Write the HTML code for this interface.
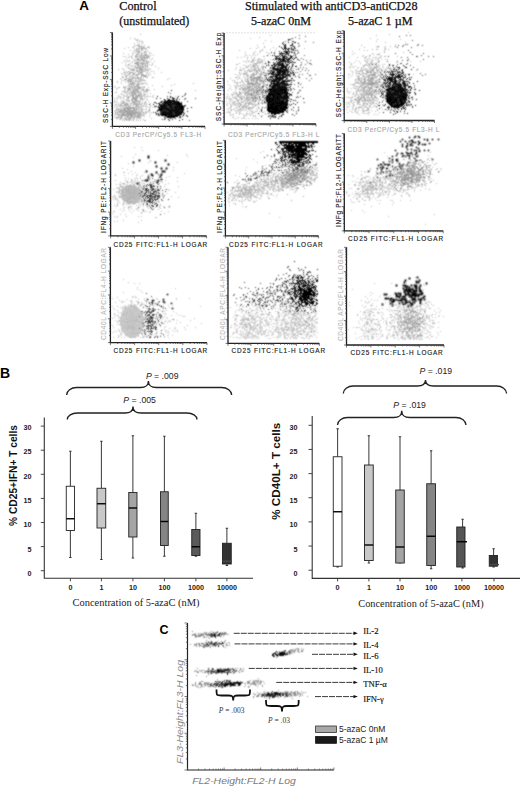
<!DOCTYPE html><html><head><meta charset="utf-8"><style>html,body{margin:0;padding:0;background:#fff}svg{display:block}</style></head><body>
<svg width="520" height="786" viewBox="0 0 520 786">
<defs><filter id="bl" x="0" y="0" width="520" height="786" filterUnits="userSpaceOnUse"><feConvolveMatrix order="3" kernelMatrix="1 2 1 2 6 2 1 2 1" divisor="18" edgeMode="none"/></filter><filter id="bl2"><feGaussianBlur stdDeviation="0.8"/></filter></defs>
<rect width="520" height="786" fill="#fff"/>
<text x="79.3" y="9.9" font-family='"Liberation Sans", sans-serif' font-weight="bold" font-size="13.4">A</text>
<g font-family='"Liberation Serif", serif' font-size="12.2" fill="#111" stroke="#111" stroke-width="0.25">
<text x="119.3" y="10">Control</text>
<text x="119.3" y="24.7" textLength="70" lengthAdjust="spacingAndGlyphs">(unstimulated)</text>
<text x="245" y="10" textLength="172.5" lengthAdjust="spacingAndGlyphs">Stimulated with antiCD3-antiCD28</text>
<text x="251" y="24.7" textLength="60" lengthAdjust="spacingAndGlyphs">5-azaC 0nM</text>
<text x="348" y="24.7" textLength="64.5" lengthAdjust="spacingAndGlyphs">5-azaC 1 µM</text>
</g>
<g filter="url(#bl)"><g shape-rendering="crispEdges" transform="translate(0 0.5)">
<path d="M114 86h1M114 98h1M114 100h1M114 101h1M114 102h1M114 105h1M114 107h1M114 111h1M114 115h1M114 117h1M115 87h1M115 92h1M115 104h1M115 110h1M115 112h1M115 113h1M116 89h1M116 92h1M116 98h1M116 101h1M116 102h1M116 104h1M116 108h1M116 109h1M116 110h1M116 111h1M116 113h1M116 116h1M116 117h1M117 81h1M117 82h1M117 88h1M117 97h1M117 99h1M117 105h1M117 107h1M117 109h1M117 112h1M117 113h1M117 114h1M117 117h1M117 118h1M118 69h1M118 87h1M118 95h1M118 96h1M118 103h1M118 104h1M118 108h1M118 110h1M118 111h1M118 112h1M118 114h1M118 115h1M118 117h1M119 87h1M119 97h1M119 105h1M119 106h1M119 109h1M119 111h1M119 112h1M119 114h1M119 115h1M119 117h1M119 119h1M120 78h1M120 96h1M120 98h1M120 102h1M120 104h1M120 105h1M120 106h1M120 108h1M120 109h1M120 111h1M120 112h1M120 113h1M120 114h1M120 117h1M120 119h1M121 73h1M121 79h1M121 81h1M121 83h1M121 93h1M121 94h1M121 97h1M121 100h1M121 103h1M121 104h1M121 105h1M121 107h1M121 109h1M121 110h1M121 111h1M121 112h1M121 114h1M121 116h1M121 117h1M121 118h1M122 62h1M122 68h1M122 74h1M122 76h1M122 91h1M122 101h1M122 102h1M122 103h1M122 108h1M122 110h1M122 111h1M122 112h1M122 115h1M122 116h1M122 118h1M122 120h1M123 53h1M123 56h1M123 69h1M123 72h1M123 77h1M123 80h1M123 86h1M123 87h1M123 91h1M123 94h1M123 95h1M123 97h1M123 98h1M123 100h1M123 101h1M123 102h1M123 103h1M123 105h1M123 106h1M123 108h1M123 109h1M123 110h1M123 111h1M123 112h1M123 113h1M123 114h1M123 115h1M123 119h1M124 48h1M124 60h1M124 70h1M124 72h1M124 74h1M124 79h1M124 87h1M124 88h1M124 90h1M124 92h1M124 96h1M124 102h1M124 103h1M124 104h1M124 105h1M124 107h1M124 108h1M124 109h1M124 110h1M124 111h1M124 112h1M124 113h1M124 116h1M124 120h1M125 56h1M125 61h1M125 63h1M125 72h1M125 73h1M125 75h1M125 76h1M125 78h1M125 80h1M125 82h1M125 86h1M125 87h1M125 88h1M125 90h1M125 91h1M125 92h1M125 95h1M125 99h1M125 102h1M125 105h1M125 107h1M125 108h1M125 109h1M125 110h1M125 111h1M125 112h1M125 114h1M125 117h1M125 118h1M125 119h1M126 58h1M126 67h1M126 71h1M126 75h1M126 76h1M126 77h1M126 79h1M126 100h1M126 102h1M126 103h1M126 104h1M126 105h1M126 106h1M126 107h1M126 108h1M126 110h1M126 111h1M126 112h1M126 113h1M126 114h1M126 115h1M126 118h1M126 120h1M127 60h1M127 61h1M127 65h1M127 72h1M127 73h1M127 75h1M127 78h1M127 80h1M127 81h1M127 86h1M127 88h1M127 90h1M127 91h1M127 92h1M127 94h1M127 95h1M127 97h1M127 98h1M127 99h1M127 100h1M127 103h1M127 104h1M127 105h1M127 107h1M127 108h1M127 109h1M127 110h1M127 111h1M127 112h1M127 113h1M127 114h1M127 115h1M127 116h1M127 117h1M127 119h1M128 47h1M128 54h1M128 57h1M128 64h1M128 65h1M128 67h1M128 68h1M128 71h1M128 74h1M128 78h1M128 79h1M128 80h1M128 81h1M128 82h1M128 84h1M128 85h1M128 88h1M128 89h1M128 90h1M128 92h1M128 98h1M128 100h1M128 101h1M128 104h1M128 105h1M128 106h1M128 107h1M128 108h1M128 109h1M128 110h1M128 111h1M128 112h1M128 113h1M128 114h1M128 115h1M128 116h1M128 117h1M128 118h1M128 119h1M128 120h1M129 56h1M129 60h1M129 61h1M129 64h1M129 68h1M129 71h1M129 72h1M129 73h1M129 74h1M129 76h1M129 77h1M129 80h1M129 81h1M129 83h1M129 85h1M129 86h1M129 87h1M129 90h1M129 94h1M129 97h1M129 100h1M129 102h1M129 106h1M129 107h1M129 108h1M129 109h1M129 110h1M129 111h1M129 112h1M129 113h1M129 114h1M129 115h1M129 117h1M129 118h1M129 119h1M129 120h1M130 38h1M130 50h1M130 63h1M130 66h1M130 69h1M130 72h1M130 73h1M130 75h1M130 78h1M130 79h1M130 80h1M130 82h1M130 83h1M130 84h1M130 86h1M130 88h1M130 89h1M130 91h1M130 95h1M130 96h1M130 103h1M130 104h1M130 105h1M130 106h1M130 107h1M130 109h1M130 110h1M130 111h1M130 112h1M130 113h1M130 114h1M130 115h1M130 117h1M130 118h1M130 119h1M131 56h1M131 65h1M131 68h1M131 69h1M131 70h1M131 76h1M131 77h1M131 79h1M131 80h1M131 81h1M131 83h1M131 85h1M131 86h1M131 87h1M131 90h1M131 92h1M131 93h1M131 94h1M131 95h1M131 99h1M131 100h1M131 107h1M131 108h1M131 111h1M131 112h1M131 113h1M131 114h1M131 115h1M131 116h1M131 118h1M131 120h1M132 47h1M132 53h1M132 58h1M132 61h1M132 62h1M132 66h1M132 69h1M132 70h1M132 74h1M132 75h1M132 77h1M132 78h1M132 79h1M132 81h1M132 82h1M132 83h1M132 84h1M132 86h1M132 87h1M132 88h1M132 89h1M132 91h1M132 92h1M132 93h1M132 94h1M132 95h1M132 97h1M132 98h1M132 99h1M132 100h1M132 102h1M132 105h1M132 107h1M132 108h1M132 110h1M132 111h1M132 112h1M132 113h1M132 114h1M132 115h1M132 116h1M133 47h1M133 51h1M133 53h1M133 65h1M133 68h1M133 69h1M133 70h1M133 72h1M133 73h1M133 74h1M133 76h1M133 77h1M133 78h1M133 80h1M133 82h1M133 84h1M133 85h1M133 87h1M133 89h1M133 90h1M133 91h1M133 93h1M133 95h1M133 99h1M133 101h1M133 103h1M133 104h1M133 105h1M133 107h1M133 108h1M133 109h1M133 110h1M133 111h1M133 112h1M133 113h1M133 114h1M133 116h1M133 117h1M133 118h1M134 38h1M134 43h1M134 45h1M134 46h1M134 49h1M134 50h1M134 59h1M134 63h1M134 67h1M134 69h1M134 70h1M134 74h1M134 77h1M134 81h1M134 83h1M134 85h1M134 86h1M134 87h1M134 88h1M134 89h1M134 90h1M134 91h1M134 92h1M134 93h1M134 94h1M134 97h1M134 98h1M134 99h1M134 100h1M134 101h1M134 102h1M134 103h1M134 107h1M134 109h1M134 110h1M134 111h1M134 112h1M134 113h1M134 115h1M134 116h1M134 117h1M134 118h1M135 39h1M135 52h1M135 55h1M135 57h1M135 60h1M135 63h1M135 65h1M135 66h1M135 67h1M135 72h1M135 77h1M135 78h1M135 79h1M135 80h1M135 81h1M135 83h1M135 86h1M135 87h1M135 88h1M135 89h1M135 90h1M135 91h1M135 92h1M135 94h1M135 95h1M135 96h1M135 97h1M135 99h1M135 100h1M135 101h1M135 102h1M135 103h1M135 104h1M135 106h1M135 107h1M135 109h1M135 110h1M135 111h1M135 112h1M135 113h1M135 114h1M135 115h1M136 40h1M136 45h1M136 48h1M136 50h1M136 54h1M136 55h1M136 56h1M136 57h1M136 59h1M136 62h1M136 64h1M136 68h1M136 71h1M136 74h1M136 75h1M136 78h1M136 81h1M136 84h1M136 85h1M136 86h1M136 88h1M136 89h1M136 90h1M136 91h1M136 95h1M136 96h1M136 100h1M136 101h1M136 103h1M136 104h1M136 105h1M136 106h1M136 107h1M136 108h1M136 109h1M136 110h1M136 111h1M136 112h1M136 113h1M136 115h1M136 116h1M136 117h1M136 119h1M136 120h1M137 39h1M137 40h1M137 42h1M137 45h1M137 48h1M137 50h1M137 52h1M137 53h1M137 54h1M137 56h1M137 58h1M137 59h1M137 60h1M137 61h1M137 62h1M137 63h1M137 64h1M137 65h1M137 68h1M137 69h1M137 70h1M137 71h1M137 74h1M137 75h1M137 76h1M137 77h1M137 78h1M137 80h1M137 81h1M137 84h1M137 85h1M137 86h1M137 87h1M137 88h1M137 89h1M137 91h1M137 92h1M137 96h1M137 97h1M137 98h1M137 100h1M137 101h1M137 102h1M137 103h1M137 104h1M137 105h1M137 106h1M137 108h1M137 109h1M137 112h1M137 113h1M137 114h1M137 115h1M137 116h1M137 117h1M137 118h1M138 44h1M138 45h1M138 46h1M138 48h1M138 49h1M138 50h1M138 51h1M138 52h1M138 54h1M138 56h1M138 58h1M138 59h1M138 60h1M138 62h1M138 64h1M138 71h1M138 72h1M138 73h1M138 74h1M138 77h1M138 79h1M138 81h1M138 82h1M138 83h1M138 84h1M138 85h1M138 86h1M138 90h1M138 91h1M138 92h1M138 93h1M138 95h1M138 96h1M138 100h1M138 102h1M138 104h1M138 105h1M138 107h1M138 108h1M138 110h1M138 111h1M138 112h1M138 113h1M138 114h1M138 115h1M138 117h1M138 120h1M139 40h1M139 41h1M139 43h1M139 45h1M139 46h1M139 47h1M139 48h1M139 50h1M139 51h1M139 52h1M139 53h1M139 55h1M139 57h1M139 59h1M139 61h1M139 63h1M139 65h1M139 68h1M139 69h1M139 71h1M139 72h1M139 78h1M139 80h1M139 81h1M139 83h1M139 84h1M139 87h1M139 88h1M139 89h1M139 92h1M139 94h1M139 96h1M139 97h1M139 100h1M139 101h1M139 104h1M139 106h1M139 107h1M139 109h1M139 110h1M139 112h1M139 113h1M139 114h1M139 115h1M139 116h1M139 117h1M139 118h1M140 34h1M140 46h1M140 48h1M140 55h1M140 56h1M140 57h1M140 59h1M140 60h1M140 61h1M140 63h1M140 65h1M140 67h1M140 72h1M140 73h1M140 77h1M140 78h1M140 79h1M140 80h1M140 81h1M140 87h1M140 88h1M140 91h1M140 92h1M140 93h1M140 94h1M140 95h1M140 97h1M140 98h1M140 99h1M140 101h1M140 104h1M140 106h1M140 108h1M140 111h1M140 112h1M140 114h1M140 115h1M140 116h1M140 118h1M140 120h1M141 41h1M141 45h1M141 46h1M141 47h1M141 49h1M141 50h1M141 52h1M141 53h1M141 54h1M141 55h1M141 56h1M141 57h1M141 58h1M141 59h1M141 62h1M141 63h1M141 64h1M141 66h1M141 68h1M141 69h1M141 70h1M141 71h1M141 73h1M141 74h1M141 75h1M141 76h1M141 79h1M141 81h1M141 83h1M141 84h1M141 87h1M141 88h1M141 90h1M141 93h1M141 95h1M141 96h1M141 98h1M141 99h1M141 103h1M141 104h1M141 105h1M141 108h1M141 109h1M141 110h1M141 111h1M141 113h1M141 115h1M141 117h1M142 41h1M142 42h1M142 43h1M142 47h1M142 48h1M142 49h1M142 50h1M142 53h1M142 55h1M142 57h1M142 58h1M142 60h1M142 62h1M142 64h1M142 65h1M142 67h1M142 68h1M142 69h1M142 70h1M142 71h1M142 72h1M142 74h1M142 75h1M142 79h1M142 80h1M142 83h1M142 86h1M142 89h1M142 90h1M142 94h1M142 96h1M142 98h1M142 101h1M142 103h1M142 106h1M142 109h1M142 111h1M142 112h1M142 114h1M142 115h1M143 46h1M143 47h1M143 48h1M143 55h1M143 56h1M143 57h1M143 59h1M143 60h1M143 61h1M143 63h1M143 64h1M143 66h1M143 67h1M143 69h1M143 71h1M143 75h1M143 78h1M143 83h1M143 87h1M143 88h1M143 89h1M143 90h1M143 92h1M143 95h1M143 99h1M143 105h1M143 106h1M143 109h1M143 112h1M143 113h1M143 119h1M144 45h1M144 47h1M144 48h1M144 51h1M144 52h1M144 53h1M144 54h1M144 55h1M144 56h1M144 58h1M144 59h1M144 60h1M144 61h1M144 62h1M144 63h1M144 65h1M144 68h1M144 70h1M144 71h1M144 75h1M144 80h1M144 83h1M144 86h1M144 87h1M144 90h1M144 91h1M144 93h1M144 94h1M144 95h1M144 96h1M144 98h1M144 102h1M144 103h1M144 104h1M144 113h1M144 114h1M144 116h1M144 120h1M145 48h1M145 49h1M145 51h1M145 52h1M145 54h1M145 57h1M145 58h1M145 60h1M145 63h1M145 64h1M145 65h1M145 66h1M145 67h1M145 68h1M145 69h1M145 70h1M145 75h1M145 80h1M145 82h1M145 91h1M145 94h1M145 97h1M145 101h1M145 102h1M145 105h1M145 106h1M145 109h1M145 111h1M145 112h1M145 120h1M146 48h1M146 51h1M146 53h1M146 54h1M146 56h1M146 57h1M146 58h1M146 60h1M146 61h1M146 62h1M146 63h1M146 66h1M146 69h1M146 71h1M146 76h1M146 77h1M146 83h1M146 90h1M146 91h1M146 92h1M146 96h1M146 99h1M146 103h1M146 104h1M146 107h1M146 109h1M146 112h1M146 113h1M147 47h1M147 50h1M147 55h1M147 56h1M147 57h1M147 58h1M147 61h1M147 62h1M147 63h1M147 64h1M147 65h1M147 67h1M147 69h1M147 70h1M147 77h1M147 84h1M147 89h1M147 90h1M147 91h1M147 94h1M147 96h1M147 99h1M147 106h1M147 111h1M148 46h1M148 47h1M148 55h1M148 56h1M148 57h1M148 61h1M148 62h1M148 69h1M148 70h1M148 75h1M148 87h1M148 89h1M148 96h1M148 101h1M148 111h1M149 47h1M149 52h1M149 53h1M149 56h1M149 58h1M149 64h1M149 68h1M149 72h1M149 90h1M149 107h1M149 108h1M149 109h1M149 112h1M149 116h1M150 55h1M150 61h1M150 69h1M150 74h1M150 93h1M150 96h1M150 103h1M150 105h1M150 106h1M150 114h1M151 53h1M151 59h1M151 65h1M151 71h1M151 112h1M151 118h1M152 58h1M152 63h1M152 64h1M152 77h1M152 85h1M152 96h1M152 107h1M153 55h1M153 71h1M153 77h1M153 95h1M153 97h1M154 61h1M154 73h1M154 89h1M155 66h1M155 107h1M158 68h1M161 72h1M161 101h1M162 86h1M163 111h1M167 79h1M169 78h1M170 103h1M171 85h1M174 84h1M175 96h1M178 103h1M179 106h1M193 83h1M195 90h1" stroke="#b5b5b5" stroke-width="1" fill="none"/>
<path d="M115 112h1M115 114h1M116 106h1M116 118h1M117 114h1M118 109h1M118 111h1M118 114h1M118 116h1M119 111h1M120 110h1M120 111h1M120 116h1M120 118h1M121 105h1M121 110h1M121 112h1M121 114h1M121 115h1M121 116h1M122 77h1M122 106h1M122 108h1M122 110h1M122 113h1M122 114h1M122 116h1M123 109h1M123 112h1M123 113h1M123 114h1M123 115h1M124 74h1M124 92h1M124 105h1M124 107h1M124 109h1M124 110h1M124 112h1M124 114h1M124 115h1M124 118h1M125 65h1M125 79h1M125 104h1M125 105h1M125 109h1M125 110h1M125 111h1M125 114h1M125 115h1M125 117h1M126 93h1M126 96h1M126 104h1M126 107h1M126 108h1M126 110h1M126 111h1M126 112h1M126 113h1M126 116h1M126 119h1M127 88h1M127 103h1M127 107h1M127 108h1M127 109h1M127 111h1M127 113h1M127 114h1M127 116h1M127 117h1M128 74h1M128 89h1M128 96h1M128 97h1M128 100h1M128 107h1M128 109h1M128 110h1M128 111h1M128 112h1M128 113h1M128 114h1M128 116h1M129 79h1M129 87h1M129 88h1M129 89h1M129 93h1M129 108h1M129 109h1M129 112h1M129 113h1M129 114h1M129 115h1M130 78h1M130 81h1M130 83h1M130 88h1M130 92h1M130 108h1M130 110h1M130 111h1M130 112h1M130 113h1M130 114h1M130 115h1M130 116h1M131 57h1M131 72h1M131 79h1M131 84h1M131 90h1M131 92h1M131 99h1M131 100h1M131 103h1M131 108h1M131 110h1M131 111h1M131 113h1M131 114h1M131 115h1M131 117h1M131 118h1M132 55h1M132 58h1M132 72h1M132 81h1M132 82h1M132 88h1M132 91h1M132 96h1M132 98h1M132 101h1M132 102h1M132 107h1M132 111h1M132 112h1M132 113h1M132 114h1M132 115h1M132 116h1M133 74h1M133 83h1M133 84h1M133 90h1M133 91h1M133 92h1M133 94h1M133 95h1M133 96h1M133 97h1M133 98h1M133 102h1M133 107h1M133 108h1M133 109h1M133 110h1M133 112h1M133 114h1M133 116h1M133 119h1M133 120h1M134 60h1M134 69h1M134 70h1M134 73h1M134 83h1M134 98h1M134 104h1M134 108h1M134 109h1M134 113h1M134 114h1M135 52h1M135 56h1M135 62h1M135 63h1M135 67h1M135 75h1M135 77h1M135 81h1M135 93h1M135 94h1M135 98h1M135 99h1M135 100h1M135 104h1M135 107h1M135 112h1M135 113h1M135 116h1M136 49h1M136 51h1M136 62h1M136 63h1M136 67h1M136 70h1M136 74h1M136 86h1M136 91h1M136 93h1M136 95h1M136 97h1M136 98h1M136 99h1M136 101h1M136 105h1M136 109h1M136 111h1M136 112h1M137 54h1M137 58h1M137 62h1M137 65h1M137 67h1M137 70h1M137 76h1M137 77h1M137 83h1M137 87h1M137 89h1M137 90h1M137 95h1M137 96h1M137 105h1M137 106h1M137 112h1M138 52h1M138 54h1M138 56h1M138 58h1M138 59h1M138 63h1M138 64h1M138 65h1M138 66h1M138 67h1M138 73h1M138 78h1M138 87h1M138 88h1M138 92h1M138 94h1M138 107h1M138 111h1M138 113h1M138 115h1M138 116h1M138 117h1M139 61h1M139 67h1M139 68h1M139 70h1M139 74h1M139 86h1M139 95h1M139 102h1M139 103h1M139 116h1M140 60h1M140 63h1M140 66h1M140 68h1M140 69h1M140 70h1M140 72h1M140 79h1M140 95h1M140 113h1M140 114h1M141 48h1M141 55h1M141 58h1M141 59h1M141 68h1M141 70h1M141 72h1M141 73h1M141 74h1M141 75h1M141 77h1M141 83h1M141 93h1M141 97h1M141 107h1M141 109h1M142 53h1M142 57h1M142 59h1M142 60h1M142 62h1M142 63h1M142 66h1M142 67h1M142 69h1M142 75h1M142 83h1M142 96h1M142 99h1M142 111h1M143 57h1M143 61h1M143 63h1M143 74h1M143 76h1M143 80h1M143 115h1M144 57h1M144 65h1M144 75h1M144 76h1M145 55h1M145 65h1M145 68h1M145 76h1M145 102h1M146 55h1M146 73h1M146 75h1M147 65h1M147 66h1M147 72h1M148 74h1" stroke="#a0a0a0" stroke-width="1" fill="none"/>
<ellipse cx="171.5" cy="108.5" rx="12.5" ry="9" fill="#000"/>
<path d="M149 104h1M149 110h1M153 104h1M154 102h1M154 106h1M155 106h1M155 112h1M156 98h1M156 103h1M156 106h1M156 113h1M156 114h1M157 96h1M157 110h1M157 111h1M158 103h1M158 106h1M158 107h1M158 109h1M158 113h1M158 114h1M158 115h1M159 103h1M159 104h1M159 105h1M159 115h1M160 102h1M160 104h1M160 106h1M160 107h1M160 108h1M160 109h1M160 113h1M160 114h1M161 101h1M161 102h1M161 104h1M161 107h1M161 108h1M161 111h1M161 114h1M161 115h1M162 101h1M162 105h1M162 106h1M162 107h1M162 108h1M162 110h1M162 115h1M163 102h1M163 103h1M163 104h1M163 105h1M163 107h1M163 108h1M163 109h1M163 110h1M163 111h1M163 112h1M163 115h1M164 99h1M164 100h1M164 101h1M164 103h1M164 106h1M164 107h1M164 108h1M164 109h1M164 110h1M164 111h1M164 113h1M164 115h1M164 117h1M164 119h1M165 100h1M165 101h1M165 102h1M165 103h1M165 105h1M165 106h1M165 107h1M165 108h1M165 109h1M165 110h1M165 111h1M165 112h1M165 113h1M165 115h1M165 116h1M165 118h1M166 101h1M166 104h1M166 105h1M166 106h1M166 107h1M166 108h1M166 109h1M166 110h1M166 111h1M166 112h1M166 113h1M166 115h1M167 98h1M167 100h1M167 102h1M167 104h1M167 105h1M167 106h1M167 107h1M167 108h1M167 109h1M167 110h1M167 111h1M167 112h1M167 114h1M167 117h1M168 99h1M168 101h1M168 102h1M168 103h1M168 105h1M168 106h1M168 107h1M168 108h1M168 109h1M168 110h1M168 111h1M168 112h1M168 113h1M168 115h1M168 119h1M169 99h1M169 100h1M169 103h1M169 105h1M169 106h1M169 107h1M169 108h1M169 109h1M169 110h1M169 111h1M169 112h1M169 113h1M169 114h1M169 115h1M169 116h1M169 117h1M169 120h1M170 96h1M170 97h1M170 101h1M170 102h1M170 103h1M170 104h1M170 105h1M170 106h1M170 108h1M170 109h1M170 111h1M170 113h1M170 114h1M170 116h1M170 117h1M170 118h1M171 90h1M171 101h1M171 102h1M171 103h1M171 104h1M171 105h1M171 107h1M171 108h1M171 109h1M171 110h1M171 111h1M171 112h1M171 113h1M171 115h1M171 117h1M172 97h1M172 98h1M172 101h1M172 104h1M172 105h1M172 106h1M172 107h1M172 108h1M172 110h1M172 111h1M172 113h1M172 114h1M172 115h1M172 117h1M172 119h1M173 98h1M173 99h1M173 100h1M173 102h1M173 103h1M173 104h1M173 105h1M173 106h1M173 107h1M173 108h1M173 109h1M173 110h1M173 111h1M173 112h1M173 113h1M173 114h1M173 115h1M173 117h1M174 98h1M174 102h1M174 103h1M174 104h1M174 105h1M174 106h1M174 107h1M174 109h1M174 110h1M174 111h1M174 112h1M174 114h1M174 115h1M175 101h1M175 102h1M175 103h1M175 104h1M175 105h1M175 107h1M175 108h1M175 109h1M175 111h1M175 112h1M175 113h1M175 114h1M175 118h1M176 99h1M176 100h1M176 102h1M176 103h1M176 105h1M176 106h1M176 107h1M176 108h1M176 109h1M176 111h1M176 112h1M176 113h1M176 114h1M176 116h1M177 98h1M177 101h1M177 102h1M177 104h1M177 105h1M177 106h1M177 107h1M177 108h1M177 109h1M177 110h1M177 111h1M177 112h1M177 114h1M177 115h1M178 96h1M178 101h1M178 105h1M178 106h1M178 107h1M178 109h1M178 110h1M178 112h1M178 113h1M178 114h1M179 106h1M179 107h1M179 108h1M179 109h1M179 111h1M179 112h1M179 114h1M179 117h1M179 120h1M180 104h1M180 105h1M180 107h1M180 110h1M180 111h1M180 112h1M180 113h1M180 116h1M180 117h1M181 102h1M181 103h1M181 105h1M181 110h1M181 111h1M181 113h1M181 114h1M182 96h1M182 105h1M182 108h1M182 109h1M182 110h1M182 119h1M183 106h1M183 107h1M183 110h1M183 112h1M183 114h1M183 115h1M184 106h1M184 113h1M185 98h1M185 105h1M186 115h1M187 108h1M187 111h1M187 116h1M191 107h1" stroke="#111" stroke-width="1" fill="none"/>
<path d="M146 89h1M153 112h1M155 102h1M158 110h1M159 115h1M160 98h1M160 104h1M160 112h1M161 111h1M161 113h1M162 104h1M162 119h1M163 103h1M163 110h1M165 110h1M166 104h1M167 96h1M167 106h1M167 111h1M167 115h1M168 92h1M168 106h1M168 107h1M170 93h1M170 108h1M172 102h1M172 105h1M173 106h1M173 108h1M173 112h1M173 113h1M174 105h1M174 114h1M177 97h1M179 99h1M180 110h1M182 116h1M184 95h1M184 99h1M184 105h1M185 93h1M185 94h1M187 101h1M189 120h1M195 98h1" stroke="#444" stroke-width="1" fill="none"/>
<path d="M226 97h1M226 98h1M226 101h1M226 104h1M226 112h1M227 81h1M227 94h1M227 96h1M227 103h1M227 105h1M227 109h1M228 70h1M228 84h1M228 90h1M228 98h1M228 108h1M228 111h1M228 112h1M229 88h1M229 96h1M229 99h1M229 101h1M229 103h1M229 112h1M230 78h1M230 86h1M230 98h1M230 99h1M230 101h1M230 104h1M230 106h1M230 107h1M230 108h1M230 110h1M230 112h1M230 114h1M230 115h1M231 89h1M231 94h1M231 99h1M231 105h1M231 106h1M231 109h1M231 110h1M232 80h1M232 94h1M232 95h1M232 97h1M232 100h1M232 102h1M232 103h1M232 104h1M232 114h1M232 117h1M233 92h1M233 94h1M233 97h1M233 102h1M233 109h1M233 114h1M233 116h1M234 80h1M234 81h1M234 82h1M234 85h1M234 93h1M234 96h1M234 98h1M234 101h1M234 102h1M234 103h1M234 104h1M234 105h1M234 109h1M234 118h1M235 69h1M235 74h1M235 77h1M235 86h1M235 87h1M235 89h1M235 91h1M235 93h1M235 97h1M235 98h1M235 101h1M235 104h1M235 107h1M235 111h1M236 64h1M236 67h1M236 77h1M236 82h1M236 83h1M236 85h1M236 87h1M236 88h1M236 92h1M236 93h1M236 94h1M236 96h1M236 98h1M236 99h1M236 103h1M236 105h1M236 108h1M236 110h1M236 112h1M236 113h1M236 118h1M237 57h1M237 64h1M237 75h1M237 77h1M237 79h1M237 82h1M237 83h1M237 85h1M237 94h1M237 95h1M237 96h1M237 99h1M237 100h1M237 101h1M237 103h1M237 105h1M237 107h1M237 110h1M238 85h1M238 86h1M238 94h1M238 95h1M238 96h1M238 100h1M238 101h1M238 103h1M238 104h1M238 106h1M238 109h1M238 111h1M238 117h1M239 50h1M239 63h1M239 70h1M239 72h1M239 73h1M239 75h1M239 78h1M239 82h1M239 88h1M239 89h1M239 91h1M239 92h1M239 93h1M239 94h1M239 96h1M239 97h1M239 99h1M239 102h1M239 103h1M239 105h1M239 106h1M239 107h1M239 109h1M239 110h1M239 112h1M239 113h1M239 114h1M240 67h1M240 69h1M240 70h1M240 74h1M240 82h1M240 86h1M240 88h1M240 89h1M240 93h1M240 94h1M240 97h1M240 98h1M240 103h1M240 104h1M240 105h1M240 108h1M240 109h1M240 111h1M241 57h1M241 70h1M241 73h1M241 79h1M241 81h1M241 84h1M241 93h1M241 95h1M241 96h1M241 97h1M241 98h1M241 99h1M241 100h1M241 101h1M241 102h1M241 104h1M241 105h1M241 107h1M241 109h1M241 110h1M241 113h1M241 118h1M242 69h1M242 80h1M242 81h1M242 85h1M242 87h1M242 88h1M242 89h1M242 90h1M242 92h1M242 96h1M242 98h1M242 99h1M242 102h1M242 106h1M242 107h1M242 108h1M243 61h1M243 65h1M243 68h1M243 73h1M243 74h1M243 77h1M243 82h1M243 83h1M243 88h1M243 90h1M243 92h1M243 97h1M243 101h1M243 102h1M243 105h1M243 106h1M243 107h1M243 109h1M243 110h1M243 114h1M243 117h1M243 118h1M244 56h1M244 68h1M244 70h1M244 71h1M244 73h1M244 74h1M244 76h1M244 84h1M244 86h1M244 87h1M244 88h1M244 89h1M244 91h1M244 93h1M244 94h1M244 96h1M244 97h1M244 99h1M244 100h1M244 104h1M244 105h1M244 106h1M244 108h1M244 115h1M244 116h1M245 52h1M245 54h1M245 61h1M245 65h1M245 72h1M245 73h1M245 78h1M245 79h1M245 80h1M245 81h1M245 84h1M245 86h1M245 88h1M245 89h1M245 90h1M245 91h1M245 92h1M245 93h1M245 94h1M245 95h1M245 98h1M245 100h1M245 102h1M245 103h1M245 104h1M245 106h1M245 107h1M245 110h1M245 118h1M246 55h1M246 62h1M246 66h1M246 67h1M246 71h1M246 73h1M246 76h1M246 81h1M246 86h1M246 88h1M246 89h1M246 92h1M246 93h1M246 95h1M246 97h1M246 98h1M246 99h1M246 101h1M246 103h1M246 105h1M246 106h1M246 107h1M246 108h1M246 109h1M246 113h1M246 114h1M246 115h1M247 57h1M247 58h1M247 60h1M247 67h1M247 70h1M247 72h1M247 74h1M247 75h1M247 76h1M247 78h1M247 80h1M247 81h1M247 82h1M247 83h1M247 84h1M247 85h1M247 86h1M247 87h1M247 88h1M247 90h1M247 91h1M247 92h1M247 93h1M247 94h1M247 95h1M247 96h1M247 97h1M247 98h1M247 99h1M247 100h1M247 101h1M247 103h1M247 106h1M247 111h1M247 113h1M248 61h1M248 65h1M248 69h1M248 70h1M248 75h1M248 76h1M248 80h1M248 83h1M248 84h1M248 86h1M248 88h1M248 89h1M248 90h1M248 91h1M248 92h1M248 93h1M248 94h1M248 95h1M248 97h1M248 99h1M248 100h1M248 102h1M248 103h1M248 104h1M248 105h1M248 107h1M248 109h1M248 118h1M249 55h1M249 61h1M249 70h1M249 83h1M249 84h1M249 85h1M249 86h1M249 87h1M249 88h1M249 89h1M249 93h1M249 94h1M249 96h1M249 97h1M249 98h1M249 99h1M249 100h1M249 102h1M249 103h1M249 104h1M249 107h1M249 110h1M249 113h1M249 114h1M250 38h1M250 48h1M250 64h1M250 65h1M250 67h1M250 69h1M250 71h1M250 74h1M250 76h1M250 77h1M250 78h1M250 79h1M250 80h1M250 83h1M250 84h1M250 87h1M250 89h1M250 90h1M250 93h1M250 94h1M250 95h1M250 97h1M250 99h1M250 101h1M250 102h1M250 103h1M250 107h1M250 108h1M250 110h1M250 115h1M251 57h1M251 61h1M251 68h1M251 70h1M251 71h1M251 75h1M251 76h1M251 77h1M251 79h1M251 80h1M251 81h1M251 82h1M251 86h1M251 88h1M251 90h1M251 92h1M251 93h1M251 95h1M251 97h1M251 101h1M251 103h1M251 104h1M251 108h1M251 111h1M251 112h1M251 114h1M252 55h1M252 59h1M252 60h1M252 61h1M252 65h1M252 66h1M252 67h1M252 70h1M252 73h1M252 77h1M252 78h1M252 79h1M252 80h1M252 82h1M252 84h1M252 85h1M252 86h1M252 87h1M252 88h1M252 89h1M252 90h1M252 93h1M252 94h1M252 95h1M252 96h1M252 99h1M252 101h1M252 103h1M252 104h1M252 106h1M252 107h1M252 109h1M252 111h1M252 113h1M252 118h1M253 52h1M253 54h1M253 59h1M253 60h1M253 61h1M253 63h1M253 64h1M253 65h1M253 66h1M253 70h1M253 73h1M253 74h1M253 75h1M253 76h1M253 77h1M253 78h1M253 79h1M253 81h1M253 83h1M253 84h1M253 89h1M253 90h1M253 92h1M253 97h1M253 98h1M253 100h1M253 101h1M253 104h1M253 107h1M253 112h1M253 115h1M253 116h1M254 53h1M254 57h1M254 58h1M254 63h1M254 65h1M254 66h1M254 67h1M254 68h1M254 69h1M254 71h1M254 72h1M254 75h1M254 77h1M254 78h1M254 81h1M254 83h1M254 84h1M254 85h1M254 86h1M254 87h1M254 88h1M254 90h1M254 92h1M254 93h1M254 94h1M254 96h1M254 98h1M254 99h1M254 101h1M254 105h1M254 106h1M254 112h1M255 51h1M255 55h1M255 60h1M255 63h1M255 64h1M255 68h1M255 69h1M255 74h1M255 77h1M255 83h1M255 86h1M255 87h1M255 90h1M255 92h1M255 96h1M255 99h1M255 100h1M255 104h1M255 105h1M255 111h1M255 115h1M255 116h1M255 118h1M256 48h1M256 63h1M256 64h1M256 65h1M256 68h1M256 70h1M256 71h1M256 77h1M256 78h1M256 80h1M256 82h1M256 83h1M256 84h1M256 85h1M256 86h1M256 87h1M256 88h1M256 89h1M256 90h1M256 91h1M256 93h1M256 94h1M256 95h1M256 97h1M256 100h1M256 105h1M256 108h1M256 111h1M257 45h1M257 54h1M257 59h1M257 62h1M257 63h1M257 66h1M257 67h1M257 70h1M257 71h1M257 72h1M257 76h1M257 77h1M257 78h1M257 79h1M257 80h1M257 81h1M257 83h1M257 85h1M257 87h1M257 89h1M257 94h1M257 96h1M257 97h1M257 99h1M257 104h1M257 110h1M257 118h1M258 47h1M258 59h1M258 60h1M258 62h1M258 65h1M258 67h1M258 68h1M258 69h1M258 70h1M258 76h1M258 78h1M258 83h1M258 84h1M258 85h1M258 86h1M258 87h1M258 89h1M258 90h1M258 93h1M258 95h1M258 99h1M258 101h1M258 102h1M258 104h1M258 106h1M258 107h1M258 108h1M259 37h1M259 52h1M259 58h1M259 59h1M259 61h1M259 62h1M259 63h1M259 69h1M259 70h1M259 71h1M259 74h1M259 76h1M259 77h1M259 78h1M259 79h1M259 80h1M259 81h1M259 85h1M259 86h1M259 88h1M259 90h1M259 91h1M259 94h1M259 96h1M259 100h1M259 108h1M259 111h1M259 115h1M260 50h1M260 51h1M260 61h1M260 62h1M260 68h1M260 73h1M260 74h1M260 75h1M260 76h1M260 77h1M260 79h1M260 81h1M260 83h1M260 84h1M260 88h1M260 89h1M260 90h1M260 92h1M260 93h1M260 94h1M260 98h1M260 99h1M260 100h1M260 103h1M261 59h1M261 60h1M261 62h1M261 66h1M261 71h1M261 72h1M261 73h1M261 74h1M261 75h1M261 77h1M261 80h1M261 81h1M261 82h1M261 88h1M261 89h1M261 90h1M261 92h1M261 102h1M262 49h1M262 50h1M262 60h1M262 61h1M262 62h1M262 64h1M262 66h1M262 67h1M262 69h1M262 73h1M262 77h1M262 79h1M262 81h1M262 83h1M262 87h1M262 90h1M262 91h1M262 92h1M262 94h1M262 95h1M262 96h1M262 112h1M262 115h1M263 43h1M263 56h1M263 67h1M263 68h1M263 70h1M263 72h1M263 74h1M263 80h1M263 81h1M263 83h1M263 86h1M263 87h1M263 90h1M263 95h1M263 96h1M263 98h1M263 112h1M264 46h1M264 47h1M264 56h1M264 59h1M264 63h1M264 66h1M264 73h1M264 79h1M264 83h1M264 85h1M264 93h1M264 99h1M264 100h1M264 103h1M264 108h1M264 111h1M265 40h1M265 61h1M265 63h1M265 73h1M265 76h1M265 77h1M265 84h1M265 86h1M265 89h1M265 93h1M265 95h1M265 97h1M265 103h1M265 113h1M265 114h1M266 52h1M266 85h1M266 89h1M266 90h1M266 93h1M266 103h1M266 106h1M267 70h1M267 71h1M267 73h1M267 81h1M267 83h1M267 84h1M267 85h1M267 89h1M267 90h1M267 92h1M267 95h1M267 96h1M267 105h1M267 113h1M268 53h1M268 62h1M268 65h1M268 70h1M268 71h1M268 75h1M268 77h1M268 81h1M268 91h1M268 100h1M268 103h1M269 53h1M269 65h1M269 69h1M269 74h1M269 79h1M269 113h1M270 35h1M270 49h1M270 55h1M270 59h1M270 62h1M270 68h1M270 87h1M270 88h1M270 89h1M270 96h1M270 115h1M271 41h1M271 67h1M271 68h1M271 71h1M271 73h1M271 87h1M271 89h1M271 94h1M271 99h1M272 59h1M272 65h1M272 70h1M272 91h1M273 47h1M273 80h1M273 85h1M274 60h1M274 79h1M274 89h1M274 97h1M275 50h1M275 66h1M275 73h1M275 79h1M275 110h1M276 48h1M276 59h1M276 66h1M276 92h1M276 100h1M277 62h1M277 80h1M277 110h1M278 71h1M279 55h1M279 72h1M280 76h1M281 69h1M283 46h1M283 66h1M283 70h1M285 93h1M285 97h1M287 83h1M289 39h1M292 68h1M294 68h1M301 83h1M303 102h1M304 48h1" stroke="#b5b5b5" stroke-width="1" fill="none"/>
<path d="M239 77h1M239 92h1M240 85h1M240 92h1M241 87h1M243 85h1M243 89h1M244 74h1M245 88h1M245 91h1M245 102h1M246 67h1M246 74h1M246 89h1M246 92h1M246 98h1M247 78h1M247 79h1M247 84h1M247 87h1M247 88h1M247 91h1M247 97h1M248 66h1M248 78h1M248 81h1M248 82h1M248 87h1M248 94h1M248 97h1M248 108h1M249 71h1M249 82h1M249 83h1M249 84h1M249 87h1M249 90h1M249 91h1M249 93h1M249 108h1M250 71h1M250 83h1M250 86h1M250 87h1M250 94h1M250 95h1M251 62h1M251 76h1M251 77h1M251 79h1M251 82h1M251 83h1M251 84h1M251 89h1M251 91h1M251 92h1M251 94h1M251 95h1M251 97h1M251 98h1M251 108h1M252 74h1M252 75h1M252 79h1M252 80h1M252 82h1M252 83h1M252 84h1M252 85h1M252 95h1M252 96h1M252 97h1M252 98h1M252 100h1M253 69h1M253 74h1M253 80h1M253 83h1M253 85h1M253 88h1M253 91h1M253 92h1M253 93h1M253 95h1M253 97h1M253 99h1M253 107h1M254 65h1M254 74h1M254 77h1M254 78h1M254 79h1M254 81h1M254 83h1M254 87h1M254 90h1M254 91h1M254 93h1M254 95h1M254 97h1M254 103h1M255 64h1M255 66h1M255 70h1M255 77h1M255 78h1M255 80h1M255 82h1M255 84h1M255 89h1M255 92h1M255 95h1M255 98h1M256 71h1M256 72h1M256 73h1M256 74h1M256 77h1M256 78h1M256 79h1M256 80h1M256 81h1M256 82h1M256 86h1M256 92h1M256 93h1M256 94h1M256 98h1M256 100h1M257 61h1M257 78h1M257 79h1M257 80h1M257 82h1M257 83h1M257 85h1M257 88h1M257 89h1M257 90h1M257 93h1M257 98h1M258 73h1M258 76h1M258 77h1M258 79h1M258 86h1M258 87h1M258 91h1M258 92h1M258 94h1M259 71h1M259 77h1M259 80h1M259 81h1M259 83h1M259 84h1M259 87h1M259 89h1M259 90h1M259 98h1M260 70h1M260 75h1M260 78h1M260 80h1M260 87h1M261 72h1M261 75h1M261 86h1M261 88h1M262 68h1M262 78h1M262 79h1M262 81h1M262 88h1M262 93h1M262 102h1M263 66h1M263 82h1M263 84h1M263 85h1M264 70h1M264 72h1M264 77h1M264 80h1M264 83h1M264 97h1M265 90h1M266 63h1M269 87h1" stroke="#a0a0a0" stroke-width="1" fill="none"/>
<path d="M267 108C266 100 268 92 271 86C274 82 280 80 284 82C288 86 289 96 288 104C287 111 281 114 275 114C270 114 268 112 267 108Z" fill="#000"/>
<path d="M250 77h1M251 94h1M255 97h1M255 101h1M256 92h1M257 91h1M258 103h1M258 113h1M259 77h1M259 96h1M259 97h1M260 90h1M260 99h1M261 80h1M261 92h1M261 109h1M261 110h1M261 111h1M261 116h1M262 86h1M262 87h1M262 91h1M262 94h1M262 97h1M262 100h1M262 103h1M262 107h1M263 72h1M263 81h1M263 86h1M263 89h1M263 90h1M263 92h1M263 96h1M264 75h1M264 95h1M264 98h1M264 101h1M264 102h1M265 63h1M265 67h1M265 75h1M265 79h1M265 81h1M265 90h1M265 91h1M265 92h1M265 97h1M265 99h1M265 102h1M265 107h1M266 65h1M266 73h1M266 75h1M266 77h1M266 78h1M266 85h1M266 87h1M266 91h1M266 93h1M266 95h1M266 96h1M266 97h1M266 98h1M266 99h1M266 100h1M266 101h1M267 55h1M267 79h1M267 80h1M267 84h1M267 88h1M267 90h1M267 91h1M267 95h1M267 96h1M267 97h1M267 100h1M267 102h1M267 103h1M267 110h1M268 61h1M268 62h1M268 64h1M268 65h1M268 70h1M268 73h1M268 74h1M268 78h1M268 80h1M268 89h1M268 90h1M268 92h1M268 93h1M268 95h1M268 96h1M268 97h1M268 98h1M268 99h1M268 100h1M268 101h1M268 103h1M268 104h1M268 108h1M268 113h1M268 116h1M269 62h1M269 71h1M269 73h1M269 77h1M269 79h1M269 80h1M269 81h1M269 85h1M269 86h1M269 88h1M269 89h1M269 91h1M269 96h1M269 97h1M269 102h1M269 104h1M269 105h1M269 106h1M269 108h1M269 111h1M269 115h1M270 67h1M270 68h1M270 70h1M270 72h1M270 73h1M270 76h1M270 77h1M270 79h1M270 82h1M270 84h1M270 85h1M270 86h1M270 88h1M270 90h1M270 91h1M270 92h1M270 93h1M270 96h1M270 97h1M270 99h1M270 100h1M270 102h1M270 103h1M270 105h1M270 109h1M270 116h1M270 118h1M271 52h1M271 65h1M271 70h1M271 71h1M271 73h1M271 74h1M271 76h1M271 77h1M271 79h1M271 80h1M271 81h1M271 82h1M271 83h1M271 84h1M271 86h1M271 88h1M271 90h1M271 91h1M271 92h1M271 93h1M271 97h1M271 98h1M271 99h1M271 102h1M271 103h1M271 108h1M271 109h1M271 110h1M271 114h1M271 116h1M272 55h1M272 65h1M272 66h1M272 67h1M272 68h1M272 69h1M272 71h1M272 72h1M272 73h1M272 74h1M272 76h1M272 77h1M272 78h1M272 80h1M272 81h1M272 83h1M272 85h1M272 86h1M272 87h1M272 88h1M272 90h1M272 91h1M272 92h1M272 93h1M272 96h1M272 98h1M272 101h1M272 102h1M272 104h1M272 110h1M272 112h1M272 115h1M272 116h1M273 59h1M273 62h1M273 64h1M273 67h1M273 68h1M273 69h1M273 70h1M273 71h1M273 72h1M273 73h1M273 74h1M273 75h1M273 76h1M273 78h1M273 79h1M273 80h1M273 81h1M273 82h1M273 83h1M273 84h1M273 85h1M273 86h1M273 87h1M273 88h1M273 89h1M273 90h1M273 91h1M273 92h1M273 94h1M273 98h1M273 100h1M273 101h1M273 105h1M273 106h1M273 108h1M273 112h1M273 115h1M273 117h1M274 53h1M274 55h1M274 63h1M274 64h1M274 65h1M274 66h1M274 67h1M274 68h1M274 69h1M274 71h1M274 72h1M274 74h1M274 76h1M274 79h1M274 80h1M274 81h1M274 82h1M274 83h1M274 85h1M274 87h1M274 88h1M274 89h1M274 92h1M274 93h1M274 95h1M274 96h1M274 97h1M274 98h1M274 99h1M274 100h1M274 101h1M274 102h1M274 103h1M274 104h1M274 105h1M274 106h1M274 110h1M274 114h1M274 116h1M275 56h1M275 58h1M275 59h1M275 63h1M275 65h1M275 66h1M275 68h1M275 69h1M275 70h1M275 73h1M275 74h1M275 75h1M275 76h1M275 77h1M275 78h1M275 79h1M275 80h1M275 81h1M275 83h1M275 84h1M275 85h1M275 86h1M275 87h1M275 89h1M275 91h1M275 92h1M275 93h1M275 94h1M275 95h1M275 96h1M275 97h1M275 99h1M275 100h1M275 103h1M275 104h1M275 108h1M275 112h1M275 114h1M275 116h1M275 117h1M276 56h1M276 57h1M276 58h1M276 59h1M276 61h1M276 64h1M276 65h1M276 68h1M276 69h1M276 70h1M276 72h1M276 74h1M276 75h1M276 76h1M276 77h1M276 78h1M276 79h1M276 80h1M276 81h1M276 82h1M276 84h1M276 85h1M276 86h1M276 87h1M276 88h1M276 89h1M276 90h1M276 91h1M276 92h1M276 93h1M276 94h1M276 95h1M276 97h1M276 98h1M276 100h1M276 101h1M276 102h1M276 104h1M276 105h1M276 112h1M277 56h1M277 58h1M277 62h1M277 63h1M277 64h1M277 66h1M277 67h1M277 68h1M277 69h1M277 70h1M277 71h1M277 72h1M277 73h1M277 74h1M277 75h1M277 76h1M277 77h1M277 78h1M277 79h1M277 80h1M277 81h1M277 83h1M277 84h1M277 85h1M277 86h1M277 88h1M277 89h1M277 90h1M277 91h1M277 94h1M277 95h1M277 96h1M277 99h1M277 100h1M277 101h1M277 102h1M277 104h1M277 106h1M277 108h1M277 111h1M278 56h1M278 58h1M278 59h1M278 60h1M278 62h1M278 63h1M278 64h1M278 65h1M278 66h1M278 68h1M278 69h1M278 70h1M278 71h1M278 72h1M278 73h1M278 74h1M278 75h1M278 77h1M278 78h1M278 79h1M278 80h1M278 81h1M278 82h1M278 83h1M278 84h1M278 85h1M278 86h1M278 87h1M278 88h1M278 89h1M278 91h1M278 92h1M278 95h1M278 96h1M278 97h1M278 98h1M278 99h1M278 100h1M278 101h1M278 102h1M278 104h1M278 106h1M278 108h1M278 109h1M278 111h1M278 112h1M278 118h1M279 46h1M279 51h1M279 53h1M279 55h1M279 57h1M279 58h1M279 59h1M279 61h1M279 62h1M279 63h1M279 64h1M279 65h1M279 67h1M279 68h1M279 69h1M279 70h1M279 71h1M279 72h1M279 73h1M279 74h1M279 75h1M279 76h1M279 77h1M279 78h1M279 79h1M279 80h1M279 81h1M279 82h1M279 83h1M279 84h1M279 85h1M279 86h1M279 87h1M279 89h1M279 90h1M279 91h1M279 92h1M279 93h1M279 95h1M279 98h1M279 99h1M279 100h1M279 101h1M279 104h1M279 106h1M279 107h1M279 108h1M279 109h1M279 112h1M279 116h1M280 53h1M280 54h1M280 56h1M280 58h1M280 59h1M280 60h1M280 61h1M280 62h1M280 64h1M280 65h1M280 67h1M280 68h1M280 69h1M280 70h1M280 71h1M280 72h1M280 73h1M280 74h1M280 75h1M280 76h1M280 77h1M280 78h1M280 79h1M280 80h1M280 82h1M280 83h1M280 84h1M280 85h1M280 86h1M280 87h1M280 88h1M280 90h1M280 91h1M280 92h1M280 93h1M280 94h1M280 95h1M280 96h1M280 97h1M280 98h1M280 100h1M280 101h1M280 102h1M280 103h1M280 106h1M280 109h1M280 110h1M281 47h1M281 52h1M281 53h1M281 55h1M281 59h1M281 60h1M281 61h1M281 63h1M281 64h1M281 65h1M281 66h1M281 67h1M281 68h1M281 69h1M281 70h1M281 71h1M281 72h1M281 74h1M281 75h1M281 77h1M281 78h1M281 79h1M281 81h1M281 83h1M281 84h1M281 85h1M281 86h1M281 87h1M281 88h1M281 91h1M281 92h1M281 94h1M281 95h1M281 96h1M281 97h1M281 98h1M281 99h1M281 100h1M281 105h1M281 110h1M281 111h1M281 115h1M281 116h1M282 43h1M282 48h1M282 53h1M282 54h1M282 55h1M282 56h1M282 57h1M282 58h1M282 59h1M282 60h1M282 61h1M282 62h1M282 63h1M282 64h1M282 65h1M282 66h1M282 67h1M282 68h1M282 69h1M282 70h1M282 71h1M282 72h1M282 73h1M282 74h1M282 75h1M282 76h1M282 77h1M282 78h1M282 79h1M282 80h1M282 81h1M282 82h1M282 84h1M282 85h1M282 86h1M282 87h1M282 88h1M282 90h1M282 91h1M282 93h1M282 94h1M282 97h1M282 99h1M282 100h1M282 102h1M282 104h1M282 105h1M282 106h1M282 107h1M282 114h1M283 42h1M283 44h1M283 49h1M283 51h1M283 53h1M283 56h1M283 57h1M283 58h1M283 59h1M283 60h1M283 61h1M283 63h1M283 64h1M283 65h1M283 66h1M283 67h1M283 68h1M283 69h1M283 70h1M283 71h1M283 72h1M283 73h1M283 74h1M283 75h1M283 76h1M283 77h1M283 78h1M283 80h1M283 81h1M283 82h1M283 83h1M283 84h1M283 85h1M283 86h1M283 87h1M283 88h1M283 89h1M283 90h1M283 91h1M283 92h1M283 93h1M283 94h1M283 95h1M283 96h1M283 97h1M283 98h1M283 99h1M283 101h1M283 105h1M283 106h1M283 111h1M283 112h1M283 114h1M284 45h1M284 46h1M284 47h1M284 48h1M284 51h1M284 53h1M284 55h1M284 56h1M284 57h1M284 58h1M284 59h1M284 60h1M284 61h1M284 65h1M284 66h1M284 67h1M284 69h1M284 70h1M284 71h1M284 72h1M284 73h1M284 74h1M284 76h1M284 77h1M284 80h1M284 81h1M284 82h1M284 83h1M284 84h1M284 85h1M284 86h1M284 87h1M284 88h1M284 91h1M284 93h1M284 96h1M284 97h1M284 99h1M284 102h1M284 103h1M284 104h1M284 105h1M285 44h1M285 45h1M285 46h1M285 47h1M285 48h1M285 49h1M285 51h1M285 52h1M285 54h1M285 56h1M285 58h1M285 60h1M285 61h1M285 62h1M285 63h1M285 66h1M285 67h1M285 68h1M285 69h1M285 70h1M285 71h1M285 72h1M285 73h1M285 74h1M285 75h1M285 76h1M285 77h1M285 79h1M285 80h1M285 81h1M285 83h1M285 84h1M285 85h1M285 86h1M285 87h1M285 88h1M285 89h1M285 93h1M285 94h1M285 95h1M285 96h1M285 97h1M285 98h1M285 101h1M285 102h1M285 103h1M285 104h1M285 105h1M285 109h1M285 110h1M286 48h1M286 51h1M286 52h1M286 53h1M286 54h1M286 56h1M286 57h1M286 58h1M286 59h1M286 61h1M286 64h1M286 65h1M286 66h1M286 67h1M286 68h1M286 69h1M286 70h1M286 71h1M286 74h1M286 75h1M286 76h1M286 78h1M286 79h1M286 81h1M286 82h1M286 84h1M286 85h1M286 91h1M286 92h1M286 93h1M286 96h1M286 98h1M286 99h1M286 101h1M286 102h1M286 103h1M286 106h1M286 111h1M287 49h1M287 51h1M287 52h1M287 53h1M287 57h1M287 59h1M287 60h1M287 61h1M287 62h1M287 64h1M287 65h1M287 69h1M287 70h1M287 71h1M287 72h1M287 73h1M287 74h1M287 75h1M287 76h1M287 77h1M287 78h1M287 80h1M287 81h1M287 83h1M287 84h1M287 85h1M287 87h1M287 89h1M287 91h1M287 94h1M287 95h1M287 97h1M287 99h1M287 102h1M287 107h1M287 108h1M287 110h1M287 112h1M288 39h1M288 40h1M288 42h1M288 48h1M288 49h1M288 50h1M288 53h1M288 54h1M288 55h1M288 58h1M288 59h1M288 60h1M288 61h1M288 62h1M288 64h1M288 67h1M288 68h1M288 69h1M288 70h1M288 71h1M288 72h1M288 74h1M288 75h1M288 80h1M288 85h1M288 89h1M288 90h1M288 93h1M288 96h1M288 97h1M288 100h1M289 48h1M289 51h1M289 52h1M289 58h1M289 59h1M289 61h1M289 66h1M289 71h1M289 74h1M289 75h1M289 76h1M289 80h1M289 84h1M289 87h1M289 94h1M289 95h1M289 104h1M290 39h1M290 45h1M290 55h1M290 56h1M290 57h1M290 58h1M290 60h1M290 62h1M290 69h1M290 72h1M290 73h1M290 80h1M290 84h1M290 86h1M290 88h1M290 90h1M290 94h1M290 101h1M290 105h1M291 45h1M291 47h1M291 48h1M291 49h1M291 51h1M291 56h1M291 57h1M291 60h1M291 62h1M291 67h1M291 68h1M291 70h1M291 73h1M291 78h1M291 80h1M291 82h1M291 84h1M291 89h1M291 94h1M291 95h1M291 99h1M291 104h1M291 109h1M292 38h1M292 41h1M292 43h1M292 44h1M292 45h1M292 49h1M292 52h1M292 56h1M292 58h1M292 64h1M292 65h1M292 66h1M292 71h1M292 72h1M292 78h1M292 114h1M293 46h1M293 49h1M293 50h1M293 59h1M293 72h1M293 73h1M293 74h1M293 75h1M293 80h1M293 100h1M293 103h1M293 107h1M294 42h1M294 47h1M294 48h1M294 52h1M294 53h1M294 58h1M294 62h1M294 74h1M295 42h1M295 50h1M295 55h1M295 57h1M295 66h1M295 76h1M295 100h1M295 104h1M296 57h1M296 66h1M296 97h1M296 113h1M297 50h1M297 59h1M297 102h1M298 43h1M298 52h1M298 83h1M298 92h1M298 107h1M298 110h1M299 77h1M303 98h1" stroke="#111" stroke-width="1" fill="none"/>
<path d="M271 96h1M272 77h1M274 52h1M276 87h1M277 80h1M278 63h1M279 57h1M279 68h1M279 82h1M280 56h1M280 63h1M280 75h1M280 85h1M281 60h1M281 84h1M281 99h1M282 57h1M282 69h1M282 95h1M283 51h1M283 85h1M283 94h1M284 100h1M285 41h1M285 50h1M285 79h1M285 100h1M286 57h1M286 71h1M286 72h1M286 75h1M286 83h1M287 61h1M287 76h1M287 77h1M288 51h1M288 69h1M288 70h1M288 71h1M288 81h1M288 84h1M288 87h1M288 98h1M288 106h1M289 39h1M289 61h1M289 62h1M289 63h1M289 76h1M289 81h1M289 93h1M289 98h1M290 75h1M290 76h1M290 99h1M290 105h1M291 52h1M291 60h1M292 61h1M292 62h1M292 71h1M292 92h1M293 41h1M293 55h1M293 62h1M293 64h1M293 70h1M293 88h1M293 110h1M294 46h1M294 80h1M294 84h1M294 89h1M294 115h1M295 37h1M295 48h1M295 54h1M295 62h1M295 72h1M296 69h1M296 111h1M297 53h1M297 72h1M297 93h1M297 96h1M298 46h1M298 59h1M298 68h1M298 69h1M298 76h1M298 82h1M298 86h1M298 97h1M298 109h1M299 35h1M299 38h1M299 45h1M299 60h1M299 74h1M299 90h1M300 65h1M300 67h1M300 71h1M300 84h1M300 90h1M300 96h1M301 58h1M301 62h1M301 64h1M302 69h1M302 74h1M302 87h1M303 59h1M303 67h1M304 55h1M304 102h1M305 36h1M305 41h1M305 64h1M305 70h1M306 60h1M306 68h1M306 78h1M307 62h1M307 73h1M308 70h1M309 63h1M309 75h1M309 80h1M310 60h1M310 63h1M310 75h1M311 64h1M311 78h1M313 42h1M315 74h1" stroke="#555" stroke-width="1" fill="none"/>
<path d="M346 97h1M346 102h1M346 104h1M346 109h1M347 88h1M347 90h1M347 91h1M347 106h1M347 107h1M347 112h1M348 74h1M348 77h1M348 92h1M348 97h1M348 102h1M348 103h1M349 57h1M349 62h1M349 67h1M349 74h1M349 93h1M349 97h1M349 104h1M349 106h1M349 110h1M350 65h1M350 67h1M350 70h1M350 84h1M350 91h1M350 99h1M350 101h1M350 102h1M351 63h1M351 64h1M351 76h1M351 88h1M351 97h1M351 98h1M351 100h1M351 101h1M351 111h1M352 51h1M352 54h1M352 66h1M352 71h1M352 72h1M352 74h1M352 84h1M352 94h1M352 97h1M352 100h1M352 103h1M352 106h1M352 108h1M352 109h1M352 112h1M353 67h1M353 84h1M353 85h1M353 87h1M353 92h1M353 93h1M353 96h1M353 102h1M353 104h1M353 105h1M353 107h1M354 53h1M354 62h1M354 83h1M354 85h1M354 88h1M354 94h1M354 102h1M354 105h1M354 110h1M355 66h1M355 70h1M355 72h1M355 79h1M355 80h1M355 81h1M355 83h1M355 86h1M355 88h1M355 95h1M355 96h1M355 98h1M355 99h1M355 100h1M355 108h1M355 109h1M355 110h1M355 112h1M356 60h1M356 70h1M356 73h1M356 75h1M356 79h1M356 82h1M356 83h1M356 86h1M356 88h1M356 90h1M356 91h1M356 92h1M356 93h1M356 94h1M356 99h1M356 100h1M356 107h1M356 108h1M356 111h1M357 57h1M357 68h1M357 71h1M357 73h1M357 76h1M357 78h1M357 81h1M357 82h1M357 86h1M357 89h1M357 91h1M357 94h1M357 97h1M357 98h1M357 100h1M357 101h1M357 102h1M357 103h1M357 104h1M357 112h1M357 113h1M358 67h1M358 71h1M358 73h1M358 76h1M358 77h1M358 79h1M358 80h1M358 82h1M358 87h1M358 88h1M358 89h1M358 90h1M358 95h1M358 96h1M358 97h1M358 98h1M358 99h1M358 100h1M358 101h1M358 102h1M358 103h1M358 107h1M358 108h1M358 110h1M359 49h1M359 61h1M359 71h1M359 73h1M359 74h1M359 76h1M359 78h1M359 79h1M359 80h1M359 83h1M359 86h1M359 87h1M359 90h1M359 91h1M359 93h1M359 96h1M359 98h1M359 99h1M359 101h1M359 102h1M359 104h1M359 106h1M359 107h1M359 114h1M360 63h1M360 70h1M360 71h1M360 74h1M360 78h1M360 80h1M360 81h1M360 82h1M360 84h1M360 85h1M360 86h1M360 89h1M360 91h1M360 94h1M360 97h1M360 98h1M360 99h1M360 104h1M360 107h1M361 45h1M361 67h1M361 68h1M361 69h1M361 70h1M361 74h1M361 78h1M361 80h1M361 81h1M361 82h1M361 83h1M361 85h1M361 86h1M361 87h1M361 89h1M361 90h1M361 94h1M361 95h1M361 96h1M361 97h1M361 98h1M361 99h1M361 100h1M361 106h1M361 107h1M362 56h1M362 70h1M362 71h1M362 72h1M362 73h1M362 75h1M362 79h1M362 82h1M362 83h1M362 84h1M362 85h1M362 87h1M362 88h1M362 90h1M362 92h1M362 94h1M362 95h1M362 100h1M362 101h1M362 105h1M362 109h1M362 110h1M362 112h1M363 55h1M363 65h1M363 66h1M363 67h1M363 69h1M363 73h1M363 76h1M363 79h1M363 81h1M363 82h1M363 83h1M363 84h1M363 85h1M363 87h1M363 88h1M363 89h1M363 90h1M363 93h1M363 95h1M363 96h1M363 97h1M363 100h1M363 102h1M363 103h1M363 104h1M363 105h1M363 107h1M363 108h1M363 110h1M363 111h1M363 113h1M364 47h1M364 50h1M364 57h1M364 60h1M364 65h1M364 69h1M364 76h1M364 77h1M364 78h1M364 80h1M364 81h1M364 82h1M364 83h1M364 84h1M364 86h1M364 87h1M364 88h1M364 90h1M364 92h1M364 93h1M364 94h1M364 95h1M364 96h1M364 97h1M364 98h1M364 99h1M364 100h1M364 101h1M364 103h1M364 105h1M364 111h1M365 57h1M365 58h1M365 60h1M365 64h1M365 65h1M365 68h1M365 74h1M365 77h1M365 79h1M365 81h1M365 83h1M365 84h1M365 86h1M365 87h1M365 91h1M365 93h1M365 94h1M365 98h1M365 99h1M365 100h1M365 101h1M365 103h1M365 106h1M365 107h1M365 110h1M365 113h1M366 61h1M366 62h1M366 64h1M366 69h1M366 72h1M366 73h1M366 74h1M366 76h1M366 77h1M366 83h1M366 85h1M366 86h1M366 87h1M366 89h1M366 91h1M366 92h1M366 93h1M366 94h1M366 95h1M366 96h1M366 98h1M366 100h1M366 103h1M366 104h1M366 106h1M366 110h1M367 50h1M367 59h1M367 60h1M367 62h1M367 65h1M367 69h1M367 70h1M367 74h1M367 76h1M367 79h1M367 82h1M367 83h1M367 84h1M367 85h1M367 87h1M367 89h1M367 92h1M367 93h1M367 94h1M367 97h1M367 99h1M367 100h1M367 101h1M367 103h1M367 104h1M367 107h1M367 108h1M367 109h1M367 110h1M367 113h1M368 58h1M368 63h1M368 64h1M368 71h1M368 75h1M368 76h1M368 78h1M368 80h1M368 81h1M368 82h1M368 83h1M368 85h1M368 86h1M368 87h1M368 88h1M368 90h1M368 91h1M368 93h1M368 94h1M368 95h1M368 96h1M368 97h1M368 98h1M368 100h1M368 101h1M368 108h1M368 109h1M368 110h1M368 112h1M368 114h1M369 55h1M369 56h1M369 60h1M369 64h1M369 65h1M369 67h1M369 69h1M369 70h1M369 74h1M369 75h1M369 76h1M369 78h1M369 80h1M369 81h1M369 83h1M369 84h1M369 88h1M369 89h1M369 90h1M369 91h1M369 93h1M369 94h1M369 98h1M369 99h1M369 100h1M369 102h1M369 103h1M369 105h1M369 106h1M369 107h1M369 112h1M370 38h1M370 55h1M370 58h1M370 62h1M370 63h1M370 65h1M370 67h1M370 68h1M370 74h1M370 75h1M370 77h1M370 78h1M370 79h1M370 80h1M370 81h1M370 82h1M370 83h1M370 84h1M370 85h1M370 87h1M370 89h1M370 92h1M370 93h1M370 94h1M370 95h1M370 97h1M370 99h1M370 100h1M370 101h1M370 103h1M370 105h1M371 63h1M371 64h1M371 67h1M371 70h1M371 72h1M371 73h1M371 74h1M371 75h1M371 78h1M371 79h1M371 80h1M371 84h1M371 85h1M371 86h1M371 87h1M371 88h1M371 91h1M371 93h1M371 94h1M371 96h1M371 97h1M371 100h1M371 102h1M371 104h1M371 107h1M371 110h1M372 53h1M372 59h1M372 60h1M372 61h1M372 63h1M372 65h1M372 67h1M372 70h1M372 75h1M372 76h1M372 77h1M372 78h1M372 79h1M372 81h1M372 82h1M372 85h1M372 87h1M372 88h1M372 89h1M372 91h1M372 92h1M372 95h1M372 97h1M372 98h1M372 99h1M372 100h1M372 102h1M372 103h1M373 54h1M373 64h1M373 70h1M373 72h1M373 74h1M373 75h1M373 77h1M373 78h1M373 79h1M373 82h1M373 84h1M373 86h1M373 91h1M373 93h1M373 94h1M373 98h1M373 99h1M373 101h1M373 102h1M373 103h1M373 106h1M374 63h1M374 67h1M374 72h1M374 73h1M374 75h1M374 77h1M374 82h1M374 83h1M374 84h1M374 85h1M374 86h1M374 89h1M374 90h1M374 91h1M374 95h1M374 96h1M374 97h1M374 98h1M374 100h1M374 105h1M374 114h1M375 57h1M375 59h1M375 73h1M375 74h1M375 75h1M375 77h1M375 78h1M375 80h1M375 81h1M375 82h1M375 83h1M375 84h1M375 86h1M375 87h1M375 91h1M375 94h1M375 97h1M375 100h1M375 103h1M375 106h1M375 111h1M376 35h1M376 41h1M376 46h1M376 49h1M376 54h1M376 57h1M376 62h1M376 64h1M376 65h1M376 67h1M376 68h1M376 69h1M376 70h1M376 72h1M376 80h1M376 81h1M376 82h1M376 83h1M376 84h1M376 86h1M376 87h1M376 90h1M376 91h1M376 92h1M376 93h1M376 94h1M376 97h1M376 98h1M376 100h1M376 103h1M376 106h1M376 107h1M377 39h1M377 47h1M377 49h1M377 59h1M377 68h1M377 73h1M377 76h1M377 79h1M377 80h1M377 82h1M377 83h1M377 84h1M377 85h1M377 86h1M377 87h1M377 91h1M377 98h1M377 101h1M377 104h1M377 106h1M377 109h1M377 110h1M377 114h1M378 60h1M378 62h1M378 64h1M378 66h1M378 69h1M378 70h1M378 72h1M378 74h1M378 75h1M378 79h1M378 81h1M378 82h1M378 84h1M378 86h1M378 87h1M378 89h1M378 90h1M378 91h1M378 92h1M378 93h1M378 94h1M378 99h1M378 103h1M379 53h1M379 57h1M379 61h1M379 65h1M379 67h1M379 69h1M379 71h1M379 75h1M379 78h1M379 85h1M379 88h1M379 92h1M379 93h1M379 108h1M379 112h1M380 55h1M380 57h1M380 68h1M380 72h1M380 73h1M380 78h1M380 81h1M380 84h1M380 88h1M380 90h1M381 56h1M381 59h1M381 69h1M381 72h1M381 74h1M381 77h1M381 79h1M381 82h1M381 84h1M381 89h1M381 90h1M381 92h1M381 107h1M382 64h1M382 66h1M382 71h1M382 75h1M382 83h1M382 84h1M382 85h1M382 91h1M382 92h1M382 102h1M382 104h1M382 109h1M383 67h1M383 69h1M383 75h1M383 79h1M383 83h1M383 91h1M383 96h1M383 99h1M383 100h1M383 105h1M384 47h1M384 49h1M384 52h1M384 56h1M384 64h1M384 76h1M384 78h1M384 79h1M384 80h1M384 90h1M384 97h1M385 42h1M385 46h1M385 48h1M385 49h1M385 56h1M385 59h1M385 69h1M385 70h1M385 71h1M385 74h1M385 75h1M385 77h1M385 78h1M385 87h1M385 89h1M385 94h1M385 97h1M385 99h1M386 67h1M386 69h1M386 85h1M386 89h1M386 93h1M386 94h1M386 109h1M387 59h1M387 61h1M387 68h1M387 71h1M387 79h1M387 84h1M387 87h1M387 110h1M388 49h1M388 67h1M388 74h1M388 86h1M388 93h1M388 97h1M389 34h1M389 68h1M389 69h1M389 82h1M389 88h1M389 89h1M389 108h1M390 46h1M390 68h1M390 70h1M390 77h1M390 83h1M390 86h1M391 69h1M392 66h1M392 84h1M393 94h1M394 72h1M394 85h1M395 44h1M395 67h1M395 78h1M395 84h1M395 100h1M396 62h1M396 73h1M397 56h1M397 82h1M398 99h1M400 39h1M400 84h1M403 52h1M403 75h1M404 105h1M405 42h1M408 32h1M410 61h1M413 74h1M416 70h1M417 45h1M420 61h1" stroke="#b5b5b5" stroke-width="1" fill="none"/>
<path d="M354 99h1M358 76h1M358 78h1M358 83h1M359 100h1M361 83h1M361 89h1M361 93h1M362 70h1M362 72h1M362 77h1M362 92h1M362 97h1M363 75h1M363 91h1M363 98h1M363 103h1M364 73h1M364 78h1M364 79h1M364 82h1M364 87h1M364 88h1M364 89h1M364 91h1M365 68h1M365 70h1M365 79h1M365 80h1M365 81h1M365 82h1M365 86h1M366 56h1M366 62h1M366 71h1M366 83h1M366 86h1M366 90h1M366 95h1M367 71h1M367 72h1M367 80h1M367 84h1M367 89h1M367 91h1M367 97h1M368 66h1M368 72h1M368 75h1M368 76h1M368 77h1M368 78h1M368 79h1M368 81h1M368 82h1M368 84h1M368 90h1M368 94h1M368 95h1M369 69h1M369 70h1M369 72h1M369 80h1M369 83h1M369 87h1M369 89h1M369 92h1M369 93h1M370 71h1M370 72h1M370 78h1M370 79h1M370 80h1M370 83h1M370 84h1M370 88h1M370 90h1M371 61h1M371 69h1M371 71h1M371 72h1M371 77h1M371 80h1M371 81h1M371 82h1M371 83h1M371 84h1M371 87h1M371 92h1M371 95h1M371 96h1M371 97h1M372 49h1M372 63h1M372 64h1M372 69h1M372 70h1M372 74h1M372 77h1M372 78h1M372 79h1M372 81h1M372 82h1M372 83h1M372 84h1M372 85h1M372 89h1M372 90h1M372 94h1M372 95h1M373 57h1M373 68h1M373 69h1M373 71h1M373 72h1M373 79h1M373 80h1M373 82h1M373 83h1M373 84h1M373 101h1M374 66h1M374 67h1M374 68h1M374 74h1M374 76h1M374 89h1M374 96h1M375 67h1M375 72h1M375 81h1M375 83h1M375 96h1M376 63h1M376 66h1M376 76h1M376 77h1M376 89h1M376 97h1M377 66h1M377 70h1M377 71h1M377 84h1M377 87h1M378 58h1M378 61h1M378 75h1M379 82h1M380 74h1M381 69h1M384 51h1" stroke="#a0a0a0" stroke-width="1" fill="none"/>
<ellipse cx="396.5" cy="96" rx="11" ry="11.5" fill="#000"/>
<path d="M373 74h1M374 92h1M375 90h1M376 87h1M378 105h1M379 79h1M379 89h1M379 102h1M379 105h1M379 108h1M380 72h1M380 76h1M380 86h1M380 90h1M380 91h1M380 96h1M381 74h1M381 85h1M381 92h1M381 93h1M381 95h1M382 74h1M382 85h1M382 87h1M382 91h1M382 93h1M382 94h1M382 97h1M382 101h1M383 76h1M383 77h1M383 79h1M383 82h1M383 84h1M383 86h1M383 87h1M383 91h1M383 93h1M383 95h1M383 97h1M383 112h1M384 71h1M384 72h1M384 79h1M384 80h1M384 82h1M384 83h1M384 88h1M384 91h1M384 105h1M385 74h1M385 76h1M385 79h1M385 80h1M385 83h1M385 84h1M385 85h1M385 86h1M385 89h1M385 95h1M385 98h1M385 104h1M385 109h1M386 75h1M386 77h1M386 78h1M386 82h1M386 83h1M386 86h1M386 87h1M386 89h1M386 90h1M386 95h1M386 101h1M387 71h1M387 76h1M387 78h1M387 79h1M387 80h1M387 82h1M387 84h1M387 85h1M387 86h1M387 88h1M387 89h1M387 92h1M387 93h1M387 94h1M387 95h1M387 96h1M387 97h1M387 99h1M387 107h1M388 67h1M388 72h1M388 77h1M388 78h1M388 79h1M388 81h1M388 83h1M388 85h1M388 86h1M388 87h1M388 88h1M388 90h1M388 91h1M388 92h1M388 93h1M388 95h1M388 96h1M388 97h1M388 98h1M388 99h1M388 101h1M388 102h1M388 106h1M388 107h1M388 108h1M388 109h1M389 64h1M389 65h1M389 71h1M389 74h1M389 76h1M389 77h1M389 78h1M389 79h1M389 80h1M389 82h1M389 83h1M389 84h1M389 85h1M389 86h1M389 87h1M389 88h1M389 89h1M389 90h1M389 91h1M389 92h1M389 93h1M389 94h1M389 95h1M389 96h1M389 100h1M389 102h1M389 104h1M389 107h1M390 68h1M390 72h1M390 73h1M390 74h1M390 77h1M390 78h1M390 79h1M390 80h1M390 81h1M390 82h1M390 83h1M390 84h1M390 85h1M390 87h1M390 88h1M390 89h1M390 90h1M390 91h1M390 92h1M390 94h1M390 95h1M390 96h1M390 98h1M390 102h1M390 103h1M390 112h1M391 70h1M391 71h1M391 74h1M391 75h1M391 77h1M391 78h1M391 79h1M391 80h1M391 81h1M391 86h1M391 87h1M391 88h1M391 90h1M391 91h1M391 92h1M391 93h1M391 94h1M391 95h1M391 96h1M391 98h1M391 100h1M391 101h1M391 107h1M391 109h1M392 65h1M392 71h1M392 72h1M392 73h1M392 74h1M392 75h1M392 76h1M392 77h1M392 78h1M392 79h1M392 80h1M392 81h1M392 82h1M392 84h1M392 85h1M392 86h1M392 87h1M392 88h1M392 91h1M392 93h1M392 94h1M392 95h1M392 96h1M392 97h1M392 98h1M392 99h1M392 100h1M392 102h1M393 65h1M393 69h1M393 71h1M393 73h1M393 74h1M393 75h1M393 77h1M393 79h1M393 81h1M393 82h1M393 83h1M393 84h1M393 85h1M393 86h1M393 87h1M393 88h1M393 89h1M393 90h1M393 91h1M393 92h1M393 93h1M393 95h1M393 98h1M393 99h1M393 100h1M393 101h1M393 103h1M393 110h1M393 114h1M394 68h1M394 69h1M394 71h1M394 74h1M394 77h1M394 78h1M394 79h1M394 80h1M394 81h1M394 82h1M394 83h1M394 84h1M394 85h1M394 86h1M394 89h1M394 91h1M394 92h1M394 94h1M394 95h1M394 96h1M394 97h1M394 98h1M394 99h1M394 100h1M394 103h1M394 106h1M394 107h1M394 108h1M394 111h1M395 71h1M395 73h1M395 75h1M395 76h1M395 77h1M395 78h1M395 79h1M395 80h1M395 81h1M395 82h1M395 83h1M395 84h1M395 86h1M395 87h1M395 88h1M395 89h1M395 90h1M395 92h1M395 93h1M395 94h1M395 95h1M395 96h1M395 97h1M395 98h1M395 101h1M395 102h1M395 104h1M395 105h1M395 109h1M395 113h1M396 66h1M396 69h1M396 70h1M396 74h1M396 76h1M396 77h1M396 80h1M396 81h1M396 82h1M396 83h1M396 84h1M396 86h1M396 88h1M396 89h1M396 90h1M396 91h1M396 92h1M396 94h1M396 95h1M396 96h1M396 97h1M396 99h1M396 101h1M396 103h1M396 104h1M397 71h1M397 72h1M397 73h1M397 75h1M397 76h1M397 77h1M397 81h1M397 83h1M397 84h1M397 85h1M397 86h1M397 87h1M397 88h1M397 89h1M397 90h1M397 91h1M397 92h1M397 94h1M397 95h1M397 96h1M397 97h1M397 98h1M397 99h1M397 100h1M397 102h1M397 103h1M397 106h1M397 108h1M397 111h1M397 112h1M398 67h1M398 69h1M398 72h1M398 74h1M398 75h1M398 76h1M398 77h1M398 78h1M398 80h1M398 83h1M398 84h1M398 85h1M398 86h1M398 87h1M398 88h1M398 89h1M398 90h1M398 91h1M398 92h1M398 93h1M398 94h1M398 95h1M398 96h1M398 97h1M398 98h1M398 99h1M398 100h1M398 101h1M398 102h1M398 103h1M398 105h1M398 109h1M399 67h1M399 68h1M399 71h1M399 72h1M399 74h1M399 75h1M399 76h1M399 77h1M399 79h1M399 81h1M399 82h1M399 83h1M399 84h1M399 85h1M399 86h1M399 88h1M399 90h1M399 91h1M399 93h1M399 94h1M399 96h1M399 97h1M399 98h1M399 99h1M399 100h1M399 102h1M399 103h1M399 104h1M399 106h1M400 72h1M400 74h1M400 76h1M400 77h1M400 78h1M400 79h1M400 80h1M400 84h1M400 85h1M400 87h1M400 88h1M400 90h1M400 91h1M400 93h1M400 94h1M400 95h1M400 96h1M400 97h1M400 98h1M400 101h1M400 102h1M400 104h1M400 105h1M400 106h1M400 111h1M401 73h1M401 76h1M401 79h1M401 84h1M401 85h1M401 86h1M401 87h1M401 88h1M401 89h1M401 92h1M401 93h1M401 95h1M401 96h1M401 97h1M401 99h1M401 100h1M401 103h1M401 106h1M401 108h1M401 109h1M402 70h1M402 72h1M402 73h1M402 75h1M402 76h1M402 79h1M402 80h1M402 82h1M402 83h1M402 89h1M402 91h1M402 92h1M402 93h1M402 94h1M402 95h1M402 97h1M402 98h1M402 99h1M402 100h1M402 101h1M403 65h1M403 72h1M403 74h1M403 77h1M403 78h1M403 80h1M403 81h1M403 82h1M403 83h1M403 84h1M403 85h1M403 86h1M403 88h1M403 93h1M403 94h1M403 95h1M403 98h1M403 99h1M403 100h1M403 101h1M403 103h1M403 104h1M403 106h1M403 107h1M403 108h1M404 77h1M404 81h1M404 82h1M404 83h1M404 84h1M404 85h1M404 86h1M404 87h1M404 88h1M404 89h1M404 91h1M404 92h1M404 94h1M404 95h1M404 96h1M404 98h1M404 100h1M404 101h1M404 102h1M404 105h1M404 108h1M404 111h1M405 67h1M405 74h1M405 76h1M405 81h1M405 83h1M405 84h1M405 85h1M405 86h1M405 87h1M405 88h1M405 89h1M405 90h1M405 92h1M405 93h1M405 94h1M405 96h1M405 98h1M405 99h1M405 100h1M405 107h1M405 109h1M406 67h1M406 79h1M406 85h1M406 89h1M406 90h1M406 92h1M406 94h1M406 95h1M406 98h1M406 99h1M406 100h1M406 103h1M406 104h1M406 105h1M407 60h1M407 78h1M407 81h1M407 83h1M407 84h1M407 85h1M407 89h1M407 91h1M407 92h1M407 94h1M407 95h1M407 102h1M407 105h1M407 113h1M408 74h1M408 86h1M408 87h1M408 90h1M408 92h1M408 96h1M408 100h1M408 104h1M409 74h1M409 77h1M409 79h1M409 82h1M409 86h1M409 87h1M409 92h1M409 93h1M409 95h1M409 98h1M409 101h1M409 102h1M409 105h1M410 79h1M410 86h1M410 89h1M410 90h1M410 92h1M411 69h1M411 77h1M411 87h1M411 88h1M411 97h1M411 104h1M412 97h1M412 99h1M412 106h1M413 83h1M414 85h1M414 92h1M415 89h1M415 93h1M415 94h1M415 105h1M416 99h1M417 81h1M419 90h1" stroke="#111" stroke-width="1" fill="none"/>
<path d="M369 83h1M375 64h1M378 46h1M378 54h1M379 81h1M381 70h1M381 77h1M382 78h1M382 89h1M383 105h1M385 81h1M385 91h1M386 72h1M386 83h1M387 61h1M387 78h1M387 81h1M387 92h1M388 56h1M388 85h1M389 84h1M390 90h1M390 110h1M391 92h1M392 91h1M393 67h1M393 82h1M393 85h1M393 91h1M393 104h1M394 68h1M394 84h1M394 85h1M394 96h1M394 108h1M395 46h1M395 53h1M395 103h1M396 76h1M396 85h1M396 87h1M396 88h1M396 96h1M396 111h1M397 47h1M397 61h1M397 64h1M397 67h1M398 45h1M398 82h1M398 99h1M398 101h1M399 36h1M399 83h1M399 93h1M399 103h1M400 63h1M400 72h1M400 81h1M400 83h1M400 106h1M401 57h1M401 63h1M401 70h1M401 75h1M402 46h1M402 60h1M402 69h1M402 71h1M402 107h1M403 45h1M403 91h1M403 101h1M404 66h1M404 75h1M404 77h1M404 86h1M404 88h1M404 92h1M404 113h1M405 44h1M405 77h1M405 90h1M405 100h1M406 35h1M406 64h1M406 81h1M407 44h1M407 57h1M407 63h1M408 50h1M408 59h1M408 81h1M408 92h1M408 97h1M408 98h1M408 101h1M409 83h1M409 95h1M410 35h1M410 52h1M410 65h1M410 104h1M411 47h1M412 40h1M412 54h1M412 107h1M413 67h1M414 85h1M414 87h1M414 89h1M416 56h1M417 45h1M417 56h1M417 69h1M418 44h1M420 73h1M421 55h1M422 45h1M422 75h1M423 53h1M423 59h1M425 74h1M428 56h1M433 56h1" stroke="#444" stroke-width="1" fill="none"/>
<path d="M112 197h1M112 213h1M113 189h1M113 211h1M114 205h1M114 211h1M114 216h1M114 221h1M115 174h1M115 175h1M115 180h1M115 196h1M115 198h1M116 191h1M116 192h1M116 217h1M117 203h1M117 216h1M117 221h1M118 191h1M118 192h1M118 193h1M119 184h1M119 188h1M119 189h1M119 195h1M120 184h1M120 185h1M120 209h1M120 214h1M121 156h1M121 189h1M121 190h1M122 168h1M122 193h1M122 194h1M122 204h1M122 211h1M123 172h1M123 184h1M123 186h1M123 193h1M123 197h1M123 199h1M123 202h1M123 203h1M123 208h1M123 220h1M124 172h1M124 175h1M124 183h1M124 203h1M124 207h1M124 210h1M125 178h1M125 180h1M125 184h1M125 190h1M125 200h1M125 214h1M126 181h1M126 200h1M126 216h1M127 169h1M127 181h1M127 183h1M127 185h1M127 187h1M127 188h1M127 197h1M127 198h1M128 163h1M128 173h1M128 178h1M128 189h1M128 193h1M128 199h1M128 202h1M128 206h1M128 208h1M129 182h1M129 188h1M129 190h1M129 193h1M129 195h1M129 197h1M129 210h1M130 186h1M130 187h1M130 189h1M130 192h1M130 194h1M130 200h1M130 201h1M130 202h1M130 206h1M131 171h1M131 179h1M131 181h1M131 182h1M131 185h1M131 191h1M131 195h1M131 197h1M131 203h1M131 208h1M131 212h1M132 174h1M132 183h1M132 186h1M132 188h1M132 191h1M132 202h1M132 203h1M133 157h1M133 166h1M133 184h1M133 188h1M133 190h1M133 192h1M133 210h1M134 147h1M134 186h1M134 188h1M134 189h1M134 193h1M134 198h1M135 154h1M135 172h1M135 179h1M135 181h1M135 187h1M135 189h1M135 192h1M135 194h1M135 197h1M135 200h1M135 202h1M136 175h1M136 177h1M136 186h1M136 196h1M136 201h1M136 205h1M136 208h1M137 174h1M137 178h1M137 180h1M137 182h1M137 187h1M137 190h1M137 195h1M137 198h1M137 200h1M138 183h1M138 184h1M138 190h1M138 191h1M138 198h1M138 200h1M138 202h1M138 208h1M138 210h1M138 216h1M138 222h1M139 185h1M139 203h1M140 184h1M140 189h1M140 192h1M140 194h1M140 195h1M140 201h1M140 206h1M141 147h1M141 183h1M141 186h1M141 192h1M141 197h1M141 199h1M141 200h1M141 201h1M141 202h1M141 212h1M141 213h1M141 216h1M141 220h1M142 150h1M142 175h1M142 180h1M142 181h1M142 185h1M142 190h1M142 193h1M142 195h1M142 200h1M142 204h1M142 209h1M142 211h1M143 183h1M143 189h1M143 193h1M143 200h1M143 202h1M143 203h1M143 206h1M143 209h1M144 172h1M144 180h1M144 183h1M144 186h1M144 188h1M144 191h1M144 195h1M144 201h1M144 202h1M144 211h1M145 190h1M145 200h1M146 194h1M146 200h1M146 211h1M147 188h1M147 192h1M147 195h1M148 156h1M148 162h1M148 208h1M149 174h1M149 204h1M149 205h1M149 206h1M149 212h1M150 160h1M150 161h1M150 177h1M150 182h1M150 192h1M150 193h1M150 201h1M150 203h1M150 211h1M151 189h1M151 197h1M151 207h1M152 181h1M152 182h1M152 184h1M152 189h1M152 200h1M152 209h1M153 199h1M153 200h1M153 202h1M153 208h1M153 209h1M154 179h1M154 193h1M154 204h1M155 180h1M155 185h1M155 188h1M155 189h1M155 191h1M155 192h1M155 200h1M155 207h1M155 217h1M156 188h1M156 201h1M156 202h1M156 217h1M157 183h1M157 189h1M157 194h1M157 196h1M157 198h1M158 150h1M158 177h1M158 193h1M158 209h1M159 177h1M159 183h1M159 193h1M159 202h1M159 206h1M159 207h1M160 181h1M160 204h1M160 205h1M160 208h1M160 214h1M161 177h1M161 179h1M161 181h1M161 211h1M162 182h1M163 196h1M163 206h1M164 186h1M164 189h1M164 213h1M165 180h1M165 184h1M166 177h1M166 189h1M167 155h1M167 193h1M168 183h1M168 190h1M168 207h1M168 211h1M169 176h1M169 189h1M171 196h1M173 167h1M173 170h1M175 192h1M177 162h1M177 177h1M177 181h1M178 186h1M178 197h1M184 173h1M186 154h1M187 156h1" stroke="#bababa" stroke-width="1" fill="none"/>
<ellipse cx="131.5" cy="194" rx="11" ry="9.5" fill="#c4c4c4"/>
<path d="M113 196h1M113 199h1M114 195h1M114 197h1M115 196h1M115 199h1M116 184h1M116 188h1M116 198h1M116 206h1M117 187h1M117 199h1M117 201h1M117 204h1M117 205h1M118 188h1M118 196h1M118 200h1M119 187h1M119 188h1M119 190h1M119 191h1M119 192h1M119 195h1M119 197h1M119 202h1M120 182h1M120 184h1M120 185h1M120 186h1M120 190h1M120 193h1M120 196h1M120 197h1M121 186h1M121 187h1M121 189h1M121 192h1M121 196h1M122 183h1M122 186h1M122 188h1M122 189h1M122 190h1M122 191h1M122 192h1M122 193h1M122 195h1M122 196h1M122 197h1M122 198h1M123 183h1M123 184h1M123 186h1M123 187h1M123 189h1M123 191h1M123 192h1M123 194h1M123 195h1M123 199h1M123 200h1M123 203h1M123 205h1M124 183h1M124 194h1M124 195h1M124 196h1M124 198h1M124 199h1M124 200h1M124 201h1M125 186h1M125 188h1M125 189h1M125 190h1M125 192h1M125 194h1M125 195h1M125 196h1M125 197h1M126 181h1M126 185h1M126 186h1M126 187h1M126 188h1M126 189h1M126 190h1M126 191h1M126 192h1M126 193h1M126 195h1M126 197h1M126 199h1M126 200h1M126 201h1M126 204h1M127 181h1M127 182h1M127 189h1M127 190h1M127 191h1M127 192h1M127 194h1M127 195h1M127 197h1M127 198h1M127 199h1M127 200h1M127 201h1M127 202h1M127 203h1M128 185h1M128 186h1M128 187h1M128 188h1M128 189h1M128 190h1M128 191h1M128 192h1M128 193h1M128 194h1M128 196h1M128 197h1M128 198h1M128 199h1M128 201h1M128 202h1M128 203h1M128 207h1M129 185h1M129 186h1M129 188h1M129 189h1M129 190h1M129 191h1M129 192h1M129 193h1M129 194h1M129 195h1M129 196h1M129 197h1M129 198h1M129 199h1M129 201h1M129 202h1M129 203h1M129 204h1M129 207h1M129 210h1M130 184h1M130 185h1M130 186h1M130 187h1M130 188h1M130 189h1M130 191h1M130 192h1M130 193h1M130 194h1M130 195h1M130 197h1M130 198h1M130 199h1M130 200h1M130 201h1M131 180h1M131 185h1M131 186h1M131 188h1M131 189h1M131 190h1M131 191h1M131 192h1M131 193h1M131 195h1M131 196h1M131 197h1M131 198h1M131 201h1M131 202h1M131 206h1M131 208h1M132 180h1M132 187h1M132 190h1M132 192h1M132 193h1M132 194h1M132 195h1M132 196h1M132 197h1M132 198h1M132 201h1M132 202h1M133 182h1M133 186h1M133 188h1M133 189h1M133 190h1M133 191h1M133 192h1M133 193h1M133 194h1M133 195h1M133 196h1M133 197h1M133 198h1M133 200h1M133 204h1M134 178h1M134 181h1M134 184h1M134 186h1M134 187h1M134 188h1M134 189h1M134 190h1M134 191h1M134 192h1M134 193h1M134 194h1M134 196h1M134 197h1M134 198h1M134 199h1M134 201h1M134 202h1M134 203h1M135 183h1M135 186h1M135 188h1M135 189h1M135 191h1M135 192h1M135 193h1M135 194h1M135 195h1M135 196h1M135 198h1M135 199h1M135 201h1M135 203h1M136 183h1M136 189h1M136 190h1M136 191h1M136 193h1M136 194h1M136 196h1M136 198h1M136 201h1M136 209h1M137 183h1M137 184h1M137 188h1M137 189h1M137 191h1M137 193h1M137 194h1M137 195h1M137 196h1M137 198h1M137 200h1M137 202h1M138 185h1M138 187h1M138 188h1M138 189h1M138 190h1M138 192h1M138 193h1M138 194h1M138 197h1M138 198h1M138 202h1M138 205h1M138 210h1M139 184h1M139 186h1M139 187h1M139 189h1M139 192h1M139 193h1M139 194h1M139 195h1M139 196h1M139 197h1M139 199h1M139 200h1M140 176h1M140 178h1M140 184h1M140 186h1M140 192h1M140 193h1M140 195h1M140 196h1M140 198h1M140 204h1M141 180h1M141 187h1M141 188h1M141 191h1M141 193h1M141 194h1M141 199h1M142 188h1M142 189h1M142 190h1M142 192h1M142 194h1M142 199h1M142 201h1M143 180h1M143 187h1M143 189h1M143 192h1M143 198h1M144 187h1M144 190h1M144 191h1M144 201h1M146 199h1M146 201h1M147 190h1M148 192h1M148 197h1M149 185h1M149 189h1M149 199h1M150 195h1" stroke="#b4b4b4" stroke-width="1" fill="none"/>
<path d="M138 207h1M139 182h1M139 193h1M140 190h1M140 195h1M141 191h1M141 192h1M142 191h1M142 196h1M142 197h1M143 186h1M143 188h1M143 189h1M143 195h1M143 196h1M143 198h1M143 204h1M143 210h1M144 185h1M144 193h1M144 194h1M144 195h1M144 199h1M144 200h1M144 201h1M145 188h1M145 189h1M145 190h1M145 192h1M145 193h1M145 195h1M145 197h1M145 198h1M145 200h1M146 185h1M146 186h1M146 188h1M146 189h1M146 190h1M146 191h1M146 192h1M146 194h1M146 196h1M146 202h1M146 204h1M147 179h1M147 180h1M147 184h1M147 188h1M147 190h1M147 195h1M147 196h1M147 197h1M147 198h1M147 200h1M147 201h1M147 203h1M147 204h1M147 206h1M148 175h1M148 185h1M148 189h1M148 190h1M148 191h1M148 192h1M148 193h1M148 195h1M148 197h1M148 200h1M148 201h1M149 179h1M149 184h1M149 195h1M149 196h1M149 198h1M149 199h1M149 200h1M149 201h1M149 202h1M149 205h1M150 182h1M150 184h1M150 185h1M150 186h1M150 187h1M150 189h1M150 191h1M150 192h1M150 193h1M150 194h1M150 195h1M150 196h1M150 197h1M150 198h1M150 199h1M150 200h1M150 201h1M150 202h1M150 207h1M151 184h1M151 185h1M151 186h1M151 187h1M151 188h1M151 190h1M151 193h1M151 195h1M151 196h1M151 198h1M151 202h1M151 205h1M151 208h1M152 178h1M152 186h1M152 188h1M152 189h1M152 190h1M152 193h1M152 194h1M152 196h1M152 197h1M152 198h1M152 199h1M152 200h1M152 201h1M152 202h1M152 203h1M152 205h1M152 206h1M152 209h1M153 183h1M153 185h1M153 186h1M153 188h1M153 189h1M153 191h1M153 192h1M153 193h1M153 194h1M153 196h1M153 200h1M153 206h1M154 181h1M154 186h1M154 189h1M154 191h1M154 192h1M154 194h1M154 196h1M154 197h1M154 198h1M154 199h1M154 202h1M154 204h1M155 190h1M155 191h1M155 194h1M155 195h1M155 196h1M155 197h1M155 199h1M155 200h1M155 203h1M156 180h1M156 182h1M156 191h1M156 192h1M156 193h1M156 195h1M156 199h1M156 203h1M156 205h1M156 206h1M157 186h1M157 187h1M157 189h1M157 190h1M157 195h1M157 196h1M157 197h1M157 198h1M157 199h1M157 204h1M157 205h1M158 174h1M158 184h1M158 189h1M158 190h1M158 192h1M158 193h1M158 195h1M158 196h1M158 198h1M158 201h1M159 177h1M159 190h1M159 193h1M159 195h1M159 196h1M159 197h1M160 186h1M160 188h1M160 214h1M161 199h1M162 190h1M162 193h1M162 195h1M162 200h1M163 197h1M164 195h1M164 207h1M165 191h1M166 189h1M168 199h1M169 206h1" stroke="#333" stroke-width="1" fill="none"/>
<path d="M132.6 162h1.8M136.6 183h1.8M138.6 160h1.8M144.6 180h1.8M145.6 171h1.8M146.6 180h1.8M147.6 156h1.8M147.6 157h1.8M147.6 177h1.8M150.6 174h1.8M151.6 175h1.8M154.6 162h1.8M155.6 166h1.8M155.6 172h1.8M156.6 182h1.8M157.6 180h1.8M159.6 176h1.8M160.6 168h1.8M160.6 174h1.8M160.6 179h1.8M161.6 171h1.8M163.6 171h1.8M164.6 160h1.8M165.6 168h1.8M167.6 164h1.8" stroke="#000" stroke-width="1.8" fill="none" shape-rendering="auto"/>
<path d="M227 192h1M228 197h1M228 199h1M228 201h1M229 194h1M229 195h1M229 198h1M229 202h1M229 205h1M230 190h1M230 194h1M230 196h1M231 190h1M231 192h1M231 193h1M231 200h1M232 188h1M232 189h1M232 190h1M232 193h1M232 195h1M232 197h1M232 199h1M232 200h1M233 187h1M233 188h1M233 192h1M233 194h1M233 195h1M233 198h1M233 203h1M234 182h1M234 187h1M234 191h1M234 195h1M234 196h1M234 197h1M234 198h1M234 200h1M235 175h1M235 187h1M235 189h1M235 190h1M235 191h1M235 194h1M235 195h1M235 203h1M235 204h1M236 158h1M236 182h1M236 186h1M236 191h1M236 194h1M236 196h1M236 199h1M236 200h1M237 180h1M237 184h1M237 185h1M237 186h1M237 187h1M237 190h1M237 191h1M237 195h1M237 197h1M238 187h1M238 188h1M238 189h1M238 190h1M238 191h1M238 193h1M238 194h1M238 195h1M238 196h1M239 176h1M239 182h1M239 186h1M239 187h1M239 190h1M239 193h1M239 195h1M239 196h1M239 197h1M239 200h1M239 201h1M240 185h1M240 187h1M240 189h1M240 190h1M240 191h1M240 192h1M240 193h1M240 194h1M240 195h1M240 196h1M241 187h1M241 189h1M241 190h1M241 191h1M241 194h1M241 196h1M241 197h1M241 201h1M242 184h1M242 188h1M242 189h1M242 190h1M242 191h1M242 192h1M242 193h1M242 194h1M242 196h1M242 197h1M242 199h1M242 201h1M242 203h1M242 206h1M243 185h1M243 186h1M243 187h1M243 188h1M243 192h1M243 193h1M243 194h1M243 195h1M244 180h1M244 184h1M244 185h1M244 187h1M244 188h1M244 189h1M244 190h1M244 192h1M244 193h1M244 194h1M244 195h1M244 196h1M244 200h1M245 170h1M245 178h1M245 180h1M245 184h1M245 187h1M245 188h1M245 189h1M245 190h1M245 191h1M245 192h1M245 193h1M245 194h1M245 196h1M245 198h1M245 199h1M245 207h1M246 167h1M246 185h1M246 186h1M246 187h1M246 188h1M246 189h1M246 190h1M246 191h1M246 192h1M246 194h1M246 195h1M246 197h1M246 206h1M247 183h1M247 186h1M247 189h1M247 190h1M247 192h1M247 193h1M247 194h1M247 196h1M247 197h1M247 199h1M248 177h1M248 183h1M248 187h1M248 189h1M248 190h1M248 191h1M248 192h1M248 193h1M248 194h1M248 195h1M248 196h1M248 198h1M248 200h1M249 182h1M249 183h1M249 186h1M249 187h1M249 188h1M249 189h1M249 190h1M249 191h1M249 192h1M249 193h1M249 196h1M249 200h1M250 175h1M250 176h1M250 186h1M250 188h1M250 189h1M250 190h1M250 191h1M250 192h1M250 193h1M250 194h1M250 195h1M250 196h1M250 197h1M250 198h1M250 200h1M251 179h1M251 180h1M251 186h1M251 187h1M251 188h1M251 189h1M251 190h1M251 192h1M251 193h1M251 194h1M251 195h1M251 196h1M251 198h1M252 185h1M252 186h1M252 189h1M252 190h1M252 191h1M252 194h1M253 159h1M253 178h1M253 184h1M253 185h1M253 186h1M253 187h1M253 188h1M253 192h1M253 193h1M253 194h1M253 195h1M253 196h1M253 201h1M254 178h1M254 182h1M254 185h1M254 186h1M254 187h1M254 188h1M254 189h1M254 190h1M254 192h1M254 196h1M254 201h1M254 202h1M255 173h1M255 175h1M255 182h1M255 184h1M255 186h1M255 189h1M255 190h1M255 191h1M255 192h1M255 196h1M255 197h1M256 176h1M256 180h1M256 182h1M256 183h1M256 186h1M256 189h1M256 190h1M256 192h1M256 195h1M256 197h1M256 200h1M257 162h1M257 180h1M257 182h1M257 184h1M257 185h1M257 186h1M257 188h1M257 190h1M257 192h1M257 194h1M257 197h1M258 176h1M258 182h1M258 184h1M258 185h1M258 187h1M258 188h1M258 189h1M258 190h1M258 191h1M258 192h1M258 194h1M259 177h1M259 180h1M259 183h1M259 186h1M259 189h1M259 190h1M259 193h1M259 198h1M260 152h1M260 171h1M260 175h1M260 178h1M260 181h1M260 182h1M260 184h1M260 186h1M260 188h1M260 189h1M260 191h1M260 195h1M260 198h1M261 176h1M261 180h1M261 184h1M261 187h1M261 190h1M261 191h1M261 193h1M261 195h1M261 196h1M262 181h1M262 182h1M262 186h1M262 187h1M262 188h1M262 190h1M262 192h1M262 193h1M263 151h1M263 171h1M263 174h1M263 177h1M263 179h1M263 181h1M263 184h1M263 185h1M263 187h1M263 188h1M263 189h1M263 191h1M263 193h1M264 177h1M264 179h1M264 180h1M264 181h1M264 182h1M264 183h1M264 185h1M264 186h1M264 188h1M264 190h1M265 165h1M265 172h1M265 180h1M265 181h1M265 182h1M265 185h1M265 186h1M265 189h1M265 193h1M266 171h1M266 175h1M266 177h1M266 179h1M266 181h1M266 182h1M266 183h1M266 184h1M266 185h1M266 193h1M267 174h1M267 175h1M267 178h1M267 179h1M267 182h1M267 184h1M267 185h1M267 186h1M267 187h1M267 190h1M267 191h1M267 192h1M267 193h1M267 195h1M268 175h1M268 176h1M268 178h1M268 179h1M268 181h1M268 182h1M268 183h1M268 184h1M268 185h1M268 187h1M268 193h1M268 197h1M268 198h1M269 175h1M269 186h1M269 188h1M269 189h1M269 198h1M269 213h1M270 159h1M270 166h1M270 177h1M270 179h1M270 180h1M270 181h1M270 182h1M270 184h1M270 187h1M270 189h1M270 194h1M271 175h1M271 178h1M271 181h1M271 182h1M271 183h1M271 184h1M271 186h1M271 187h1M271 193h1M271 194h1M272 177h1M272 179h1M272 180h1M272 181h1M272 183h1M272 184h1M272 185h1M272 187h1M272 189h1M273 173h1M273 174h1M273 175h1M273 176h1M273 180h1M273 181h1M273 185h1M273 186h1M273 188h1M273 189h1M273 190h1M273 191h1M273 195h1M274 173h1M274 181h1M274 182h1M274 185h1M274 187h1M274 188h1M275 174h1M275 176h1M275 178h1M275 181h1M275 182h1M275 183h1M275 184h1M275 186h1M275 189h1M275 191h1M276 159h1M276 176h1M276 177h1M276 179h1M276 181h1M276 182h1M276 190h1M276 196h1M277 176h1M277 178h1M277 180h1M277 181h1M277 183h1M277 186h1M277 187h1M277 189h1M277 194h1M278 141h1M278 176h1M278 177h1M278 179h1M278 182h1M278 183h1M278 185h1M278 186h1M278 187h1M278 189h1M278 190h1M278 191h1M279 170h1M279 173h1M279 177h1M279 178h1M279 179h1M279 180h1M279 190h1M279 217h1M280 163h1M280 174h1M280 176h1M280 179h1M280 180h1M280 181h1M280 183h1M280 185h1M280 188h1M280 190h1M281 169h1M281 177h1M281 179h1M281 180h1M281 181h1M281 184h1M281 185h1M281 189h1M282 173h1M282 175h1M282 176h1M282 177h1M282 178h1M282 179h1M282 180h1M282 181h1M282 182h1M282 183h1M282 184h1M282 185h1M282 186h1M282 187h1M283 176h1M283 178h1M283 179h1M283 180h1M283 181h1M283 182h1M283 184h1M283 185h1M283 186h1M283 187h1M283 190h1M284 172h1M284 174h1M284 177h1M284 178h1M284 179h1M284 181h1M284 183h1M284 184h1M285 171h1M285 174h1M285 175h1M285 178h1M285 179h1M285 180h1M285 181h1M285 183h1M285 184h1M285 188h1M286 170h1M286 175h1M286 178h1M286 183h1M286 184h1M286 186h1M287 171h1M287 172h1M287 175h1M287 177h1M287 178h1M287 179h1M287 180h1M287 185h1M287 187h1M288 172h1M288 173h1M288 174h1M288 175h1M288 176h1M288 178h1M288 179h1M288 180h1M288 181h1M288 182h1M288 183h1M289 148h1M289 163h1M289 170h1M289 171h1M289 172h1M289 176h1M289 178h1M289 180h1M289 181h1M290 167h1M290 170h1M290 173h1M290 174h1M290 175h1M290 176h1M290 177h1M290 179h1M290 181h1M290 182h1M291 170h1M291 172h1M291 173h1M291 174h1M291 176h1M291 178h1M291 179h1M291 183h1M291 184h1M291 185h1M292 168h1M292 170h1M292 171h1M292 172h1M292 173h1M292 178h1M292 179h1M292 182h1M292 184h1M293 171h1M293 173h1M293 178h1M293 179h1M293 181h1M293 183h1M293 184h1M293 186h1M293 189h1M294 173h1M294 174h1M294 175h1M294 176h1M294 178h1M294 179h1M294 181h1M294 183h1M294 184h1M294 192h1M295 161h1M295 173h1M295 174h1M295 175h1M295 177h1M295 178h1M295 179h1M295 181h1M295 191h1M296 169h1M296 171h1M296 174h1M296 175h1M296 176h1M296 178h1M296 179h1M296 186h1M297 154h1M297 166h1M297 168h1M297 169h1M297 170h1M297 171h1M297 172h1M297 173h1M297 175h1M297 177h1M297 178h1M297 181h1M297 184h1M298 172h1M298 178h1M298 181h1M298 184h1M299 167h1M299 169h1M299 175h1M299 179h1M300 166h1M300 168h1M300 170h1M300 171h1M300 173h1M300 175h1M300 176h1M300 180h1M300 181h1M301 172h1M301 173h1M301 175h1M301 179h1M301 181h1M301 184h1M302 166h1M302 169h1M302 170h1M302 177h1M302 178h1M302 179h1M302 186h1M303 168h1M303 169h1M303 170h1M303 172h1M303 173h1M303 174h1M303 175h1M303 177h1M303 181h1M304 163h1M304 164h1M304 166h1M304 168h1M304 169h1M304 174h1M304 176h1M304 177h1M304 179h1M304 180h1M305 160h1M305 167h1M305 168h1M305 169h1M305 170h1M305 172h1M305 173h1M305 176h1M305 179h1M306 169h1M306 172h1M306 173h1M306 175h1M306 181h1M307 167h1M307 170h1M307 171h1M307 177h1M308 168h1M308 170h1M308 176h1M308 181h1M309 171h1M309 173h1M309 177h1M309 181h1M310 165h1M310 167h1M310 169h1M310 172h1M310 173h1M310 174h1M310 177h1M310 179h1M311 168h1M311 172h1M311 177h1M312 161h1M312 165h1M312 172h1M312 175h1M313 168h1M313 174h1M314 169h1M314 171h1M315 167h1M315 169h1M315 175h1M315 177h1M316 162h1M316 163h1M316 168h1M316 172h1M316 177h1M317 167h1M317 174h1" stroke="#b8b8b8" stroke-width="1" fill="none"/>
<path d="M266 174h1M268 184h1M272 177h1M274 184h1M275 177h1M275 179h1M275 180h1M276 172h1M276 180h1M277 169h1M277 175h1M277 180h1M277 181h1M277 183h1M278 174h1M279 188h1M279 190h1M280 165h1M280 167h1M280 177h1M281 172h1M281 175h1M281 178h1M281 180h1M281 182h1M281 183h1M281 185h1M281 187h1M282 173h1M282 183h1M282 187h1M282 189h1M282 190h1M283 172h1M283 173h1M283 175h1M283 182h1M283 183h1M283 186h1M284 174h1M284 175h1M284 181h1M284 186h1M285 169h1M285 175h1M285 176h1M285 177h1M285 178h1M285 182h1M285 183h1M285 184h1M285 185h1M286 169h1M286 171h1M286 172h1M286 173h1M286 174h1M286 177h1M286 179h1M286 181h1M286 182h1M286 187h1M287 171h1M287 172h1M287 173h1M287 175h1M287 176h1M287 179h1M287 180h1M287 181h1M287 182h1M287 183h1M287 185h1M287 187h1M287 194h1M288 163h1M288 170h1M288 174h1M288 175h1M288 176h1M288 178h1M288 179h1M288 180h1M288 181h1M288 183h1M288 186h1M288 187h1M289 162h1M289 166h1M289 167h1M289 169h1M289 171h1M289 173h1M289 174h1M289 175h1M289 177h1M289 178h1M289 179h1M289 180h1M289 181h1M289 183h1M289 185h1M290 167h1M290 173h1M290 174h1M290 176h1M290 177h1M290 178h1M290 179h1M290 180h1M290 181h1M290 182h1M290 183h1M290 184h1M290 185h1M290 187h1M290 189h1M291 166h1M291 167h1M291 173h1M291 178h1M291 179h1M291 180h1M291 182h1M291 186h1M291 200h1M292 165h1M292 167h1M292 168h1M292 169h1M292 170h1M292 171h1M292 173h1M292 175h1M292 176h1M292 177h1M292 179h1M292 180h1M292 181h1M292 183h1M292 184h1M292 186h1M292 187h1M292 189h1M293 162h1M293 168h1M293 170h1M293 171h1M293 172h1M293 173h1M293 174h1M293 175h1M293 176h1M293 177h1M293 178h1M293 179h1M293 180h1M293 183h1M294 166h1M294 168h1M294 170h1M294 171h1M294 173h1M294 174h1M294 175h1M294 176h1M294 177h1M294 178h1M294 179h1M294 182h1M294 183h1M294 184h1M294 185h1M294 186h1M295 166h1M295 168h1M295 171h1M295 172h1M295 173h1M295 174h1M295 175h1M295 176h1M295 177h1M295 178h1M295 179h1M295 180h1M295 181h1M295 183h1M295 185h1M295 188h1M296 158h1M296 163h1M296 164h1M296 168h1M296 169h1M296 171h1M296 172h1M296 173h1M296 174h1M296 175h1M296 176h1M296 177h1M296 179h1M296 182h1M296 183h1M296 184h1M296 188h1M296 190h1M297 157h1M297 165h1M297 166h1M297 169h1M297 170h1M297 172h1M297 174h1M297 175h1M297 176h1M297 177h1M297 178h1M297 179h1M297 180h1M297 182h1M297 183h1M297 184h1M297 187h1M297 188h1M298 168h1M298 169h1M298 170h1M298 171h1M298 173h1M298 174h1M298 175h1M298 177h1M298 178h1M298 180h1M298 184h1M298 188h1M299 158h1M299 164h1M299 165h1M299 166h1M299 170h1M299 172h1M299 173h1M299 174h1M299 175h1M299 177h1M299 178h1M299 180h1M299 181h1M299 182h1M299 184h1M300 164h1M300 166h1M300 168h1M300 169h1M300 170h1M300 171h1M300 172h1M300 173h1M300 175h1M300 176h1M300 177h1M300 180h1M300 181h1M300 182h1M300 184h1M301 161h1M301 162h1M301 164h1M301 165h1M301 166h1M301 167h1M301 169h1M301 170h1M301 171h1M301 172h1M301 174h1M301 175h1M301 176h1M301 178h1M301 179h1M301 181h1M301 182h1M302 163h1M302 166h1M302 168h1M302 171h1M302 172h1M302 173h1M302 174h1M302 175h1M302 177h1M302 178h1M302 179h1M302 180h1M302 181h1M303 166h1M303 168h1M303 169h1M303 170h1M303 171h1M303 172h1M303 173h1M303 175h1M303 176h1M303 177h1M303 178h1M303 179h1M303 184h1M303 186h1M303 196h1M304 164h1M304 167h1M304 170h1M304 171h1M304 172h1M304 173h1M304 174h1M304 175h1M304 176h1M304 178h1M304 179h1M304 180h1M304 185h1M304 188h1M305 161h1M305 162h1M305 167h1M305 168h1M305 170h1M305 175h1M305 176h1M305 178h1M305 179h1M306 161h1M306 162h1M306 169h1M306 171h1M306 173h1M306 174h1M306 177h1M306 178h1M306 180h1M306 182h1M306 184h1M306 185h1M307 161h1M307 165h1M307 169h1M307 170h1M307 172h1M307 173h1M307 176h1M307 177h1M307 180h1M307 181h1M307 185h1M308 164h1M308 169h1M308 172h1M308 177h1M308 179h1M308 181h1M309 169h1M309 170h1M309 171h1M309 173h1M309 182h1M309 185h1M310 167h1M310 169h1M310 175h1M310 178h1M310 181h1M310 182h1M310 183h1M311 170h1M311 174h1M311 177h1M311 179h1M311 183h1M311 184h1M312 165h1M312 170h1M312 171h1M312 173h1M312 179h1M313 164h1M313 172h1M313 175h1M313 180h1M314 165h1M314 174h1M314 178h1M314 179h1M314 181h1M315 164h1M315 175h1M315 179h1M316 173h1M316 175h1M317 170h1M317 177h1" stroke="#9c9c9c" stroke-width="1" fill="none"/>
<ellipse cx="299" cy="151" rx="4.5" ry="6.5" fill="#000"/>
<path d="M271 149h1M274 161h1M275 142h1M275 143h1M276 142h1M276 149h1M277 144h1M277 147h1M277 150h1M278 146h1M278 151h1M278 153h1M278 167h1M279 145h1M279 147h1M279 152h1M280 143h1M280 158h1M281 143h1M281 144h1M281 148h1M281 157h1M281 159h1M282 141h1M282 142h1M282 145h1M282 149h1M282 150h1M282 151h1M282 153h1M282 158h1M282 162h1M283 143h1M283 145h1M283 148h1M283 150h1M283 152h1M283 153h1M283 154h1M283 160h1M284 142h1M284 144h1M284 145h1M284 146h1M284 147h1M284 148h1M284 151h1M284 152h1M284 159h1M284 160h1M285 141h1M285 142h1M285 144h1M285 145h1M285 147h1M285 148h1M285 151h1M285 153h1M285 154h1M285 155h1M285 156h1M285 157h1M285 164h1M285 165h1M286 142h1M286 143h1M286 144h1M286 145h1M286 146h1M286 147h1M286 148h1M286 149h1M286 151h1M286 156h1M286 166h1M287 141h1M287 142h1M287 145h1M287 146h1M287 147h1M287 148h1M287 149h1M287 150h1M287 152h1M287 160h1M287 162h1M288 142h1M288 143h1M288 144h1M288 145h1M288 146h1M288 147h1M288 148h1M288 149h1M288 150h1M288 151h1M288 152h1M288 153h1M288 154h1M288 156h1M288 158h1M288 162h1M288 168h1M289 142h1M289 143h1M289 144h1M289 145h1M289 146h1M289 147h1M289 148h1M289 149h1M289 150h1M289 151h1M289 154h1M289 155h1M289 156h1M289 157h1M289 161h1M290 141h1M290 142h1M290 143h1M290 145h1M290 146h1M290 147h1M290 148h1M290 149h1M290 150h1M290 151h1M290 152h1M290 153h1M290 154h1M290 156h1M290 157h1M290 159h1M290 160h1M290 162h1M291 142h1M291 143h1M291 144h1M291 145h1M291 146h1M291 147h1M291 148h1M291 149h1M291 150h1M291 151h1M291 152h1M291 154h1M291 155h1M291 156h1M291 159h1M291 160h1M291 161h1M291 162h1M291 164h1M291 175h1M292 141h1M292 142h1M292 144h1M292 145h1M292 146h1M292 147h1M292 148h1M292 149h1M292 150h1M292 151h1M292 152h1M292 153h1M292 154h1M292 155h1M292 156h1M292 157h1M292 158h1M292 159h1M292 160h1M292 161h1M292 162h1M292 163h1M292 165h1M292 167h1M293 141h1M293 142h1M293 143h1M293 144h1M293 145h1M293 146h1M293 147h1M293 148h1M293 149h1M293 150h1M293 151h1M293 152h1M293 153h1M293 154h1M293 155h1M293 157h1M293 160h1M293 161h1M293 162h1M293 163h1M293 165h1M293 169h1M293 170h1M293 173h1M294 141h1M294 142h1M294 143h1M294 146h1M294 147h1M294 148h1M294 149h1M294 150h1M294 151h1M294 153h1M294 154h1M294 155h1M294 156h1M294 157h1M294 158h1M294 160h1M294 161h1M294 162h1M294 170h1M294 175h1M295 141h1M295 142h1M295 143h1M295 144h1M295 145h1M295 146h1M295 148h1M295 149h1M295 152h1M295 153h1M295 154h1M295 155h1M295 156h1M295 158h1M295 160h1M295 161h1M295 162h1M295 163h1M295 164h1M295 167h1M295 169h1M296 141h1M296 142h1M296 143h1M296 144h1M296 145h1M296 146h1M296 147h1M296 148h1M296 149h1M296 150h1M296 151h1M296 152h1M296 153h1M296 155h1M296 157h1M296 158h1M296 159h1M296 161h1M296 162h1M296 167h1M296 169h1M297 142h1M297 143h1M297 145h1M297 146h1M297 147h1M297 148h1M297 149h1M297 150h1M297 151h1M297 152h1M297 153h1M297 154h1M297 155h1M297 156h1M297 157h1M297 158h1M297 159h1M297 160h1M297 161h1M297 162h1M297 164h1M297 165h1M297 167h1M297 168h1M297 171h1M298 141h1M298 142h1M298 143h1M298 144h1M298 145h1M298 146h1M298 147h1M298 148h1M298 149h1M298 150h1M298 151h1M298 152h1M298 155h1M298 156h1M298 157h1M298 158h1M298 159h1M298 160h1M298 161h1M298 162h1M298 165h1M298 166h1M299 141h1M299 142h1M299 143h1M299 144h1M299 145h1M299 146h1M299 147h1M299 148h1M299 149h1M299 150h1M299 151h1M299 153h1M299 154h1M299 155h1M299 157h1M299 158h1M299 159h1M299 160h1M299 161h1M299 162h1M299 164h1M299 165h1M299 166h1M300 141h1M300 142h1M300 143h1M300 144h1M300 145h1M300 146h1M300 147h1M300 148h1M300 149h1M300 150h1M300 151h1M300 152h1M300 153h1M300 154h1M300 156h1M300 157h1M300 159h1M300 160h1M300 162h1M300 164h1M300 166h1M300 176h1M301 141h1M301 143h1M301 144h1M301 145h1M301 146h1M301 147h1M301 148h1M301 150h1M301 151h1M301 152h1M301 154h1M301 155h1M301 156h1M301 157h1M301 158h1M301 159h1M301 160h1M301 162h1M301 166h1M301 171h1M302 141h1M302 142h1M302 143h1M302 144h1M302 145h1M302 146h1M302 148h1M302 149h1M302 150h1M302 151h1M302 152h1M302 153h1M302 154h1M302 155h1M302 156h1M302 157h1M302 162h1M302 163h1M302 165h1M302 169h1M303 141h1M303 142h1M303 143h1M303 144h1M303 145h1M303 146h1M303 148h1M303 149h1M303 150h1M303 151h1M303 152h1M303 153h1M303 154h1M303 155h1M303 156h1M303 157h1M303 159h1M303 161h1M303 163h1M303 164h1M303 166h1M304 141h1M304 142h1M304 143h1M304 144h1M304 145h1M304 146h1M304 148h1M304 149h1M304 150h1M304 151h1M304 152h1M304 153h1M304 154h1M304 156h1M304 159h1M304 161h1M304 163h1M305 141h1M305 142h1M305 143h1M305 144h1M305 145h1M305 146h1M305 147h1M305 148h1M305 149h1M305 150h1M305 152h1M305 153h1M305 154h1M305 157h1M305 158h1M305 161h1M305 171h1M305 172h1M306 145h1M306 146h1M306 147h1M306 148h1M306 149h1M306 150h1M306 151h1M306 153h1M306 154h1M306 155h1M306 157h1M306 158h1M306 160h1M306 162h1M306 163h1M306 166h1M307 143h1M307 146h1M307 151h1M307 154h1M307 157h1M307 160h1M307 162h1M307 170h1M307 171h1M308 142h1M308 143h1M308 144h1M308 145h1M308 146h1M308 147h1M308 151h1M308 152h1M308 156h1M308 159h1M308 160h1M308 163h1M309 146h1M309 147h1M309 150h1M309 151h1M309 154h1M309 155h1M309 157h1M309 158h1M309 161h1M309 162h1M309 167h1M310 141h1M310 142h1M310 145h1M310 155h1M310 156h1M310 158h1M310 162h1M310 166h1M311 141h1M311 144h1M311 145h1M311 146h1M311 147h1M311 150h1M311 159h1M312 143h1M312 146h1M312 148h1M312 150h1M312 154h1M312 167h1M313 143h1M313 144h1M313 150h1M314 142h1M314 146h1M315 151h1M315 165h1M316 156h1M316 164h1" stroke="#000" stroke-width="1" fill="none"/>
<path d="M227 182h1M232 187h1M238 183h1M242 179h1M243 179h1M245 173h1M245 179h1M246 176h1M246 181h1M247 175h1M248 178h1M248 179h1M248 180h1M250 178h1M250 179h1M250 180h1M251 176h1M251 179h1M253 174h1M253 175h1M254 173h1M254 178h1M255 172h1M255 174h1M255 178h1M256 173h1M256 177h1M256 178h1M257 175h1M257 177h1M258 171h1M259 176h1M260 174h1M261 171h1M261 172h1M261 173h1M261 175h1M261 179h1M262 166h1M262 168h1M262 170h1M262 171h1M262 173h1M263 173h1M263 175h1M264 157h1M264 169h1M264 172h1M264 175h1M265 171h1M266 168h1M266 172h1M267 155h1M267 172h1M267 174h1M267 175h1M268 172h1M268 173h1M269 165h1M269 170h1M269 171h1M269 172h1M271 156h1M271 166h1M271 167h1M271 170h1M271 172h1M272 164h1M272 166h1M272 168h1M272 169h1M273 163h1M274 154h1M274 155h1M274 156h1M274 167h1M274 170h1M275 159h1M275 161h1M275 163h1M276 144h1M276 159h1M276 162h1M276 166h1M276 167h1M277 160h1M278 152h1M278 159h1M278 164h1M278 170h1M279 147h1M279 162h1M279 167h1M279 170h1M280 151h1M280 153h1M280 156h1M280 160h1M281 148h1M281 149h1M281 158h1M281 159h1M281 160h1M281 161h1M281 166h1M281 170h1M282 148h1M282 150h1M282 155h1M282 156h1M282 157h1M282 160h1M282 164h1M282 165h1M282 167h1M282 172h1M283 149h1M283 150h1M283 151h1M283 152h1M283 153h1M283 164h1M284 148h1M284 154h1M284 155h1M284 156h1M284 157h1M284 159h1M284 160h1M284 161h1M284 166h1M284 170h1M285 159h1M285 162h1M285 163h1M286 150h1M286 152h1M286 159h1M286 166h1M287 149h1M287 155h1M287 164h1M288 157h1M288 166h1M289 160h1M289 165h1M289 169h1M290 151h1M290 153h1M290 156h1M290 164h1M291 175h1M291 177h1M292 153h1M292 159h1M292 160h1M292 161h1M293 149h1M293 165h1M294 153h1M294 157h1M294 164h1M294 165h1M295 155h1M295 156h1M295 157h1M295 158h1M295 161h1M296 153h1M296 155h1M296 163h1M297 169h1M297 171h1M298 162h1M298 163h1M298 168h1M299 158h1M300 153h1M301 160h1M301 169h1M302 159h1M302 164h1M303 165h1M304 157h1" stroke="#333" stroke-width="1" fill="none"/>
<path d="M279 141.3H318" stroke="#000" stroke-width="1.5"/>
<path d="M346 191h1M346 192h1M346 193h1M348 175h1M348 184h1M348 195h1M349 188h1M349 195h1M350 199h1M351 188h1M351 201h1M351 210h1M352 175h1M352 181h1M352 193h1M352 202h1M353 176h1M353 197h1M354 184h1M354 185h1M354 195h1M354 202h1M355 181h1M355 184h1M355 185h1M355 191h1M355 193h1M356 193h1M356 194h1M356 196h1M356 198h1M357 178h1M357 182h1M357 188h1M357 189h1M357 193h1M357 198h1M357 199h1M358 185h1M358 188h1M358 189h1M358 192h1M358 194h1M358 195h1M358 201h1M359 182h1M359 183h1M359 185h1M359 188h1M359 194h1M359 196h1M359 197h1M359 201h1M360 179h1M360 181h1M360 182h1M360 184h1M360 191h1M360 194h1M360 196h1M361 171h1M361 174h1M361 175h1M361 178h1M361 179h1M361 183h1M361 186h1M361 193h1M362 178h1M362 179h1M362 181h1M362 185h1M362 186h1M362 187h1M362 188h1M362 189h1M362 190h1M362 191h1M362 192h1M362 194h1M362 198h1M362 199h1M362 210h1M363 177h1M363 181h1M363 182h1M363 186h1M363 187h1M363 190h1M363 191h1M363 193h1M364 171h1M364 177h1M364 184h1M364 185h1M364 186h1M364 188h1M364 190h1M364 191h1M364 193h1M364 194h1M364 196h1M364 200h1M364 204h1M364 212h1M365 172h1M365 177h1M365 178h1M365 181h1M365 182h1M365 184h1M365 186h1M365 188h1M365 189h1M365 190h1M365 193h1M365 196h1M365 200h1M366 176h1M366 180h1M366 183h1M366 185h1M366 188h1M366 189h1M366 190h1M366 192h1M366 193h1M366 197h1M367 176h1M367 181h1M367 182h1M367 183h1M367 186h1M367 187h1M367 188h1M367 189h1M367 190h1M367 191h1M367 192h1M367 193h1M367 194h1M367 195h1M367 196h1M368 176h1M368 180h1M368 183h1M368 185h1M368 186h1M368 188h1M368 189h1M368 190h1M368 192h1M368 193h1M368 196h1M368 197h1M369 170h1M369 171h1M369 179h1M369 182h1M369 183h1M369 185h1M369 186h1M369 187h1M369 189h1M369 194h1M369 196h1M369 197h1M369 198h1M369 199h1M369 200h1M370 168h1M370 169h1M370 177h1M370 184h1M370 185h1M370 186h1M370 187h1M370 188h1M370 189h1M370 190h1M370 193h1M370 194h1M371 183h1M371 184h1M371 186h1M371 187h1M371 188h1M371 190h1M371 191h1M371 192h1M371 193h1M371 198h1M371 206h1M372 179h1M372 181h1M372 182h1M372 184h1M372 185h1M372 186h1M372 187h1M372 188h1M372 189h1M372 190h1M372 192h1M372 194h1M373 177h1M373 178h1M373 180h1M373 181h1M373 182h1M373 185h1M373 186h1M373 187h1M373 188h1M373 190h1M373 193h1M373 194h1M373 196h1M374 177h1M374 179h1M374 181h1M374 182h1M374 186h1M374 188h1M374 189h1M375 175h1M375 179h1M375 182h1M375 183h1M375 184h1M375 185h1M375 187h1M375 188h1M375 189h1M375 192h1M375 198h1M376 168h1M376 171h1M376 172h1M376 174h1M376 176h1M376 180h1M376 181h1M376 183h1M376 184h1M376 185h1M376 186h1M376 188h1M376 189h1M376 190h1M376 193h1M377 169h1M377 170h1M377 177h1M377 180h1M377 182h1M377 185h1M377 188h1M377 189h1M377 192h1M377 197h1M377 200h1M378 174h1M378 180h1M378 187h1M378 193h1M378 195h1M378 196h1M379 178h1M379 179h1M379 180h1M379 181h1M379 182h1M379 184h1M379 185h1M379 186h1M379 188h1M379 190h1M379 194h1M379 196h1M379 203h1M380 177h1M380 178h1M380 179h1M380 180h1M380 181h1M380 183h1M380 184h1M380 185h1M380 188h1M380 189h1M380 192h1M380 193h1M380 194h1M380 195h1M380 200h1M381 172h1M381 174h1M381 182h1M381 185h1M381 187h1M381 188h1M381 189h1M382 167h1M382 171h1M382 177h1M382 181h1M382 182h1M382 183h1M382 184h1M382 185h1M382 186h1M382 187h1M382 190h1M382 191h1M382 192h1M382 194h1M383 171h1M383 172h1M383 176h1M383 177h1M383 179h1M383 186h1M383 189h1M383 193h1M383 195h1M384 152h1M384 178h1M384 182h1M384 186h1M384 188h1M384 191h1M385 172h1M385 173h1M385 176h1M385 177h1M385 178h1M385 179h1M385 180h1M385 182h1M385 183h1M385 187h1M385 191h1M385 192h1M385 194h1M386 168h1M386 173h1M386 175h1M386 177h1M386 181h1M386 187h1M386 191h1M386 192h1M387 156h1M387 164h1M387 171h1M387 172h1M387 173h1M387 176h1M387 178h1M387 185h1M387 187h1M387 188h1M387 190h1M387 197h1M388 160h1M388 170h1M388 171h1M388 173h1M388 175h1M388 178h1M388 179h1M388 184h1M388 186h1M388 189h1M388 193h1M388 194h1M388 195h1M388 216h1M389 169h1M389 170h1M389 171h1M389 173h1M389 175h1M389 176h1M389 177h1M389 179h1M389 183h1M389 184h1M389 185h1M389 188h1M389 190h1M389 191h1M389 192h1M390 167h1M390 171h1M390 172h1M390 173h1M390 175h1M390 176h1M390 177h1M390 178h1M390 180h1M390 181h1M390 184h1M390 185h1M390 188h1M390 200h1M391 170h1M391 173h1M391 178h1M391 180h1M391 182h1M391 183h1M391 186h1M391 188h1M392 165h1M392 176h1M392 178h1M392 180h1M392 183h1M392 185h1M392 186h1M392 189h1M392 195h1M392 200h1M392 204h1M393 161h1M393 172h1M393 175h1M393 179h1M393 180h1M393 181h1M393 184h1M393 186h1M393 188h1M393 202h1M394 167h1M394 168h1M394 171h1M394 176h1M394 177h1M394 180h1M394 181h1M394 182h1M394 183h1M394 184h1M394 186h1M394 187h1M394 188h1M394 193h1M394 194h1M395 170h1M395 173h1M395 180h1M395 181h1M395 182h1M395 184h1M395 185h1M395 186h1M395 193h1M396 163h1M396 166h1M396 171h1M396 174h1M396 175h1M396 176h1M396 178h1M396 180h1M396 182h1M396 183h1M396 185h1M396 188h1M396 190h1M397 166h1M397 174h1M397 177h1M397 178h1M397 181h1M397 183h1M397 187h1M398 172h1M398 173h1M398 176h1M398 178h1M398 179h1M398 180h1M398 191h1M399 163h1M399 172h1M399 173h1M399 176h1M399 177h1M399 178h1M399 179h1M399 182h1M399 190h1M399 191h1M400 168h1M400 171h1M400 174h1M400 176h1M400 177h1M400 181h1M400 183h1M400 185h1M400 187h1M400 189h1M400 191h1M400 200h1M401 165h1M401 171h1M401 172h1M401 173h1M401 175h1M401 176h1M401 177h1M401 178h1M401 184h1M401 187h1M401 188h1M401 189h1M401 195h1M401 196h1M402 164h1M402 168h1M402 171h1M402 172h1M402 176h1M402 177h1M402 182h1M402 185h1M402 192h1M403 176h1M403 178h1M403 185h1M403 189h1M403 190h1M403 191h1M404 159h1M404 171h1M404 172h1M404 176h1M404 177h1M404 178h1M404 181h1M404 183h1M404 189h1M405 156h1M405 164h1M405 168h1M405 175h1M405 176h1M405 177h1M405 179h1M405 180h1M405 182h1M405 183h1M406 157h1M406 165h1M406 169h1M406 171h1M406 174h1M406 176h1M406 177h1M406 178h1M406 179h1M406 184h1M406 193h1M407 164h1M407 165h1M407 166h1M407 168h1M407 173h1M407 177h1M407 178h1M407 179h1M407 180h1M407 182h1M407 183h1M407 184h1M407 192h1M408 172h1M408 174h1M408 175h1M408 176h1M408 177h1M408 178h1M408 180h1M408 181h1M408 185h1M408 189h1M409 170h1M409 172h1M409 176h1M409 178h1M409 187h1M409 195h1M409 196h1M410 159h1M410 171h1M410 200h1M411 155h1M411 174h1M411 181h1M412 160h1M412 162h1M412 166h1M412 169h1M412 170h1M412 171h1M412 173h1M412 175h1M412 177h1M412 182h1M413 171h1M413 173h1M413 177h1M413 187h1M414 165h1M414 167h1M414 168h1M414 172h1M414 174h1M414 175h1M414 178h1M414 191h1M415 163h1M415 169h1M415 173h1M415 177h1M415 182h1M415 183h1M416 156h1M416 174h1M416 175h1M416 177h1M416 179h1M416 180h1M416 185h1M417 179h1M417 184h1M418 156h1M418 174h1M418 175h1M418 179h1M419 162h1M419 166h1M419 170h1M419 172h1M419 174h1M419 180h1M419 181h1M419 185h1M420 168h1M420 171h1M420 174h1M420 177h1M420 180h1M420 190h1M421 162h1M421 169h1M421 183h1M421 186h1M422 172h1M422 173h1M422 177h1M422 180h1M422 186h1M423 162h1M423 167h1M423 169h1M423 170h1M423 172h1M423 181h1M424 176h1M424 178h1M425 169h1M425 177h1M425 181h1M425 185h1M425 188h1M425 224h1M426 166h1M426 168h1M426 172h1M426 175h1M427 166h1M427 172h1M428 155h1M428 158h1M428 170h1M428 176h1M428 179h1M429 160h1M429 165h1M429 170h1M429 174h1M429 177h1M430 152h1M430 173h1M430 181h1M431 178h1M432 162h1M432 167h1M432 174h1M433 180h1M434 214h1M436 169h1M436 183h1M437 168h1M439 171h1M440 168h1M441 169h1" stroke="#bcbcbc" stroke-width="1" fill="none"/>
<path d="M387 178h1M389 188h1M390 176h1M392 166h1M392 174h1M392 181h1M393 172h1M393 175h1M394 171h1M394 174h1M394 181h1M394 184h1M394 190h1M395 167h1M395 169h1M395 174h1M395 176h1M395 185h1M395 188h1M396 160h1M396 166h1M396 177h1M396 178h1M396 179h1M396 182h1M396 189h1M397 161h1M397 168h1M397 170h1M397 172h1M397 173h1M397 174h1M397 176h1M397 177h1M397 182h1M397 190h1M398 160h1M398 166h1M398 172h1M398 173h1M398 176h1M398 180h1M398 182h1M398 185h1M399 163h1M399 165h1M399 166h1M399 167h1M399 169h1M399 171h1M399 174h1M399 176h1M399 177h1M400 168h1M400 171h1M400 172h1M400 173h1M400 176h1M400 180h1M400 184h1M400 188h1M401 165h1M401 166h1M401 168h1M401 171h1M401 174h1M401 175h1M401 176h1M401 179h1M401 180h1M401 181h1M401 182h1M401 185h1M402 165h1M402 166h1M402 167h1M402 173h1M402 174h1M402 178h1M402 179h1M402 180h1M402 182h1M402 183h1M402 186h1M403 156h1M403 159h1M403 166h1M403 168h1M403 169h1M403 170h1M403 171h1M403 172h1M403 173h1M403 175h1M403 177h1M403 179h1M403 180h1M403 182h1M403 183h1M403 184h1M403 185h1M404 169h1M404 171h1M404 172h1M404 174h1M404 175h1M404 176h1M404 178h1M404 179h1M404 180h1M404 183h1M404 184h1M405 165h1M405 168h1M405 172h1M405 174h1M405 175h1M405 176h1M405 177h1M405 178h1M405 179h1M405 180h1M405 181h1M405 182h1M405 183h1M405 184h1M405 190h1M406 166h1M406 169h1M406 170h1M406 171h1M406 173h1M406 174h1M406 175h1M406 176h1M406 178h1M406 179h1M406 182h1M406 193h1M407 165h1M407 168h1M407 169h1M407 170h1M407 171h1M407 172h1M407 174h1M407 175h1M407 177h1M407 178h1M407 179h1M407 180h1M407 183h1M407 184h1M407 186h1M407 187h1M407 189h1M408 166h1M408 168h1M408 169h1M408 170h1M408 171h1M408 172h1M408 174h1M408 175h1M408 176h1M408 177h1M408 178h1M408 179h1M408 181h1M408 183h1M408 184h1M408 186h1M408 189h1M408 194h1M409 162h1M409 165h1M409 166h1M409 167h1M409 168h1M409 170h1M409 171h1M409 173h1M409 174h1M409 177h1M409 178h1M409 180h1M409 183h1M409 186h1M410 153h1M410 160h1M410 162h1M410 163h1M410 165h1M410 168h1M410 169h1M410 170h1M410 171h1M410 172h1M410 173h1M410 174h1M410 177h1M410 178h1M410 180h1M410 181h1M410 182h1M410 185h1M410 186h1M411 165h1M411 167h1M411 168h1M411 169h1M411 170h1M411 171h1M411 172h1M411 173h1M411 174h1M411 175h1M411 176h1M411 177h1M411 178h1M411 179h1M411 180h1M411 181h1M411 182h1M411 183h1M411 186h1M411 188h1M412 154h1M412 156h1M412 162h1M412 164h1M412 165h1M412 166h1M412 167h1M412 170h1M412 172h1M412 173h1M412 174h1M412 175h1M412 176h1M412 178h1M412 179h1M412 180h1M412 181h1M412 184h1M412 187h1M413 157h1M413 162h1M413 163h1M413 165h1M413 166h1M413 167h1M413 168h1M413 170h1M413 172h1M413 173h1M413 174h1M413 175h1M413 176h1M413 179h1M413 181h1M413 182h1M414 161h1M414 163h1M414 164h1M414 166h1M414 168h1M414 169h1M414 170h1M414 171h1M414 173h1M414 176h1M414 178h1M414 179h1M414 182h1M414 189h1M415 158h1M415 159h1M415 160h1M415 161h1M415 162h1M415 164h1M415 166h1M415 168h1M415 172h1M415 174h1M415 175h1M415 179h1M415 180h1M415 184h1M415 187h1M416 161h1M416 163h1M416 166h1M416 167h1M416 171h1M416 172h1M416 174h1M416 175h1M416 176h1M416 177h1M416 178h1M416 179h1M416 181h1M416 182h1M417 155h1M417 160h1M417 167h1M417 168h1M417 171h1M417 173h1M417 174h1M417 175h1M417 177h1M417 178h1M417 180h1M417 181h1M417 186h1M418 154h1M418 160h1M418 163h1M418 164h1M418 168h1M418 169h1M418 170h1M418 171h1M418 172h1M418 173h1M418 174h1M418 175h1M418 176h1M418 177h1M418 179h1M418 180h1M418 182h1M418 184h1M418 185h1M419 160h1M419 166h1M419 169h1M419 170h1M419 172h1M419 173h1M419 175h1M419 177h1M419 178h1M419 179h1M419 180h1M419 181h1M420 159h1M420 160h1M420 164h1M420 165h1M420 169h1M420 170h1M420 174h1M420 175h1M420 176h1M420 178h1M421 160h1M421 167h1M421 168h1M421 169h1M421 174h1M421 176h1M421 177h1M421 184h1M422 161h1M422 162h1M422 167h1M422 168h1M422 170h1M422 171h1M422 172h1M422 174h1M422 179h1M422 184h1M423 162h1M423 166h1M423 170h1M423 171h1M423 173h1M423 174h1M423 176h1M423 177h1M423 180h1M424 161h1M424 164h1M424 174h1M424 177h1M424 178h1M424 180h1M424 182h1M424 184h1M425 164h1M425 166h1M425 170h1M425 171h1M425 173h1M425 185h1M426 165h1M426 167h1M426 168h1M426 175h1M426 183h1M427 159h1M427 162h1M427 169h1M427 173h1M428 165h1M428 167h1M428 170h1M428 176h1M428 177h1M429 167h1M429 171h1M429 173h1M429 176h1M429 179h1M429 189h1M430 165h1M430 169h1M430 171h1M430 172h1M430 174h1M430 182h1M431 158h1M431 169h1M431 181h1M434 164h1M436 163h1M436 169h1M438 171h1M438 172h1" stroke="#999999" stroke-width="1" fill="none"/>
<path d="M367.75 171h1.5M369.75 182h1.5M376.75 159h1.5M376.75 168h1.5M376.75 173h1.5M376.75 177h1.5M377.75 165h1.5M379.75 164h1.5M379.75 167h1.5M379.75 173h1.5M380.75 164h1.5M380.75 169h1.5M380.75 171h1.5M381.75 166h1.5M381.75 168h1.5M382.75 162h1.5M382.75 167h1.5M382.75 172h1.5M383.75 164h1.5M384.75 164h1.5M385.75 168h1.5M385.75 171h1.5M385.75 176h1.5M386.75 164h1.5M386.75 168h1.5M387.75 165h1.5M388.75 158h1.5M388.75 161h1.5M388.75 164h1.5M388.75 175h1.5M389.75 171h1.5M389.75 174h1.5M391.75 156h1.5M391.75 159h1.5M391.75 160h1.5M391.75 162h1.5M391.75 166h1.5M391.75 175h1.5M392.75 169h1.5M394.75 150h1.5M394.75 167h1.5M395.75 155h1.5M395.75 159h1.5M395.75 160h1.5M396.75 153h1.5M396.75 159h1.5M396.75 161h1.5M396.75 169h1.5M398.75 163h1.5M398.75 165h1.5M399.75 141h1.5M399.75 167h1.5M400.75 153h1.5M400.75 165h1.5M400.75 169h1.5M401.75 139h1.5M401.75 144h1.5M401.75 146h1.5M401.75 153h1.5M401.75 156h1.5M402.75 155h1.5M402.75 164h1.5M404.75 141h1.5M404.75 156h1.5M405.75 146h1.5M405.75 147h1.5M405.75 152h1.5M406.75 143h1.5M406.75 145h1.5M406.75 149h1.5M406.75 153h1.5M406.75 155h1.5M406.75 164h1.5M407.75 153h1.5M407.75 162h1.5M408.75 137h1.5M408.75 141h1.5M408.75 155h1.5M408.75 156h1.5M408.75 158h1.5M409.75 144h1.5M409.75 145h1.5M409.75 153h1.5M410.75 140h1.5M410.75 143h1.5M410.75 149h1.5M410.75 152h1.5M411.75 140h1.5M411.75 141h1.5M411.75 145h1.5M411.75 154h1.5M412.75 142h1.5M413.75 137h1.5M413.75 150h1.5M413.75 158h1.5M414.75 136h1.5M414.75 142h1.5M414.75 154h1.5M415.75 147h1.5M415.75 150h1.5M415.75 152h1.5M415.75 153h1.5M415.75 156h1.5M415.75 160h1.5M416.75 156h1.5M417.75 136h1.5M417.75 141h1.5M417.75 144h1.5M417.75 148h1.5M418.75 137h1.5M418.75 142h1.5M418.75 143h1.5M418.75 150h1.5M418.75 151h1.5M421.75 144h1.5M423.75 139h1.5M423.75 144h1.5M423.75 150h1.5M424.75 144h1.5M426.75 139h1.5M426.75 140h1.5M427.75 150h1.5M428.75 143h1.5M431.75 139h1.5M431.75 159h1.5M437.75 139h1.5" stroke="#000" stroke-width="1.5" fill="none" shape-rendering="auto"/>
<path d="M112 298h1M112 306h1M112 325h1M112 332h1M113 308h1M113 327h1M113 337h1M114 309h1M114 313h1M114 314h1M114 331h1M115 302h1M115 315h1M115 320h1M116 331h1M117 306h1M117 315h1M117 322h1M117 324h1M118 315h1M118 317h1M118 320h1M118 329h1M118 336h1M119 300h1M119 330h1M120 307h1M120 323h1M120 333h1M121 301h1M121 314h1M121 324h1M121 329h1M121 333h1M121 334h1M122 301h1M122 302h1M122 308h1M122 313h1M122 314h1M123 279h1M123 310h1M123 318h1M123 323h1M123 326h1M123 331h1M124 310h1M124 312h1M124 315h1M124 318h1M124 325h1M124 327h1M124 329h1M125 311h1M125 315h1M125 317h1M125 322h1M125 323h1M125 326h1M125 335h1M126 322h1M127 299h1M127 308h1M127 309h1M127 315h1M127 325h1M127 331h1M127 332h1M128 282h1M128 308h1M128 313h1M128 320h1M128 326h1M128 329h1M128 331h1M128 332h1M128 333h1M129 310h1M129 316h1M129 320h1M129 324h1M129 329h1M129 331h1M129 332h1M129 333h1M130 314h1M131 301h1M131 306h1M131 311h1M131 317h1M131 320h1M131 321h1M131 324h1M131 327h1M131 332h1M132 296h1M132 302h1M132 308h1M132 313h1M132 318h1M132 319h1M132 323h1M132 328h1M132 331h1M132 333h1M133 314h1M133 318h1M133 322h1M133 323h1M133 326h1M133 330h1M133 333h1M133 334h1M134 304h1M134 307h1M134 312h1M134 316h1M134 317h1M134 320h1M134 328h1M135 297h1M135 312h1M135 313h1M135 317h1M135 320h1M135 326h1M135 336h1M136 311h1M136 313h1M136 331h1M137 287h1M137 289h1M137 301h1M137 304h1M137 307h1M137 320h1M137 322h1M137 324h1M137 328h1M137 335h1M138 299h1M138 319h1M138 320h1M138 321h1M138 322h1M138 328h1M138 330h1M138 335h1M138 336h1M139 283h1M139 314h1M139 317h1M139 319h1M139 321h1M139 330h1M139 332h1M140 290h1M140 304h1M140 310h1M140 311h1M140 321h1M140 324h1M140 326h1M140 329h1M141 302h1M141 304h1M141 313h1M141 314h1M141 317h1M141 321h1M141 332h1M141 333h1M142 292h1M142 304h1M142 305h1M142 314h1M142 317h1M142 326h1M142 329h1M142 332h1M142 335h1M142 337h1M143 312h1M143 316h1M143 321h1M143 322h1M143 326h1M143 336h1M143 337h1M144 298h1M144 300h1M144 304h1M144 313h1M144 317h1M144 322h1M144 324h1M144 333h1M144 334h1M145 300h1M145 311h1M145 317h1M145 318h1M145 319h1M145 334h1M146 303h1M146 308h1M146 317h1M146 325h1M146 328h1M146 329h1M146 332h1M147 308h1M147 312h1M147 314h1M147 325h1M147 328h1M147 337h1M148 299h1M148 302h1M148 309h1M148 311h1M148 322h1M148 330h1M149 309h1M149 310h1M149 314h1M149 317h1M149 318h1M149 321h1M149 327h1M149 334h1M150 305h1M150 325h1M150 333h1M150 334h1M151 310h1M151 312h1M151 319h1M151 326h1M152 298h1M152 305h1M152 309h1M152 311h1M152 323h1M152 325h1M152 334h1M153 306h1M153 311h1M153 315h1M153 320h1M153 321h1M153 327h1M154 303h1M154 305h1M154 322h1M154 329h1M154 334h1M155 303h1M155 314h1M155 321h1M155 325h1M155 328h1M156 298h1M156 316h1M156 318h1M156 323h1M156 324h1M156 326h1M156 332h1M156 335h1M157 299h1M157 312h1M157 317h1M157 318h1M157 323h1M157 331h1M158 312h1M158 313h1M158 316h1M158 317h1M158 320h1M158 322h1M159 301h1M159 316h1M159 319h1M160 310h1M160 315h1M160 326h1M160 332h1M160 335h1M161 316h1M161 317h1M161 320h1M162 308h1M162 318h1M163 305h1M163 308h1M163 310h1M163 313h1M163 317h1M163 322h1M163 334h1M163 335h1M164 311h1M164 316h1M164 323h1M164 327h1M164 329h1M164 336h1M164 337h1M165 308h1M165 313h1M165 314h1M165 320h1M165 321h1M165 326h1M165 331h1M166 310h1M166 318h1M166 330h1M166 332h1M167 317h1M167 322h1M167 335h1M168 305h1M168 320h1M168 331h1M168 332h1M168 334h1M168 337h1M169 307h1M169 321h1M169 328h1M170 321h1M171 315h1M171 319h1M172 305h1M172 330h1M172 335h1M173 311h1M173 319h1M174 328h1M174 331h1M175 288h1M175 327h1M175 329h1M176 298h1M176 299h1M176 313h1M176 323h1M177 320h1M177 330h1M177 331h1M178 315h1M180 322h1M181 315h1M183 316h1M184 316h1M184 327h1M185 329h1M187 325h1M189 298h1M190 320h1M194 318h1M195 327h1M200 306h1M201 323h1" stroke="#c0c0c0" stroke-width="1" fill="none"/>
<ellipse cx="132" cy="321" rx="12" ry="16.5" fill="#cbcbcb"/>
<path d="M112 318h1M114 317h1M117 297h1M117 310h1M117 321h1M118 312h1M118 335h1M118 337h1M119 317h1M119 320h1M119 321h1M119 324h1M119 331h1M120 312h1M120 319h1M120 323h1M120 335h1M121 316h1M121 318h1M121 322h1M121 325h1M121 331h1M121 337h1M122 307h1M122 309h1M122 321h1M122 327h1M122 328h1M123 292h1M123 306h1M123 311h1M123 313h1M123 314h1M123 315h1M123 320h1M123 324h1M123 325h1M123 329h1M124 301h1M124 307h1M124 308h1M124 309h1M124 314h1M124 318h1M124 321h1M124 322h1M124 326h1M124 329h1M124 337h1M125 305h1M125 306h1M125 307h1M125 314h1M125 321h1M125 325h1M125 326h1M125 327h1M126 312h1M126 313h1M126 314h1M126 316h1M126 317h1M126 318h1M126 319h1M126 322h1M126 328h1M126 334h1M127 309h1M127 311h1M127 312h1M127 319h1M127 321h1M127 322h1M127 323h1M127 324h1M127 325h1M127 327h1M127 328h1M127 329h1M127 330h1M128 304h1M128 315h1M128 319h1M128 321h1M128 322h1M128 325h1M128 326h1M128 327h1M128 328h1M128 332h1M129 309h1M129 316h1M129 317h1M129 320h1M129 321h1M129 324h1M129 326h1M129 328h1M129 336h1M130 301h1M130 305h1M130 306h1M130 310h1M130 311h1M130 312h1M130 314h1M130 317h1M130 319h1M130 320h1M130 323h1M130 325h1M130 326h1M130 327h1M130 328h1M130 333h1M130 337h1M131 300h1M131 303h1M131 304h1M131 305h1M131 312h1M131 314h1M131 317h1M131 318h1M131 321h1M131 322h1M131 325h1M131 326h1M131 328h1M131 330h1M131 333h1M131 334h1M131 337h1M132 297h1M132 310h1M132 313h1M132 314h1M132 315h1M132 320h1M132 321h1M132 323h1M132 326h1M132 327h1M132 328h1M132 329h1M132 332h1M132 334h1M133 305h1M133 307h1M133 312h1M133 315h1M133 316h1M133 317h1M133 318h1M133 319h1M133 320h1M133 323h1M133 324h1M133 325h1M133 326h1M133 327h1M133 328h1M133 329h1M133 330h1M133 332h1M133 336h1M134 283h1M134 296h1M134 304h1M134 307h1M134 308h1M134 309h1M134 320h1M134 321h1M134 322h1M134 325h1M134 327h1M134 328h1M134 329h1M134 331h1M134 333h1M134 334h1M135 305h1M135 307h1M135 311h1M135 315h1M135 317h1M135 318h1M135 320h1M135 321h1M135 324h1M135 327h1M135 333h1M135 337h1M136 297h1M136 301h1M136 308h1M136 309h1M136 314h1M136 318h1M136 319h1M136 320h1M136 321h1M136 329h1M136 330h1M136 333h1M137 304h1M137 309h1M137 311h1M137 316h1M137 317h1M137 319h1M137 321h1M137 325h1M137 332h1M137 333h1M138 303h1M138 313h1M138 316h1M138 320h1M138 322h1M138 325h1M138 328h1M138 332h1M138 335h1M139 313h1M139 315h1M139 321h1M139 322h1M139 327h1M139 329h1M139 332h1M139 333h1M140 305h1M140 306h1M140 311h1M140 317h1M140 318h1M140 328h1M140 330h1M140 337h1M141 311h1M141 313h1M141 314h1M141 321h1M141 322h1M141 323h1M141 326h1M141 329h1M141 330h1M142 303h1M142 316h1M142 319h1M142 321h1M142 330h1M142 334h1M143 318h1M143 319h1M143 321h1M143 324h1M143 327h1M143 330h1M144 330h1M144 336h1M145 322h1M145 326h1M146 314h1M146 316h1M147 323h1M148 314h1M149 333h1M150 334h1M154 323h1" stroke="#bcbcbc" stroke-width="1" fill="none"/>
<path d="M138 302h1M139 316h1M139 328h1M141 311h1M141 333h1M142 311h1M142 313h1M142 323h1M142 330h1M143 307h1M143 323h1M143 326h1M144 312h1M144 319h1M144 325h1M144 329h1M144 331h1M144 332h1M145 305h1M145 311h1M145 314h1M145 315h1M145 317h1M145 321h1M145 322h1M145 330h1M145 333h1M145 334h1M146 293h1M146 301h1M146 306h1M146 312h1M146 313h1M146 319h1M146 321h1M146 326h1M146 328h1M146 336h1M147 306h1M147 311h1M147 312h1M147 315h1M147 316h1M147 318h1M147 319h1M147 321h1M147 323h1M147 325h1M147 326h1M147 328h1M147 331h1M148 308h1M148 310h1M148 311h1M148 314h1M148 315h1M148 318h1M148 320h1M148 321h1M148 322h1M148 323h1M148 325h1M148 326h1M148 327h1M148 328h1M148 329h1M148 331h1M148 335h1M149 302h1M149 303h1M149 306h1M149 308h1M149 309h1M149 311h1M149 312h1M149 314h1M149 315h1M149 317h1M149 319h1M149 320h1M149 321h1M149 322h1M149 325h1M149 331h1M149 337h1M150 304h1M150 309h1M150 312h1M150 313h1M150 316h1M150 317h1M150 318h1M150 319h1M150 321h1M150 322h1M150 323h1M150 325h1M150 326h1M150 328h1M150 329h1M150 331h1M150 333h1M150 336h1M150 337h1M151 296h1M151 302h1M151 311h1M151 312h1M151 316h1M151 317h1M151 318h1M151 320h1M151 321h1M151 324h1M151 326h1M151 327h1M151 328h1M151 330h1M151 331h1M151 332h1M151 334h1M152 303h1M152 304h1M152 308h1M152 310h1M152 311h1M152 314h1M152 315h1M152 317h1M152 318h1M152 319h1M152 320h1M152 321h1M152 322h1M152 324h1M152 325h1M152 328h1M152 331h1M153 308h1M153 309h1M153 310h1M153 311h1M153 314h1M153 315h1M153 317h1M153 322h1M153 324h1M153 326h1M153 328h1M154 310h1M154 314h1M154 321h1M154 323h1M154 327h1M154 337h1M155 303h1M155 309h1M155 318h1M155 321h1M155 322h1M155 326h1M155 327h1M155 328h1M155 329h1M155 336h1M156 314h1M156 316h1M156 327h1M156 329h1M156 333h1M157 312h1M157 319h1M157 336h1M157 337h1M158 302h1M158 309h1M158 320h1M158 321h1M159 301h1M159 305h1M159 314h1M159 315h1M159 324h1M160 314h1M160 316h1M160 317h1M160 318h1M160 325h1M160 336h1M161 315h1M161 316h1M161 322h1M161 330h1M161 333h1M162 311h1M162 323h1M163 307h1M163 334h1M165 308h1M173 319h1" stroke="#3a3a3a" stroke-width="1" fill="none"/>
<path d="M146.7 299h1.6M151.7 300h1.6M151.7 302h1.6M152.7 300h1.6M156.7 304h1.6M160.7 306h1.6M162.7 299h1.6M162.7 301h1.6M163.7 302h1.6M166.7 294h1.6M170.7 303h1.6M171.7 308h1.6" stroke="#000" stroke-width="1.6" fill="none" shape-rendering="auto"/>
<path d="M230 307h1M230 327h1M230 336h1M231 325h1M231 327h1M232 334h1M233 317h1M233 332h1M233 333h1M233 337h1M234 315h1M234 320h1M234 323h1M234 324h1M234 327h1M234 332h1M235 311h1M235 313h1M235 318h1M235 319h1M235 323h1M235 325h1M235 329h1M236 305h1M236 317h1M236 319h1M236 321h1M236 325h1M236 330h1M236 331h1M236 332h1M236 337h1M237 304h1M237 310h1M237 315h1M237 325h1M237 328h1M237 329h1M237 331h1M237 333h1M237 337h1M238 315h1M239 307h1M239 309h1M239 310h1M239 323h1M239 326h1M239 327h1M239 334h1M239 338h1M240 316h1M240 320h1M240 323h1M240 324h1M240 330h1M240 332h1M240 334h1M240 337h1M241 308h1M241 312h1M241 319h1M241 320h1M241 322h1M241 323h1M241 324h1M241 326h1M241 331h1M241 334h1M241 335h1M242 306h1M242 310h1M242 311h1M242 317h1M242 319h1M242 320h1M242 322h1M242 324h1M242 327h1M242 328h1M242 333h1M242 337h1M243 294h1M243 297h1M243 305h1M243 307h1M243 310h1M243 314h1M243 316h1M243 317h1M243 318h1M243 319h1M243 320h1M243 321h1M243 322h1M243 324h1M243 326h1M243 327h1M243 331h1M243 333h1M243 335h1M243 336h1M244 315h1M244 319h1M244 320h1M244 324h1M244 325h1M244 328h1M244 329h1M244 336h1M244 338h1M245 294h1M245 311h1M245 312h1M245 317h1M245 318h1M245 319h1M245 322h1M245 323h1M245 324h1M245 325h1M245 326h1M245 327h1M245 330h1M245 333h1M245 334h1M245 336h1M245 337h1M245 338h1M246 310h1M246 311h1M246 313h1M246 318h1M246 319h1M246 322h1M246 324h1M246 325h1M246 326h1M246 327h1M246 330h1M246 332h1M246 335h1M246 338h1M247 318h1M247 319h1M247 320h1M247 324h1M247 326h1M247 327h1M247 329h1M247 331h1M247 333h1M247 334h1M247 335h1M247 336h1M247 337h1M248 310h1M248 314h1M248 316h1M248 318h1M248 319h1M248 320h1M248 322h1M248 323h1M248 324h1M248 332h1M248 333h1M248 335h1M248 337h1M249 308h1M249 312h1M249 314h1M249 315h1M249 319h1M249 320h1M249 323h1M249 324h1M249 325h1M249 326h1M249 328h1M249 330h1M249 331h1M249 332h1M249 333h1M249 334h1M249 337h1M250 300h1M250 308h1M250 313h1M250 315h1M250 316h1M250 322h1M250 324h1M250 325h1M250 326h1M250 327h1M250 328h1M250 329h1M250 332h1M250 336h1M251 302h1M251 304h1M251 310h1M251 311h1M251 315h1M251 317h1M251 318h1M251 319h1M251 321h1M251 322h1M251 326h1M251 327h1M251 328h1M251 329h1M251 333h1M251 334h1M251 337h1M251 338h1M252 304h1M252 310h1M252 313h1M252 316h1M252 317h1M252 318h1M252 320h1M252 327h1M252 330h1M252 333h1M252 335h1M252 336h1M253 306h1M253 310h1M253 315h1M253 316h1M253 318h1M253 319h1M253 322h1M253 323h1M253 325h1M253 326h1M253 327h1M253 328h1M253 329h1M253 330h1M253 331h1M253 335h1M253 336h1M253 338h1M254 318h1M254 319h1M254 320h1M254 322h1M254 323h1M254 325h1M254 328h1M254 329h1M254 335h1M254 337h1M255 302h1M255 303h1M255 310h1M255 313h1M255 314h1M255 316h1M255 318h1M255 320h1M255 322h1M255 324h1M255 326h1M255 327h1M255 328h1M255 331h1M255 333h1M255 335h1M255 336h1M256 307h1M256 309h1M256 312h1M256 317h1M256 321h1M256 325h1M256 328h1M256 331h1M256 336h1M256 338h1M257 293h1M257 305h1M257 308h1M257 310h1M257 312h1M257 313h1M257 315h1M257 316h1M257 320h1M257 324h1M257 325h1M257 326h1M257 329h1M257 330h1M257 332h1M257 333h1M257 336h1M258 307h1M258 316h1M258 324h1M258 331h1M258 333h1M258 334h1M258 337h1M258 338h1M259 310h1M259 317h1M259 318h1M259 320h1M259 322h1M259 325h1M259 327h1M259 328h1M259 331h1M259 333h1M260 307h1M260 308h1M260 314h1M260 317h1M260 320h1M260 322h1M260 323h1M260 324h1M260 325h1M260 326h1M260 327h1M260 329h1M260 330h1M260 331h1M260 332h1M261 305h1M261 310h1M261 311h1M261 314h1M261 315h1M261 318h1M261 319h1M261 321h1M261 322h1M261 327h1M261 328h1M261 330h1M261 333h1M261 334h1M261 335h1M262 311h1M262 313h1M262 314h1M262 319h1M262 322h1M262 326h1M262 328h1M262 330h1M262 333h1M263 314h1M263 317h1M263 324h1M263 331h1M263 332h1M263 334h1M264 301h1M264 304h1M264 309h1M264 314h1M264 318h1M264 320h1M264 325h1M264 331h1M264 333h1M264 334h1M265 311h1M265 320h1M265 321h1M265 326h1M265 330h1M265 331h1M265 332h1M265 336h1M266 304h1M266 313h1M266 317h1M266 319h1M266 320h1M266 322h1M266 323h1M266 324h1M266 329h1M266 335h1M267 299h1M267 302h1M267 314h1M267 316h1M267 321h1M267 323h1M267 325h1M267 335h1M268 314h1M268 322h1M268 324h1M268 325h1M268 330h1M268 332h1M268 333h1M268 335h1M268 338h1M269 315h1M269 318h1M269 322h1M269 324h1M269 327h1M270 313h1M270 317h1M270 319h1M270 330h1M270 331h1M270 338h1M271 315h1M271 319h1M271 321h1M271 324h1M271 332h1M271 335h1M272 300h1M272 309h1M272 316h1M272 317h1M272 326h1M272 328h1M272 333h1M272 334h1M273 306h1M273 319h1M273 323h1M273 331h1M273 332h1M273 334h1M273 337h1M274 303h1M274 305h1M274 323h1M274 326h1M274 329h1M275 305h1M275 308h1M275 311h1M275 319h1M275 320h1M275 329h1M275 330h1M275 331h1M276 317h1M276 318h1M276 320h1M276 321h1M276 323h1M276 324h1M276 326h1M276 327h1M276 328h1M276 329h1M276 331h1M276 337h1M277 301h1M277 311h1M277 313h1M277 319h1M277 320h1M277 323h1M277 327h1M277 329h1M277 332h1M277 336h1M277 338h1M278 308h1M278 314h1M278 315h1M278 316h1M278 317h1M278 322h1M278 325h1M278 327h1M278 328h1M278 330h1M278 331h1M278 332h1M278 333h1M278 335h1M278 336h1M279 305h1M279 313h1M279 315h1M279 316h1M279 318h1M279 320h1M279 329h1M279 332h1M279 334h1M279 337h1M280 306h1M280 307h1M280 325h1M280 328h1M280 332h1M280 333h1M280 335h1M280 336h1M281 292h1M281 314h1M281 320h1M281 322h1M281 323h1M281 324h1M281 325h1M281 327h1M281 328h1M281 329h1M281 331h1M281 334h1M282 300h1M282 310h1M282 312h1M282 316h1M282 319h1M282 320h1M282 327h1M282 329h1M282 330h1M283 307h1M283 310h1M283 312h1M283 318h1M283 319h1M283 320h1M283 322h1M283 324h1M283 328h1M283 329h1M283 330h1M283 331h1M283 333h1M283 334h1M284 305h1M284 306h1M284 309h1M284 311h1M284 313h1M284 315h1M284 316h1M284 317h1M284 319h1M284 321h1M284 327h1M284 329h1M284 331h1M284 332h1M284 333h1M284 335h1M284 336h1M284 337h1M284 338h1M285 303h1M285 309h1M285 311h1M285 314h1M285 315h1M285 319h1M285 321h1M285 322h1M285 323h1M285 324h1M285 326h1M285 327h1M285 329h1M285 333h1M285 335h1M285 337h1M286 298h1M286 311h1M286 313h1M286 315h1M286 323h1M286 324h1M286 325h1M286 326h1M286 327h1M286 329h1M286 330h1M286 332h1M286 333h1M286 338h1M287 300h1M287 303h1M287 310h1M287 311h1M287 314h1M287 320h1M287 322h1M287 323h1M287 327h1M287 329h1M287 330h1M287 334h1M287 335h1M287 338h1M288 303h1M288 307h1M288 310h1M288 312h1M288 313h1M288 316h1M288 318h1M288 322h1M288 323h1M288 325h1M288 327h1M288 328h1M288 329h1M288 330h1M288 334h1M288 336h1M289 302h1M289 306h1M289 311h1M289 312h1M289 314h1M289 317h1M289 327h1M289 328h1M289 332h1M289 334h1M290 299h1M290 301h1M290 303h1M290 307h1M290 309h1M290 311h1M290 312h1M290 318h1M290 321h1M290 323h1M290 324h1M290 326h1M290 329h1M290 330h1M290 337h1M290 338h1M291 303h1M291 313h1M291 314h1M291 317h1M291 319h1M291 320h1M291 321h1M291 322h1M291 324h1M291 325h1M291 326h1M291 327h1M291 328h1M291 330h1M291 332h1M291 334h1M291 336h1M292 305h1M292 314h1M292 315h1M292 317h1M292 319h1M292 322h1M292 323h1M292 328h1M292 329h1M292 330h1M292 331h1M292 332h1M292 334h1M292 336h1M293 304h1M293 305h1M293 312h1M293 315h1M293 317h1M293 318h1M293 319h1M293 322h1M293 326h1M293 327h1M293 328h1M293 329h1M293 330h1M293 331h1M293 333h1M293 334h1M293 335h1M293 337h1M293 338h1M294 302h1M294 304h1M294 307h1M294 315h1M294 316h1M294 318h1M294 321h1M294 322h1M294 323h1M294 324h1M294 325h1M294 328h1M294 329h1M294 334h1M294 335h1M294 337h1M295 294h1M295 305h1M295 308h1M295 312h1M295 313h1M295 315h1M295 316h1M295 318h1M295 319h1M295 320h1M295 322h1M295 323h1M295 324h1M295 325h1M295 330h1M295 333h1M295 334h1M295 336h1M295 338h1M296 300h1M296 302h1M296 304h1M296 305h1M296 313h1M296 314h1M296 316h1M296 318h1M296 319h1M296 320h1M296 323h1M296 325h1M296 326h1M296 328h1M296 329h1M296 332h1M296 335h1M296 337h1M296 338h1M297 304h1M297 306h1M297 307h1M297 309h1M297 310h1M297 312h1M297 314h1M297 316h1M297 317h1M297 318h1M297 321h1M297 322h1M297 323h1M297 326h1M297 328h1M297 329h1M297 330h1M297 331h1M297 332h1M297 335h1M298 313h1M298 318h1M298 319h1M298 321h1M298 323h1M298 324h1M298 325h1M298 327h1M298 331h1M298 333h1M298 334h1M298 336h1M299 303h1M299 311h1M299 314h1M299 316h1M299 318h1M299 320h1M299 321h1M299 323h1M299 324h1M299 325h1M299 327h1M299 328h1M299 331h1M299 333h1M300 300h1M300 308h1M300 311h1M300 312h1M300 313h1M300 315h1M300 318h1M300 319h1M300 320h1M300 322h1M300 324h1M300 325h1M300 327h1M300 330h1M300 331h1M300 333h1M300 334h1M301 300h1M301 301h1M301 309h1M301 310h1M301 311h1M301 314h1M301 315h1M301 316h1M301 317h1M301 318h1M301 321h1M301 322h1M301 325h1M301 326h1M301 328h1M301 330h1M301 333h1M301 334h1M301 337h1M302 305h1M302 306h1M302 308h1M302 310h1M302 311h1M302 317h1M302 322h1M302 324h1M302 325h1M302 330h1M302 334h1M302 337h1M303 308h1M303 311h1M303 312h1M303 313h1M303 314h1M303 315h1M303 318h1M303 319h1M303 320h1M303 323h1M303 324h1M303 325h1M303 329h1M303 330h1M303 331h1M303 332h1M303 338h1M304 300h1M304 308h1M304 311h1M304 313h1M304 315h1M304 320h1M304 321h1M304 324h1M304 325h1M304 327h1M304 328h1M304 331h1M304 332h1M304 334h1M304 338h1M305 309h1M305 310h1M305 312h1M305 314h1M305 320h1M305 321h1M305 322h1M305 323h1M305 324h1M305 328h1M305 329h1M305 331h1M306 314h1M306 316h1M306 318h1M306 322h1M306 325h1M306 326h1M306 327h1M306 328h1M306 334h1M306 335h1M306 336h1M306 337h1M307 307h1M307 314h1M307 318h1M307 319h1M307 322h1M307 323h1M307 325h1M307 326h1M307 332h1M307 333h1M307 334h1M308 307h1M308 312h1M308 313h1M308 315h1M308 317h1M308 319h1M308 320h1M308 322h1M308 323h1M308 325h1M308 326h1M308 328h1M308 331h1M308 333h1M308 335h1M308 338h1M309 307h1M309 315h1M309 318h1M309 319h1M309 324h1M309 325h1M309 327h1M309 329h1M309 336h1M309 338h1M310 296h1M310 302h1M310 308h1M310 314h1M310 316h1M310 320h1M310 321h1M310 327h1M310 328h1M310 331h1M310 332h1M310 335h1M310 336h1M311 305h1M311 308h1M311 309h1M311 310h1M311 312h1M311 318h1M311 319h1M311 320h1M311 323h1M311 324h1M311 326h1M311 328h1M311 329h1M311 330h1M311 331h1M311 332h1M311 335h1M312 312h1M312 317h1M312 318h1M312 319h1M312 320h1M312 322h1M312 324h1M312 325h1M312 326h1M312 328h1M312 331h1M312 336h1M313 308h1M313 309h1M313 310h1M313 316h1M313 317h1M313 324h1M313 327h1M313 329h1M313 331h1M313 334h1M314 299h1M314 307h1M314 312h1M314 315h1M314 320h1M314 321h1M314 325h1M314 326h1M314 327h1M314 330h1M314 331h1M314 333h1M315 307h1M315 308h1M315 309h1M315 313h1M315 315h1M315 316h1M315 319h1M315 322h1M315 331h1M315 335h1M316 311h1M316 313h1M316 319h1M316 322h1M316 323h1M316 327h1M316 329h1M316 337h1M317 306h1M317 318h1M317 322h1M317 332h1" stroke="#c0c0c0" stroke-width="1" fill="none"/>
<path d="M233 295h1M234 294h1M235 302h1M236 298h1M236 315h1M239 287h1M240 297h1M240 305h1M241 288h1M241 300h1M241 304h1M241 309h1M243 294h1M243 295h1M243 299h1M244 282h1M244 298h1M245 287h1M245 296h1M245 301h1M246 296h1M246 297h1M246 306h1M247 293h1M247 301h1M247 304h1M248 288h1M248 304h1M248 305h1M248 312h1M249 298h1M249 301h1M249 302h1M250 291h1M252 294h1M252 298h1M252 299h1M252 302h1M253 292h1M253 294h1M253 300h1M253 301h1M254 295h1M254 299h1M254 300h1M254 301h1M255 287h1M255 295h1M255 303h1M255 305h1M256 290h1M256 293h1M256 297h1M256 304h1M257 292h1M257 293h1M257 295h1M257 300h1M258 288h1M258 289h1M258 299h1M258 301h1M258 304h1M259 294h1M259 298h1M259 299h1M259 301h1M259 303h1M259 304h1M259 306h1M260 283h1M260 298h1M260 300h1M260 302h1M260 308h1M261 294h1M261 295h1M261 299h1M261 305h1M262 288h1M262 297h1M262 300h1M262 305h1M262 306h1M263 291h1M263 294h1M263 296h1M263 297h1M263 303h1M263 305h1M263 308h1M264 302h1M265 298h1M265 299h1M265 301h1M265 302h1M265 304h1M265 306h1M266 288h1M266 292h1M266 297h1M266 305h1M266 306h1M267 287h1M267 291h1M267 292h1M267 294h1M267 297h1M267 301h1M267 302h1M267 305h1M268 297h1M268 300h1M268 309h1M268 314h1M269 289h1M269 290h1M269 293h1M269 296h1M269 304h1M269 312h1M270 283h1M270 286h1M270 287h1M270 291h1M270 293h1M270 295h1M270 300h1M271 293h1M271 301h1M271 306h1M271 308h1M272 287h1M272 293h1M272 295h1M272 302h1M273 283h1M273 284h1M273 291h1M273 296h1M273 298h1M273 299h1M273 305h1M273 307h1M274 290h1M274 293h1M275 280h1M275 292h1M275 294h1M275 300h1M275 302h1M275 304h1M276 279h1M276 286h1M276 289h1M276 300h1M277 287h1M277 289h1M277 290h1M277 291h1M277 296h1M277 297h1M277 299h1M277 300h1M278 275h1M278 285h1M278 296h1M278 300h1M278 301h1M278 312h1M279 290h1M279 296h1M280 285h1M280 287h1M280 297h1M280 300h1M280 301h1M280 304h1M280 306h1M280 309h1M281 291h1M281 296h1M281 303h1M282 282h1M282 291h1M282 298h1M282 299h1M282 300h1M282 302h1M282 304h1M282 306h1M283 274h1M283 283h1M283 293h1M283 294h1M283 295h1M284 283h1M284 291h1M284 297h1M285 278h1M285 284h1M285 291h1M285 301h1M285 304h1M286 282h1M286 286h1M286 287h1M286 303h1M286 308h1M287 288h1M287 291h1M287 292h1M287 294h1M287 301h1M288 276h1M288 281h1M288 290h1M288 292h1M288 299h1M288 302h1M289 279h1M289 285h1M289 293h1M289 294h1M290 270h1M290 279h1M290 289h1M290 306h1M291 303h1M292 291h1M292 297h1M292 301h1M292 310h1M293 280h1M293 282h1M293 295h1M293 299h1M293 314h1M294 287h1M294 289h1M294 292h1M294 293h1M295 277h1M295 291h1M295 297h1M295 302h1M296 303h1M298 292h1M298 296h1M299 296h1M300 291h1M300 292h1M301 296h1M301 305h1M302 279h1M303 285h1M303 286h1M303 294h1M303 298h1M303 300h1M304 276h1M304 282h1M304 295h1M305 288h1M305 293h1M305 300h1M310 307h1M311 294h1M312 287h1M313 284h1" stroke="#3a3a3a" stroke-width="1" fill="none"/>
<ellipse cx="306" cy="295" rx="4" ry="5" fill="#000"/>
<path d="M284 295h1M285 281h1M285 290h1M285 311h1M286 306h1M286 308h1M287 280h1M287 301h1M288 292h1M288 293h1M288 301h1M289 275h1M289 283h1M289 290h1M289 292h1M289 298h1M289 310h1M290 292h1M290 294h1M290 296h1M290 298h1M290 303h1M291 283h1M291 288h1M291 291h1M291 294h1M291 297h1M291 298h1M291 299h1M292 277h1M292 278h1M292 279h1M292 281h1M292 283h1M292 288h1M292 289h1M292 298h1M292 299h1M292 302h1M292 306h1M293 276h1M293 283h1M293 286h1M293 288h1M293 292h1M293 299h1M293 300h1M293 301h1M293 306h1M294 283h1M294 285h1M294 286h1M294 289h1M294 290h1M294 291h1M294 293h1M294 294h1M294 296h1M294 301h1M294 304h1M294 311h1M294 313h1M295 277h1M295 283h1M295 284h1M295 287h1M295 289h1M295 292h1M295 294h1M295 296h1M295 297h1M295 298h1M295 299h1M295 307h1M295 309h1M296 277h1M296 280h1M296 283h1M296 286h1M296 290h1M296 291h1M296 294h1M296 295h1M296 297h1M296 302h1M296 304h1M296 307h1M296 308h1M296 311h1M297 275h1M297 277h1M297 278h1M297 280h1M297 281h1M297 282h1M297 283h1M297 288h1M297 290h1M297 292h1M297 293h1M297 295h1M297 296h1M297 301h1M297 306h1M297 307h1M297 308h1M297 310h1M297 311h1M298 268h1M298 276h1M298 277h1M298 279h1M298 281h1M298 283h1M298 286h1M298 287h1M298 289h1M298 290h1M298 291h1M298 294h1M298 299h1M298 301h1M298 302h1M298 303h1M298 305h1M298 309h1M298 310h1M298 313h1M299 275h1M299 280h1M299 281h1M299 283h1M299 284h1M299 285h1M299 286h1M299 287h1M299 288h1M299 289h1M299 290h1M299 293h1M299 294h1M299 297h1M299 298h1M299 299h1M299 301h1M299 303h1M299 305h1M299 306h1M299 308h1M300 275h1M300 278h1M300 280h1M300 282h1M300 284h1M300 287h1M300 288h1M300 289h1M300 290h1M300 291h1M300 292h1M300 293h1M300 294h1M300 295h1M300 296h1M300 297h1M300 298h1M300 299h1M300 300h1M300 304h1M300 307h1M301 269h1M301 276h1M301 277h1M301 280h1M301 283h1M301 284h1M301 286h1M301 288h1M301 289h1M301 290h1M301 291h1M301 292h1M301 293h1M301 295h1M301 297h1M301 298h1M301 299h1M301 300h1M301 301h1M301 302h1M301 303h1M301 304h1M301 310h1M302 277h1M302 278h1M302 279h1M302 280h1M302 281h1M302 283h1M302 285h1M302 286h1M302 288h1M302 290h1M302 293h1M302 294h1M302 295h1M302 296h1M302 297h1M302 299h1M302 300h1M302 301h1M302 302h1M302 305h1M302 306h1M303 270h1M303 272h1M303 274h1M303 277h1M303 280h1M303 282h1M303 283h1M303 284h1M303 285h1M303 286h1M303 287h1M303 289h1M303 290h1M303 291h1M303 292h1M303 294h1M303 295h1M303 296h1M303 297h1M303 298h1M303 299h1M303 302h1M303 306h1M303 308h1M304 280h1M304 281h1M304 284h1M304 285h1M304 286h1M304 288h1M304 289h1M304 290h1M304 291h1M304 292h1M304 294h1M304 295h1M304 296h1M304 298h1M304 300h1M304 301h1M304 302h1M304 305h1M304 310h1M304 311h1M305 267h1M305 281h1M305 282h1M305 285h1M305 286h1M305 288h1M305 290h1M305 291h1M305 292h1M305 293h1M305 295h1M305 296h1M305 297h1M305 298h1M305 299h1M305 300h1M305 301h1M305 302h1M305 303h1M305 304h1M305 306h1M305 310h1M306 274h1M306 282h1M306 283h1M306 285h1M306 287h1M306 289h1M306 290h1M306 291h1M306 293h1M306 294h1M306 295h1M306 296h1M306 297h1M306 299h1M306 300h1M306 302h1M306 303h1M306 304h1M306 305h1M306 321h1M307 272h1M307 274h1M307 278h1M307 280h1M307 284h1M307 286h1M307 287h1M307 288h1M307 289h1M307 291h1M307 292h1M307 293h1M307 294h1M307 295h1M307 297h1M307 298h1M307 299h1M307 300h1M307 301h1M307 302h1M307 303h1M307 304h1M307 307h1M307 312h1M308 272h1M308 276h1M308 278h1M308 281h1M308 282h1M308 283h1M308 284h1M308 285h1M308 287h1M308 288h1M308 289h1M308 290h1M308 291h1M308 292h1M308 293h1M308 294h1M308 295h1M308 296h1M308 298h1M308 301h1M308 303h1M308 313h1M309 271h1M309 276h1M309 281h1M309 282h1M309 285h1M309 286h1M309 287h1M309 288h1M309 289h1M309 290h1M309 291h1M309 292h1M309 293h1M309 294h1M309 295h1M309 297h1M309 298h1M309 299h1M309 301h1M309 302h1M309 304h1M309 305h1M309 317h1M309 324h1M310 272h1M310 279h1M310 283h1M310 285h1M310 288h1M310 289h1M310 290h1M310 291h1M310 292h1M310 293h1M310 294h1M310 295h1M310 297h1M310 299h1M310 300h1M310 302h1M310 303h1M310 306h1M310 309h1M311 275h1M311 281h1M311 284h1M311 286h1M311 287h1M311 288h1M311 289h1M311 290h1M311 291h1M311 293h1M311 294h1M311 295h1M311 296h1M311 297h1M311 298h1M311 299h1M311 300h1M311 301h1M311 302h1M311 303h1M311 312h1M312 278h1M312 281h1M312 283h1M312 284h1M312 285h1M312 287h1M312 290h1M312 292h1M312 294h1M312 295h1M312 298h1M312 299h1M312 301h1M312 302h1M312 303h1M312 304h1M312 305h1M313 276h1M313 280h1M313 282h1M313 284h1M313 286h1M313 287h1M313 288h1M313 291h1M313 292h1M313 293h1M313 294h1M313 295h1M313 296h1M313 298h1M313 300h1M313 301h1M313 302h1M313 303h1M313 311h1M314 282h1M314 286h1M314 292h1M314 293h1M314 294h1M314 295h1M314 298h1M314 301h1M314 305h1M314 309h1M315 278h1M315 285h1M315 287h1M315 288h1M315 289h1M315 291h1M315 293h1M315 299h1M315 305h1M315 310h1M315 311h1M316 280h1M316 281h1M316 286h1M316 290h1M316 294h1M316 296h1M316 299h1M316 300h1M316 302h1M316 303h1M316 304h1M317 277h1M317 279h1M317 280h1M317 281h1M317 291h1M317 293h1M317 294h1M317 300h1M317 303h1" stroke="#000" stroke-width="1" fill="none"/>
<path d="M272 287h1M276 278h1M277 286h1M279 279h1M279 298h1M280 289h1M281 278h1M281 290h1M282 284h1M282 285h1M282 286h1M283 293h1M284 281h1M284 287h1M284 303h1M284 304h1M285 292h1M286 273h1M286 281h1M286 282h1M286 285h1M286 289h1M287 267h1M287 287h1M287 299h1M288 266h1M288 281h1M289 269h1M289 283h1M289 305h1M290 283h1M290 292h1M290 303h1M290 308h1M290 311h1M291 285h1M291 294h1M291 305h1M292 279h1M292 293h1M292 297h1M293 275h1M293 277h1M293 283h1M294 261h1M294 274h1M294 279h1M294 283h1M294 286h1M294 287h1M294 288h1M294 289h1M294 290h1M294 292h1M294 295h1M294 304h1M295 275h1M295 277h1M295 288h1M295 290h1M295 293h1M295 294h1M295 303h1M296 296h1M296 308h1M296 309h1M297 284h1M297 292h1M297 295h1M297 296h1M297 301h1M298 278h1M298 281h1M298 282h1M298 285h1M298 292h1M299 270h1M299 290h1M299 304h1M300 277h1M300 281h1M300 284h1M300 294h1M300 296h1M301 282h1M301 284h1M301 286h1M302 289h1M302 290h1M302 294h1M303 277h1M303 284h1M303 285h1M304 276h1M304 284h1M304 305h1M305 279h1M305 282h1M305 283h1M305 284h1M305 300h1M306 297h1M307 280h1M307 284h1M307 285h1M307 287h1M307 292h1M307 295h1M307 299h1M307 307h1M308 280h1M308 288h1M309 282h1M309 295h1M311 301h1M312 283h1M312 291h1M312 294h1M313 295h1M313 301h1M313 311h1M314 287h1M314 289h1M314 290h1M314 296h1M315 279h1M315 295h1M317 269h1M317 275h1" stroke="#222" stroke-width="1" fill="none"/>
<path d="M348 329h1M349 302h1M349 305h1M352 289h1M353 327h1M355 333h1M356 327h1M356 338h1M357 314h1M357 315h1M357 327h1M358 321h1M359 323h1M359 327h1M359 337h1M360 311h1M360 317h1M360 319h1M361 300h1M361 328h1M361 329h1M361 336h1M361 339h1M362 305h1M362 318h1M362 320h1M362 326h1M362 330h1M363 312h1M363 314h1M363 330h1M363 333h1M363 335h1M364 307h1M364 311h1M364 312h1M364 318h1M364 324h1M364 325h1M364 326h1M364 332h1M364 336h1M364 338h1M365 296h1M365 301h1M365 302h1M365 306h1M365 312h1M365 314h1M365 316h1M365 318h1M365 322h1M365 328h1M365 330h1M365 334h1M365 336h1M366 310h1M366 316h1M366 321h1M366 323h1M366 324h1M366 327h1M366 330h1M366 332h1M366 338h1M367 298h1M367 303h1M367 309h1M367 312h1M367 318h1M367 319h1M367 321h1M367 322h1M367 323h1M367 324h1M367 331h1M367 335h1M367 336h1M368 302h1M368 311h1M368 314h1M368 315h1M368 319h1M368 322h1M368 328h1M368 330h1M368 331h1M368 332h1M368 336h1M368 338h1M368 339h1M369 301h1M369 309h1M369 312h1M369 314h1M369 316h1M369 318h1M369 324h1M369 325h1M369 330h1M369 332h1M370 292h1M370 295h1M370 305h1M370 310h1M370 311h1M370 313h1M370 314h1M370 316h1M370 319h1M370 320h1M370 326h1M370 329h1M370 331h1M370 334h1M371 299h1M371 305h1M371 308h1M371 311h1M371 320h1M371 321h1M371 322h1M371 323h1M371 328h1M371 329h1M371 336h1M371 338h1M372 293h1M372 303h1M372 305h1M372 309h1M372 312h1M372 318h1M372 320h1M372 326h1M372 328h1M372 329h1M372 330h1M372 332h1M372 334h1M372 336h1M372 337h1M372 338h1M373 312h1M373 315h1M373 319h1M373 329h1M373 334h1M373 336h1M373 338h1M374 283h1M374 300h1M374 308h1M374 309h1M374 315h1M374 319h1M374 323h1M374 324h1M374 328h1M374 330h1M374 333h1M375 323h1M375 329h1M375 331h1M376 306h1M376 309h1M376 319h1M376 324h1M376 329h1M376 333h1M376 334h1M376 336h1M377 300h1M377 312h1M377 319h1M377 324h1M377 326h1M377 330h1M377 339h1M378 312h1M378 313h1M378 321h1M378 322h1M378 324h1M378 334h1M379 296h1M379 309h1M379 324h1M379 325h1M379 328h1M379 329h1M379 338h1M380 312h1M380 320h1M380 326h1M380 327h1M380 331h1M380 333h1M380 336h1M381 305h1M381 315h1M381 330h1M382 308h1M382 312h1M382 317h1M382 318h1M382 334h1M382 335h1M382 336h1M383 314h1M383 319h1M383 322h1M384 295h1M385 302h1M385 320h1M386 321h1M386 323h1M386 324h1M386 327h1M386 329h1M386 336h1M386 338h1M387 309h1M387 318h1M387 325h1M387 335h1M387 337h1M387 338h1M388 296h1M388 330h1M388 333h1M389 300h1M389 302h1M389 306h1M389 309h1M389 311h1M389 322h1M389 330h1M389 334h1M390 295h1M390 299h1M390 314h1M390 315h1M390 317h1M390 323h1M390 326h1M390 329h1M390 336h1M391 283h1M391 310h1M391 314h1M391 317h1M391 320h1M391 324h1M391 327h1M392 303h1M392 304h1M392 310h1M392 320h1M392 322h1M392 326h1M392 335h1M392 336h1M393 294h1M393 304h1M393 312h1M393 319h1M393 325h1M393 326h1M393 331h1M393 333h1M393 334h1M393 335h1M394 304h1M394 310h1M394 316h1M394 317h1M394 320h1M394 322h1M394 326h1M394 327h1M394 328h1M394 329h1M394 335h1M394 337h1M394 338h1M395 305h1M395 310h1M395 313h1M395 314h1M395 318h1M395 326h1M395 329h1M395 331h1M395 332h1M396 310h1M396 314h1M396 319h1M396 331h1M396 332h1M396 334h1M397 298h1M397 302h1M397 307h1M397 308h1M397 310h1M397 313h1M397 316h1M397 321h1M397 322h1M397 323h1M397 326h1M397 327h1M397 333h1M397 334h1M397 337h1M398 297h1M398 305h1M398 306h1M398 311h1M398 312h1M398 315h1M398 316h1M398 318h1M398 319h1M398 321h1M398 323h1M398 324h1M398 325h1M398 327h1M398 329h1M398 331h1M398 332h1M398 339h1M399 302h1M399 306h1M399 308h1M399 310h1M399 311h1M399 317h1M399 319h1M399 322h1M399 324h1M399 325h1M399 328h1M399 329h1M399 330h1M399 334h1M400 291h1M400 306h1M400 313h1M400 314h1M400 315h1M400 317h1M400 318h1M400 320h1M400 321h1M400 322h1M400 325h1M400 326h1M400 327h1M400 329h1M400 337h1M401 308h1M401 309h1M401 317h1M401 318h1M401 319h1M401 321h1M401 322h1M401 323h1M401 324h1M401 325h1M401 327h1M401 331h1M401 334h1M401 336h1M401 338h1M402 299h1M402 313h1M402 315h1M402 321h1M402 322h1M402 324h1M402 329h1M402 331h1M402 332h1M402 333h1M402 337h1M403 294h1M403 298h1M403 302h1M403 306h1M403 307h1M403 309h1M403 310h1M403 312h1M403 316h1M403 320h1M403 322h1M403 323h1M403 325h1M403 330h1M403 331h1M403 332h1M403 335h1M403 339h1M404 298h1M404 301h1M404 307h1M404 309h1M404 310h1M404 311h1M404 314h1M404 317h1M404 320h1M404 321h1M404 324h1M404 325h1M404 328h1M404 330h1M404 338h1M405 291h1M405 295h1M405 304h1M405 308h1M405 310h1M405 311h1M405 312h1M405 313h1M405 314h1M405 316h1M405 318h1M405 319h1M405 320h1M405 321h1M405 322h1M405 326h1M405 328h1M405 329h1M405 335h1M405 338h1M405 339h1M406 283h1M406 289h1M406 295h1M406 298h1M406 302h1M406 303h1M406 306h1M406 310h1M406 311h1M406 314h1M406 317h1M406 319h1M406 320h1M406 322h1M406 323h1M406 325h1M406 328h1M406 329h1M406 331h1M406 332h1M406 334h1M406 335h1M407 304h1M407 305h1M407 306h1M407 307h1M407 309h1M407 310h1M407 314h1M407 315h1M407 317h1M407 323h1M407 324h1M407 325h1M407 327h1M407 328h1M407 331h1M407 332h1M407 333h1M407 335h1M407 336h1M407 337h1M408 300h1M408 304h1M408 309h1M408 313h1M408 314h1M408 315h1M408 316h1M408 317h1M408 320h1M408 321h1M408 322h1M408 324h1M408 327h1M408 328h1M408 329h1M408 330h1M408 331h1M408 333h1M408 334h1M408 335h1M408 338h1M409 302h1M409 304h1M409 305h1M409 310h1M409 313h1M409 315h1M409 318h1M409 320h1M409 322h1M409 323h1M409 327h1M409 328h1M409 330h1M409 331h1M409 336h1M409 337h1M409 338h1M410 288h1M410 290h1M410 297h1M410 299h1M410 300h1M410 302h1M410 303h1M410 306h1M410 310h1M410 312h1M410 313h1M410 317h1M410 318h1M410 321h1M410 322h1M410 324h1M410 327h1M410 329h1M410 330h1M410 333h1M410 335h1M410 337h1M410 338h1M410 339h1M411 287h1M411 298h1M411 299h1M411 306h1M411 308h1M411 310h1M411 312h1M411 313h1M411 315h1M411 316h1M411 318h1M411 319h1M411 321h1M411 322h1M411 324h1M411 328h1M411 331h1M411 335h1M411 337h1M412 300h1M412 304h1M412 310h1M412 311h1M412 314h1M412 315h1M412 318h1M412 321h1M412 322h1M412 323h1M412 324h1M412 325h1M412 327h1M412 328h1M412 329h1M412 332h1M412 336h1M413 293h1M413 304h1M413 306h1M413 308h1M413 311h1M413 317h1M413 319h1M413 322h1M413 324h1M413 325h1M413 326h1M413 327h1M413 329h1M413 330h1M413 335h1M413 337h1M413 338h1M413 339h1M414 308h1M414 312h1M414 316h1M414 317h1M414 318h1M414 320h1M414 321h1M414 322h1M414 325h1M414 326h1M414 330h1M414 331h1M414 334h1M414 335h1M415 277h1M415 301h1M415 307h1M415 310h1M415 314h1M415 315h1M415 316h1M415 318h1M415 319h1M415 320h1M415 322h1M415 323h1M415 325h1M415 326h1M415 328h1M415 329h1M415 330h1M415 331h1M415 334h1M416 277h1M416 284h1M416 293h1M416 300h1M416 301h1M416 305h1M416 307h1M416 313h1M416 318h1M416 322h1M416 323h1M416 324h1M416 326h1M416 328h1M416 331h1M416 333h1M416 336h1M416 338h1M416 339h1M417 293h1M417 294h1M417 301h1M417 309h1M417 310h1M417 315h1M417 316h1M417 317h1M417 318h1M417 319h1M417 320h1M417 321h1M417 322h1M417 323h1M417 325h1M417 326h1M417 327h1M417 329h1M417 330h1M417 331h1M417 334h1M417 336h1M417 337h1M418 290h1M418 294h1M418 306h1M418 313h1M418 314h1M418 316h1M418 318h1M418 323h1M418 324h1M418 326h1M418 328h1M418 329h1M418 330h1M418 331h1M418 335h1M418 338h1M419 288h1M419 305h1M419 310h1M419 312h1M419 313h1M419 320h1M419 325h1M419 326h1M419 328h1M419 329h1M419 330h1M419 334h1M419 339h1M420 297h1M420 299h1M420 306h1M420 307h1M420 311h1M420 314h1M420 317h1M420 319h1M420 321h1M420 323h1M420 324h1M420 326h1M420 329h1M420 333h1M420 334h1M420 335h1M420 337h1M420 339h1M421 298h1M421 308h1M421 310h1M421 313h1M421 314h1M421 321h1M421 322h1M421 323h1M421 326h1M421 334h1M421 338h1M422 291h1M422 297h1M422 300h1M422 303h1M422 304h1M422 309h1M422 316h1M422 320h1M422 322h1M422 327h1M422 330h1M422 335h1M422 336h1M422 339h1M423 284h1M423 289h1M423 309h1M423 314h1M423 315h1M423 319h1M423 323h1M423 324h1M423 327h1M423 328h1M424 285h1M424 305h1M424 310h1M424 312h1M424 317h1M424 320h1M424 323h1M424 324h1M424 328h1M424 330h1M424 333h1M425 298h1M425 303h1M425 308h1M425 309h1M425 311h1M425 313h1M425 320h1M425 322h1M425 325h1M425 337h1M426 300h1M426 303h1M426 306h1M426 315h1M426 316h1M426 317h1M426 318h1M426 323h1M426 329h1M427 304h1M427 315h1M427 317h1M427 324h1M427 330h1M427 336h1M427 337h1M428 301h1M428 302h1M428 305h1M428 307h1M428 316h1M428 318h1M428 325h1M428 331h1M428 332h1M429 308h1M429 315h1M429 317h1M429 319h1M429 321h1M429 327h1M429 335h1M429 338h1M430 302h1M430 308h1M430 320h1M430 325h1M430 328h1M430 332h1M430 334h1M431 304h1M431 315h1M431 326h1M431 336h1M432 317h1M432 320h1M432 322h1M432 323h1M432 327h1M432 336h1M433 305h1M433 320h1M433 323h1M433 326h1M434 310h1M434 322h1M434 323h1M435 314h1M435 317h1M436 312h1M436 337h1M437 332h1M438 308h1M438 316h1M438 322h1M438 327h1M438 334h1M439 312h1M439 315h1M440 310h1M440 331h1M443 316h1" stroke="#bcbcbc" stroke-width="1" fill="none"/>
<path d="M386 322h1M390 322h1M392 316h1M396 304h1M397 314h1M397 318h1M397 335h1M398 321h1M399 315h1M399 322h1M400 311h1M400 315h1M400 316h1M400 321h1M400 331h1M401 301h1M401 326h1M401 329h1M402 324h1M402 333h1M402 336h1M402 338h1M403 307h1M403 312h1M403 317h1M403 321h1M403 324h1M403 325h1M403 328h1M403 331h1M404 316h1M404 318h1M404 322h1M404 325h1M404 327h1M404 328h1M404 329h1M404 337h1M405 303h1M405 304h1M405 317h1M405 321h1M405 322h1M405 323h1M405 331h1M406 309h1M406 310h1M406 311h1M406 314h1M406 316h1M406 319h1M406 320h1M406 321h1M406 322h1M406 325h1M406 327h1M406 328h1M406 332h1M406 333h1M407 313h1M407 318h1M407 319h1M407 322h1M407 323h1M407 324h1M407 326h1M407 327h1M407 333h1M408 305h1M408 312h1M408 315h1M408 316h1M408 318h1M408 319h1M408 321h1M408 323h1M408 326h1M408 328h1M408 335h1M408 336h1M409 301h1M409 308h1M409 309h1M409 310h1M409 318h1M409 319h1M409 321h1M409 328h1M409 329h1M409 331h1M409 335h1M410 291h1M410 303h1M410 305h1M410 311h1M410 312h1M410 313h1M410 315h1M410 317h1M410 319h1M410 320h1M410 323h1M410 324h1M410 326h1M410 328h1M410 329h1M410 338h1M411 303h1M411 307h1M411 310h1M411 311h1M411 317h1M411 318h1M411 321h1M411 322h1M411 324h1M411 327h1M411 329h1M411 331h1M411 332h1M412 308h1M412 309h1M412 311h1M412 315h1M412 316h1M412 317h1M412 320h1M412 321h1M412 324h1M412 325h1M412 326h1M412 327h1M412 331h1M412 332h1M412 333h1M412 334h1M413 310h1M413 311h1M413 312h1M413 313h1M413 316h1M413 320h1M413 323h1M413 324h1M413 327h1M413 329h1M413 336h1M414 311h1M414 322h1M414 323h1M414 325h1M414 327h1M414 331h1M414 335h1M414 338h1M415 311h1M415 312h1M415 314h1M415 316h1M415 321h1M415 322h1M415 324h1M415 327h1M415 328h1M415 329h1M415 337h1M416 305h1M416 307h1M416 312h1M416 315h1M416 320h1M416 323h1M416 326h1M416 331h1M417 306h1M417 312h1M417 314h1M417 315h1M417 318h1M417 320h1M417 322h1M417 324h1M417 326h1M417 327h1M417 335h1M417 337h1M418 319h1M418 323h1M418 324h1M418 329h1M418 336h1M419 313h1M419 317h1M419 318h1M419 319h1M419 321h1M419 323h1M419 324h1M419 325h1M419 326h1M419 328h1M419 329h1M419 335h1M420 305h1M420 309h1M420 318h1M420 321h1M420 330h1M420 332h1M420 336h1M421 298h1M421 318h1M421 326h1M421 335h1M422 317h1M422 318h1M422 321h1M422 322h1M422 332h1M423 316h1M423 321h1M424 311h1M424 319h1M425 302h1M425 311h1M425 327h1M426 333h1M432 314h1" stroke="#a4a4a4" stroke-width="1" fill="none"/>
<path d="M381.6 304h1.8M383.6 294h1.8M384.6 298h1.8M385.6 294h1.8M385.6 298h1.8M387.6 298h1.8M389.6 299h1.8M389.6 300h1.8M389.6 303h1.8M390.6 298h1.8M391.6 301h1.8M391.6 302h1.8M391.6 305h1.8M392.6 299h1.8M392.6 301h1.8M393.6 300h1.8M394.6 293h1.8M395.6 285h1.8M395.6 294h1.8M395.6 296h1.8M395.6 299h1.8M396.6 296h1.8M397.6 293h1.8M397.6 296h1.8M397.6 300h1.8M398.6 297h1.8M398.6 303h1.8M399.6 293h1.8M399.6 295h1.8M399.6 300h1.8M400.6 299h1.8M400.6 300h1.8M401.6 297h1.8M401.6 302h1.8M402.6 285h1.8M402.6 288h1.8M402.6 296h1.8M402.6 299h1.8M402.6 304h1.8M403.6 282h1.8M403.6 290h1.8M403.6 292h1.8M403.6 296h1.8M403.6 299h1.8M404.6 280h1.8M404.6 285h1.8M404.6 286h1.8M404.6 290h1.8M404.6 293h1.8M404.6 295h1.8M404.6 298h1.8M404.6 301h1.8M404.6 303h1.8M405.6 288h1.8M405.6 290h1.8M405.6 300h1.8M406.6 286h1.8M406.6 291h1.8M406.6 294h1.8M406.6 302h1.8M407.6 289h1.8M407.6 292h1.8M407.6 293h1.8M407.6 306h1.8M408.6 278h1.8M408.6 287h1.8M408.6 288h1.8M408.6 289h1.8M408.6 291h1.8M408.6 294h1.8M408.6 295h1.8M408.6 296h1.8M408.6 301h1.8M409.6 290h1.8M409.6 303h1.8M410.6 285h1.8M410.6 289h1.8M410.6 292h1.8M410.6 295h1.8M410.6 297h1.8M410.6 305h1.8M411.6 288h1.8M411.6 294h1.8M411.6 295h1.8M411.6 298h1.8M411.6 300h1.8M411.6 303h1.8M411.6 304h1.8M412.6 290h1.8M412.6 292h1.8M412.6 293h1.8M412.6 295h1.8M412.6 299h1.8M413.6 285h1.8M413.6 290h1.8M413.6 294h1.8M413.6 295h1.8M413.6 298h1.8M413.6 302h1.8M414.6 285h1.8M414.6 287h1.8M414.6 292h1.8M414.6 294h1.8M414.6 296h1.8M414.6 299h1.8M414.6 300h1.8M415.6 281h1.8M415.6 282h1.8M415.6 285h1.8M415.6 287h1.8M415.6 288h1.8M415.6 289h1.8M415.6 291h1.8M415.6 294h1.8M415.6 295h1.8M416.6 277h1.8M417.6 282h1.8M417.6 294h1.8M417.6 296h1.8M417.6 299h1.8M418.6 280h1.8M418.6 287h1.8M418.6 289h1.8M418.6 291h1.8M418.6 294h1.8M419.6 285h1.8M419.6 290h1.8M419.6 299h1.8M419.6 301h1.8M419.6 303h1.8M420.6 291h1.8M420.6 293h1.8M420.6 294h1.8M420.6 298h1.8M420.6 299h1.8M421.6 293h1.8M422.6 297h1.8M423.6 296h1.8M423.6 299h1.8M425.6 283h1.8" stroke="#000" stroke-width="1.8" fill="none" shape-rendering="auto"/>
</g></g>
<path d="M112.4 32.5V126.4H205" stroke="#222" stroke-width="1.3" fill="none"/>
<path d="M109.9 126.4h2.5M111.0 119.33h1.4M111.0 115.2h1.4M111.0 112.27h1.4M111.0 109.99h1.4M111.0 108.13h1.4M111.0 106.56h1.4M111.0 105.2h1.4M111.0 104h1.4M109.9 102.93h2.5M111.0 95.86h1.4M111.0 91.72h1.4M111.0 88.79h1.4M111.0 86.52h1.4M111.0 84.66h1.4M111.0 83.09h1.4M111.0 81.72h1.4M111.0 80.52h1.4M109.9 79.45h2.5M111.0 72.38h1.4M111.0 68.25h1.4M111.0 65.32h1.4M111.0 63.04h1.4M111.0 61.18h1.4M111.0 59.61h1.4M111.0 58.25h1.4M111.0 57.05h1.4M109.9 55.97h2.5M111.0 48.91h1.4M111.0 44.77h1.4M111.0 41.84h1.4M111.0 39.57h1.4M111.0 37.71h1.4M111.0 36.14h1.4M111.0 34.77h1.4M111.0 33.57h1.4M109.9 32.5h2.5M112.4 126.4v2.5M119.37 126.4v1.4M123.45 126.4v1.4M126.34 126.4v1.4M128.58 126.4v1.4M130.41 126.4v1.4M131.96 126.4v1.4M133.31 126.4v1.4M134.49 126.4v1.4M135.55 126.4v2.5M142.52 126.4v1.4M146.6 126.4v1.4M149.49 126.4v1.4M151.73 126.4v1.4M153.56 126.4v1.4M155.11 126.4v1.4M156.46 126.4v1.4M157.64 126.4v1.4M158.7 126.4v2.5M165.67 126.4v1.4M169.75 126.4v1.4M172.64 126.4v1.4M174.88 126.4v1.4M176.71 126.4v1.4M178.26 126.4v1.4M179.61 126.4v1.4M180.79 126.4v1.4M181.85 126.4v2.5M188.82 126.4v1.4M192.9 126.4v1.4M195.79 126.4v1.4M198.03 126.4v1.4M199.86 126.4v1.4M201.41 126.4v1.4M202.76 126.4v1.4M203.94 126.4v1.4M205 126.4v2.5" stroke="#444" stroke-width="0.7" fill="none"/>
<text x="115.2" y="137.4" font-family='"Liberation Sans", sans-serif' font-size="6.4" fill="#a8a8a8" stroke="#a8a8a8" stroke-width="0.15" textLength="85.8" lengthAdjust="spacing">CD3 PerCP/Cy5.5 FL3-H</text>
<text transform="translate(107.6 123) rotate(-90)" x="0" y="0" font-family='"Liberation Sans", sans-serif' font-size="6.4" fill="#222" stroke="#222" stroke-width="0.15" textLength="75" lengthAdjust="spacing">SSC-H Exp-SSC Low</text>
<path d="M226 32.8H316" stroke="#e2e2e2" stroke-width="1" stroke-dasharray="2 1"/>
<path d="M224.1 33V124H316" stroke="#222" stroke-width="1.3" fill="none"/>
<path d="M221.6 124h2.5M222.7 117.15h1.4M222.7 113.15h1.4M222.7 110.3h1.4M222.7 108.1h1.4M222.7 106.3h1.4M222.7 104.77h1.4M222.7 103.45h1.4M222.7 102.29h1.4M221.6 101.25h2.5M222.7 94.4h1.4M222.7 90.4h1.4M222.7 87.55h1.4M222.7 85.35h1.4M222.7 83.55h1.4M222.7 82.02h1.4M222.7 80.7h1.4M222.7 79.54h1.4M221.6 78.5h2.5M222.7 71.65h1.4M222.7 67.65h1.4M222.7 64.8h1.4M222.7 62.6h1.4M222.7 60.8h1.4M222.7 59.27h1.4M222.7 57.95h1.4M222.7 56.79h1.4M221.6 55.75h2.5M222.7 48.9h1.4M222.7 44.9h1.4M222.7 42.05h1.4M222.7 39.85h1.4M222.7 38.05h1.4M222.7 36.52h1.4M222.7 35.2h1.4M222.7 34.04h1.4M221.6 33h2.5M224.1 124v2.5M231.02 124v1.4M235.06 124v1.4M237.93 124v1.4M240.16 124v1.4M241.98 124v1.4M243.52 124v1.4M244.85 124v1.4M246.02 124v1.4M247.07 124v2.5M253.99 124v1.4M258.04 124v1.4M260.91 124v1.4M263.13 124v1.4M264.95 124v1.4M266.49 124v1.4M267.82 124v1.4M269 124v1.4M270.05 124v2.5M276.97 124v1.4M281.01 124v1.4M283.88 124v1.4M286.11 124v1.4M287.93 124v1.4M289.47 124v1.4M290.8 124v1.4M291.97 124v1.4M293.02 124v2.5M299.94 124v1.4M303.99 124v1.4M306.86 124v1.4M309.08 124v1.4M310.9 124v1.4M312.44 124v1.4M313.77 124v1.4M314.95 124v1.4M316 124v2.5" stroke="#444" stroke-width="0.7" fill="none"/>
<text x="228" y="136.6" font-family='"Liberation Sans", sans-serif' font-size="6.4" fill="#a8a8a8" stroke="#a8a8a8" stroke-width="0.15" textLength="91.4" lengthAdjust="spacing">CD3 PerCP/Cy5.5 FL3-H L</text>
<text transform="translate(220.6 121.2) rotate(-90)" x="0" y="0" font-family='"Liberation Sans", sans-serif' font-size="6.4" fill="#222" stroke="#222" stroke-width="0.15" textLength="88.5" lengthAdjust="spacing">SSC-Height:SSC-H Exp</text>
<path d="M344.2 30.7V120.5H434.5" stroke="#222" stroke-width="1.3" fill="none"/>
<path d="M341.7 120.5h2.5M342.8 113.74h1.4M342.8 109.79h1.4M342.8 106.98h1.4M342.8 104.81h1.4M342.8 103.03h1.4M342.8 101.53h1.4M342.8 100.23h1.4M342.8 99.08h1.4M341.7 98.05h2.5M342.8 91.29h1.4M342.8 87.34h1.4M342.8 84.53h1.4M342.8 82.36h1.4M342.8 80.58h1.4M342.8 79.08h1.4M342.8 77.78h1.4M342.8 76.63h1.4M341.7 75.6h2.5M342.8 68.84h1.4M342.8 64.89h1.4M342.8 62.08h1.4M342.8 59.91h1.4M342.8 58.13h1.4M342.8 56.63h1.4M342.8 55.33h1.4M342.8 54.18h1.4M341.7 53.15h2.5M342.8 46.39h1.4M342.8 42.44h1.4M342.8 39.63h1.4M342.8 37.46h1.4M342.8 35.68h1.4M342.8 34.18h1.4M342.8 32.88h1.4M342.8 31.73h1.4M341.7 30.7h2.5M344.2 120.5v2.5M351 120.5v1.4M354.97 120.5v1.4M357.79 120.5v1.4M359.98 120.5v1.4M361.77 120.5v1.4M363.28 120.5v1.4M364.59 120.5v1.4M365.74 120.5v1.4M366.77 120.5v2.5M373.57 120.5v1.4M377.55 120.5v1.4M380.37 120.5v1.4M382.55 120.5v1.4M384.34 120.5v1.4M385.85 120.5v1.4M387.16 120.5v1.4M388.32 120.5v1.4M389.35 120.5v2.5M396.15 120.5v1.4M400.12 120.5v1.4M402.94 120.5v1.4M405.13 120.5v1.4M406.92 120.5v1.4M408.43 120.5v1.4M409.74 120.5v1.4M410.89 120.5v1.4M411.93 120.5v2.5M418.72 120.5v1.4M422.7 120.5v1.4M425.52 120.5v1.4M427.7 120.5v1.4M429.49 120.5v1.4M431 120.5v1.4M432.31 120.5v1.4M433.47 120.5v1.4M434.5 120.5v2.5" stroke="#444" stroke-width="0.7" fill="none"/>
<text x="347.4" y="131.8" font-family='"Liberation Sans", sans-serif' font-size="6.4" fill="#a8a8a8" stroke="#a8a8a8" stroke-width="0.15" textLength="92" lengthAdjust="spacing">CD3 PerCP/Cy5.5 FL3-H L</text>
<text transform="translate(340.6 117.5) rotate(-90)" x="0" y="0" font-family='"Liberation Sans", sans-serif' font-size="6.4" fill="#222" stroke="#222" stroke-width="0.15" textLength="87" lengthAdjust="spacing">SSC-Height:SSC-H Exp</text>
<path d="M110.6 141V235.9H206.6" stroke="#222" stroke-width="1.3" fill="none"/>
<path d="M108.1 235.9h2.5M109.19999999999999 228.76h1.4M109.19999999999999 224.58h1.4M109.19999999999999 221.62h1.4M109.19999999999999 219.32h1.4M109.19999999999999 217.44h1.4M109.19999999999999 215.85h1.4M109.19999999999999 214.47h1.4M109.19999999999999 213.26h1.4M108.1 212.18h2.5M109.19999999999999 205.03h1.4M109.19999999999999 200.86h1.4M109.19999999999999 197.89h1.4M109.19999999999999 195.59h1.4M109.19999999999999 193.71h1.4M109.19999999999999 192.13h1.4M109.19999999999999 190.75h1.4M109.19999999999999 189.54h1.4M108.1 188.45h2.5M109.19999999999999 181.31h1.4M109.19999999999999 177.13h1.4M109.19999999999999 174.17h1.4M109.19999999999999 171.87h1.4M109.19999999999999 169.99h1.4M109.19999999999999 168.4h1.4M109.19999999999999 167.02h1.4M109.19999999999999 165.81h1.4M108.1 164.72h2.5M109.19999999999999 157.58h1.4M109.19999999999999 153.41h1.4M109.19999999999999 150.44h1.4M109.19999999999999 148.14h1.4M109.19999999999999 146.26h1.4M109.19999999999999 144.68h1.4M109.19999999999999 143.3h1.4M109.19999999999999 142.09h1.4M108.1 141h2.5M110.6 235.9v2.5M117.82 235.9v1.4M122.05 235.9v1.4M125.05 235.9v1.4M127.38 235.9v1.4M129.28 235.9v1.4M130.88 235.9v1.4M132.27 235.9v1.4M133.5 235.9v1.4M134.6 235.9v2.5M141.82 235.9v1.4M146.05 235.9v1.4M149.05 235.9v1.4M151.38 235.9v1.4M153.28 235.9v1.4M154.88 235.9v1.4M156.27 235.9v1.4M157.5 235.9v1.4M158.6 235.9v2.5M165.82 235.9v1.4M170.05 235.9v1.4M173.05 235.9v1.4M175.38 235.9v1.4M177.28 235.9v1.4M178.88 235.9v1.4M180.27 235.9v1.4M181.5 235.9v1.4M182.6 235.9v2.5M189.82 235.9v1.4M194.05 235.9v1.4M197.05 235.9v1.4M199.38 235.9v1.4M201.28 235.9v1.4M202.88 235.9v1.4M204.27 235.9v1.4M205.5 235.9v1.4M206.6 235.9v2.5" stroke="#444" stroke-width="0.7" fill="none"/>
<text x="113.4" y="246.6" font-family='"Liberation Sans", sans-serif' font-size="6.4" fill="#222" stroke="#222" stroke-width="0.15" textLength="93.8" lengthAdjust="spacing">CD25 FITC:FL1-H LOGAR</text>
<text transform="translate(105.9 233) rotate(-90)" x="0" y="0" font-family='"Liberation Sans", sans-serif' font-size="6.4" fill="#222" stroke="#222" stroke-width="0.15" textLength="92" lengthAdjust="spacing">IFNg PE:FL2-H LOGARIT</text>
<path d="M225.4 140.3V235.9H318.6" stroke="#222" stroke-width="1.3" fill="none"/>
<path d="M222.9 235.9h2.5M224.0 228.71h1.4M224.0 224.5h1.4M224.0 221.51h1.4M224.0 219.19h1.4M224.0 217.3h1.4M224.0 215.7h1.4M224.0 214.32h1.4M224.0 213.09h1.4M222.9 212h2.5M224.0 204.81h1.4M224.0 200.6h1.4M224.0 197.61h1.4M224.0 195.29h1.4M224.0 193.4h1.4M224.0 191.8h1.4M224.0 190.42h1.4M224.0 189.19h1.4M222.9 188.1h2.5M224.0 180.91h1.4M224.0 176.7h1.4M224.0 173.71h1.4M224.0 171.39h1.4M224.0 169.5h1.4M224.0 167.9h1.4M224.0 166.52h1.4M224.0 165.29h1.4M222.9 164.2h2.5M224.0 157.01h1.4M224.0 152.8h1.4M224.0 149.81h1.4M224.0 147.49h1.4M224.0 145.6h1.4M224.0 144h1.4M224.0 142.62h1.4M224.0 141.39h1.4M222.9 140.3h2.5M225.4 235.9v2.5M232.41 235.9v1.4M236.52 235.9v1.4M239.43 235.9v1.4M241.69 235.9v1.4M243.53 235.9v1.4M245.09 235.9v1.4M246.44 235.9v1.4M247.63 235.9v1.4M248.7 235.9v2.5M255.71 235.9v1.4M259.82 235.9v1.4M262.73 235.9v1.4M264.99 235.9v1.4M266.83 235.9v1.4M268.39 235.9v1.4M269.74 235.9v1.4M270.93 235.9v1.4M272 235.9v2.5M279.01 235.9v1.4M283.12 235.9v1.4M286.03 235.9v1.4M288.29 235.9v1.4M290.13 235.9v1.4M291.69 235.9v1.4M293.04 235.9v1.4M294.23 235.9v1.4M295.3 235.9v2.5M302.31 235.9v1.4M306.42 235.9v1.4M309.33 235.9v1.4M311.59 235.9v1.4M313.43 235.9v1.4M314.99 235.9v1.4M316.34 235.9v1.4M317.53 235.9v1.4M318.6 235.9v2.5" stroke="#444" stroke-width="0.7" fill="none"/>
<text x="228.9" y="246.8" font-family='"Liberation Sans", sans-serif' font-size="6.4" fill="#222" stroke="#222" stroke-width="0.15" textLength="93.7" lengthAdjust="spacing">CD25 FITC:FL1-H LOGAR</text>
<text transform="translate(221.8 233) rotate(-90)" x="0" y="0" font-family='"Liberation Sans", sans-serif' font-size="6.4" fill="#222" stroke="#222" stroke-width="0.15" textLength="92" lengthAdjust="spacing">IFNg PE:FL2-H LOGARIT</text>
<path d="M344.3 133.5V230.8H443.2" stroke="#222" stroke-width="1.3" fill="none"/>
<path d="M341.8 230.8h2.5M342.90000000000003 223.48h1.4M342.90000000000003 219.19h1.4M342.90000000000003 216.15h1.4M342.90000000000003 213.8h1.4M342.90000000000003 211.87h1.4M342.90000000000003 210.24h1.4M342.90000000000003 208.83h1.4M342.90000000000003 207.59h1.4M341.8 206.48h2.5M342.90000000000003 199.15h1.4M342.90000000000003 194.87h1.4M342.90000000000003 191.83h1.4M342.90000000000003 189.47h1.4M342.90000000000003 187.55h1.4M342.90000000000003 185.92h1.4M342.90000000000003 184.51h1.4M342.90000000000003 183.26h1.4M341.8 182.15h2.5M342.90000000000003 174.83h1.4M342.90000000000003 170.54h1.4M342.90000000000003 167.5h1.4M342.90000000000003 165.15h1.4M342.90000000000003 163.22h1.4M342.90000000000003 161.59h1.4M342.90000000000003 160.18h1.4M342.90000000000003 158.94h1.4M341.8 157.82h2.5M342.90000000000003 150.5h1.4M342.90000000000003 146.22h1.4M342.90000000000003 143.18h1.4M342.90000000000003 140.82h1.4M342.90000000000003 138.9h1.4M342.90000000000003 137.27h1.4M342.90000000000003 135.86h1.4M342.90000000000003 134.61h1.4M341.8 133.5h2.5M344.3 230.8v2.5M351.74 230.8v1.4M356.1 230.8v1.4M359.19 230.8v1.4M361.58 230.8v1.4M363.54 230.8v1.4M365.2 230.8v1.4M366.63 230.8v1.4M367.89 230.8v1.4M369.02 230.8v2.5M376.47 230.8v1.4M380.82 230.8v1.4M383.91 230.8v1.4M386.31 230.8v1.4M388.26 230.8v1.4M389.92 230.8v1.4M391.35 230.8v1.4M392.62 230.8v1.4M393.75 230.8v2.5M401.19 230.8v1.4M405.55 230.8v1.4M408.64 230.8v1.4M411.03 230.8v1.4M412.99 230.8v1.4M414.65 230.8v1.4M416.08 230.8v1.4M417.34 230.8v1.4M418.48 230.8v2.5M425.92 230.8v1.4M430.27 230.8v1.4M433.36 230.8v1.4M435.76 230.8v1.4M437.71 230.8v1.4M439.37 230.8v1.4M440.8 230.8v1.4M442.07 230.8v1.4M443.2 230.8v2.5" stroke="#444" stroke-width="0.7" fill="none"/>
<text x="348" y="240.7" font-family='"Liberation Sans", sans-serif' font-size="6.4" fill="#222" stroke="#222" stroke-width="0.15" textLength="95" lengthAdjust="spacing">CD25 FITC:FL1-H LOGAR</text>
<text transform="translate(340.8 227) rotate(-90)" x="0" y="0" font-family='"Liberation Sans", sans-serif' font-size="6.4" fill="#222" stroke="#222" stroke-width="0.15" textLength="93" lengthAdjust="spacing">INFg PE:FL2-H LOGARITT</text>
<path d="M110.4 247.3V342.6H207" stroke="#222" stroke-width="1.3" fill="none"/>
<path d="M107.9 342.6h2.5M109.0 335.43h1.4M109.0 331.23h1.4M109.0 328.26h1.4M109.0 325.95h1.4M109.0 324.06h1.4M109.0 322.47h1.4M109.0 321.08h1.4M109.0 319.87h1.4M107.9 318.78h2.5M109.0 311.6h1.4M109.0 307.41h1.4M109.0 304.43h1.4M109.0 302.12h1.4M109.0 300.24h1.4M109.0 298.64h1.4M109.0 297.26h1.4M109.0 296.04h1.4M107.9 294.95h2.5M109.0 287.78h1.4M109.0 283.58h1.4M109.0 280.61h1.4M109.0 278.3h1.4M109.0 276.41h1.4M109.0 274.82h1.4M109.0 273.43h1.4M109.0 272.22h1.4M107.9 271.12h2.5M109.0 263.95h1.4M109.0 259.76h1.4M109.0 256.78h1.4M109.0 254.47h1.4M109.0 252.59h1.4M109.0 250.99h1.4M109.0 249.61h1.4M109.0 248.39h1.4M107.9 247.3h2.5M110.4 342.6v2.5M117.67 342.6v1.4M121.92 342.6v1.4M124.94 342.6v1.4M127.28 342.6v1.4M129.19 342.6v1.4M130.81 342.6v1.4M132.21 342.6v1.4M133.44 342.6v1.4M134.55 342.6v2.5M141.82 342.6v1.4M146.07 342.6v1.4M149.09 342.6v1.4M151.43 342.6v1.4M153.34 342.6v1.4M154.96 342.6v1.4M156.36 342.6v1.4M157.59 342.6v1.4M158.7 342.6v2.5M165.97 342.6v1.4M170.22 342.6v1.4M173.24 342.6v1.4M175.58 342.6v1.4M177.49 342.6v1.4M179.11 342.6v1.4M180.51 342.6v1.4M181.74 342.6v1.4M182.85 342.6v2.5M190.12 342.6v1.4M194.37 342.6v1.4M197.39 342.6v1.4M199.73 342.6v1.4M201.64 342.6v1.4M203.26 342.6v1.4M204.66 342.6v1.4M205.89 342.6v1.4M207 342.6v2.5" stroke="#444" stroke-width="0.7" fill="none"/>
<text x="113.4" y="352.7" font-family='"Liberation Sans", sans-serif' font-size="6.4" fill="#222" stroke="#222" stroke-width="0.15" textLength="93.8" lengthAdjust="spacing">CD25 FITC:FL1-H LOGAR</text>
<text transform="translate(106 340) rotate(-90)" x="0" y="0" font-family='"Liberation Sans", sans-serif' font-size="6.4" fill="#bbb" stroke="#bbb" stroke-width="0.15" textLength="92" lengthAdjust="spacing">CD40L APC:FL4-H LOGAR</text>
<path d="M228 247.3V343.4H319.4" stroke="#222" stroke-width="1.3" fill="none"/>
<path d="M225.5 343.4h2.5M226.6 336.17h1.4M226.6 331.94h1.4M226.6 328.94h1.4M226.6 326.61h1.4M226.6 324.7h1.4M226.6 323.1h1.4M226.6 321.7h1.4M226.6 320.47h1.4M225.5 319.38h2.5M226.6 312.14h1.4M226.6 307.91h1.4M226.6 304.91h1.4M226.6 302.58h1.4M226.6 300.68h1.4M226.6 299.07h1.4M226.6 297.68h1.4M226.6 296.45h1.4M225.5 295.35h2.5M226.6 288.12h1.4M226.6 283.89h1.4M226.6 280.89h1.4M226.6 278.56h1.4M226.6 276.65h1.4M226.6 275.05h1.4M226.6 273.65h1.4M226.6 272.42h1.4M225.5 271.32h2.5M226.6 264.09h1.4M226.6 259.86h1.4M226.6 256.86h1.4M226.6 254.53h1.4M226.6 252.63h1.4M226.6 251.02h1.4M226.6 249.63h1.4M226.6 248.4h1.4M225.5 247.3h2.5M228 343.4v2.5M234.88 343.4v1.4M238.9 343.4v1.4M241.76 343.4v1.4M243.97 343.4v1.4M245.78 343.4v1.4M247.31 343.4v1.4M248.64 343.4v1.4M249.8 343.4v1.4M250.85 343.4v2.5M257.73 343.4v1.4M261.75 343.4v1.4M264.61 343.4v1.4M266.82 343.4v1.4M268.63 343.4v1.4M270.16 343.4v1.4M271.49 343.4v1.4M272.65 343.4v1.4M273.7 343.4v2.5M280.58 343.4v1.4M284.6 343.4v1.4M287.46 343.4v1.4M289.67 343.4v1.4M291.48 343.4v1.4M293.01 343.4v1.4M294.34 343.4v1.4M295.5 343.4v1.4M296.55 343.4v2.5M303.43 343.4v1.4M307.45 343.4v1.4M310.31 343.4v1.4M312.52 343.4v1.4M314.33 343.4v1.4M315.86 343.4v1.4M317.19 343.4v1.4M318.35 343.4v1.4M319.4 343.4v2.5" stroke="#444" stroke-width="0.7" fill="none"/>
<text x="231.5" y="353.3" font-family='"Liberation Sans", sans-serif' font-size="6.4" fill="#222" stroke="#222" stroke-width="0.15" textLength="93.5" lengthAdjust="spacing">CD25 FITC:FL1-H LOGAR</text>
<text transform="translate(224.5 340) rotate(-90)" x="0" y="0" font-family='"Liberation Sans", sans-serif' font-size="6.4" fill="#bbb" stroke="#bbb" stroke-width="0.15" textLength="92" lengthAdjust="spacing">CD40L APC:FL4-H LOGAR</text>
<path d="M346.5 247.3V345H444" stroke="#222" stroke-width="1.3" fill="none"/>
<path d="M344.0 345h2.5M345.1 337.65h1.4M345.1 333.35h1.4M345.1 330.29h1.4M345.1 327.93h1.4M345.1 325.99h1.4M345.1 324.36h1.4M345.1 322.94h1.4M345.1 321.69h1.4M344.0 320.57h2.5M345.1 313.22h1.4M345.1 308.92h1.4M345.1 305.87h1.4M345.1 303.5h1.4M345.1 301.57h1.4M345.1 299.93h1.4M345.1 298.52h1.4M345.1 297.27h1.4M344.0 296.15h2.5M345.1 288.8h1.4M345.1 284.5h1.4M345.1 281.44h1.4M345.1 279.08h1.4M345.1 277.14h1.4M345.1 275.51h1.4M345.1 274.09h1.4M345.1 272.84h1.4M344.0 271.73h2.5M345.1 264.37h1.4M345.1 260.07h1.4M345.1 257.02h1.4M345.1 254.65h1.4M345.1 252.72h1.4M345.1 251.08h1.4M345.1 249.67h1.4M345.1 248.42h1.4M344.0 247.3h2.5M346.5 345v2.5M353.84 345v1.4M358.13 345v1.4M361.18 345v1.4M363.54 345v1.4M365.47 345v1.4M367.1 345v1.4M368.51 345v1.4M369.76 345v1.4M370.88 345v2.5M378.21 345v1.4M382.5 345v1.4M385.55 345v1.4M387.91 345v1.4M389.84 345v1.4M391.47 345v1.4M392.89 345v1.4M394.13 345v1.4M395.25 345v2.5M402.59 345v1.4M406.88 345v1.4M409.93 345v1.4M412.29 345v1.4M414.22 345v1.4M415.85 345v1.4M417.26 345v1.4M418.51 345v1.4M419.62 345v2.5M426.96 345v1.4M431.25 345v1.4M434.3 345v1.4M436.66 345v1.4M438.59 345v1.4M440.22 345v1.4M441.64 345v1.4M442.88 345v1.4M444 345v2.5" stroke="#444" stroke-width="0.7" fill="none"/>
<text x="350.4" y="354.5" font-family='"Liberation Sans", sans-serif' font-size="6.4" fill="#222" stroke="#222" stroke-width="0.15" textLength="92.3" lengthAdjust="spacing">CD25 FITC:FL1-H LOGAR</text>
<text transform="translate(343 341) rotate(-90)" x="0" y="0" font-family='"Liberation Sans", sans-serif' font-size="6.4" fill="#bbb" stroke="#bbb" stroke-width="0.15" textLength="92" lengthAdjust="spacing">CD40L APC:FL4-H LOGAR</text>
<text x="0" y="377.5" font-family='"Liberation Sans", sans-serif' font-weight="bold" font-size="14">B</text>
<path d="M66.6 395C66.6 390.88 71.1 387.5 76.6 387.5H140.4C144.8 387.5 148.4 386.7 148.4 381C148.4 386.7 152 387.5 156.4 387.5H221.7C227.2 387.5 231.7 390.88 231.7 395" stroke="#222" stroke-width="1.35" fill="none"/>
<path d="M67.3 419.5C67.3 415.93 71.8 413 77.3 413H125C129.4 413 133 412.2 133 406.5C133 412.2 136.6 413 141 413H187C192.5 413 197 415.93 197 419.5" stroke="#222" stroke-width="1.35" fill="none"/>
<text x="145.9" y="378.6" font-family='"Liberation Sans", sans-serif' font-size="8.7" fill="#222"><tspan font-style="italic">P</tspan> = .009</text>
<text x="123.3" y="403.2" font-family='"Liberation Sans", sans-serif' font-size="8.7" fill="#222"><tspan font-style="italic">P</tspan> = .005</text>
<path d="M343.25 393.5C343.25 389.38 347.75 386 353.25 386H417.5C421.9 386 425.5 385.2 425.5 380C425.5 385.2 429.1 386 433.5 386H496.6C502.1 386 506.6 389.38 506.6 393.5" stroke="#222" stroke-width="1.35" fill="none"/>
<path d="M337.5 425C337.5 420.88 342 417.5 347.5 417.5H393.75C398.15 417.5 401.75 416.7 401.75 410.75C401.75 416.7 405.35 417.5 409.75 417.5H456C461.5 417.5 466 420.88 466 425" stroke="#222" stroke-width="1.35" fill="none"/>
<text x="419.5" y="373.7" font-family='"Liberation Sans", sans-serif' font-size="8.7" fill="#222"><tspan font-style="italic">P</tspan> = .019</text>
<text x="393.3" y="408.1" font-family='"Liberation Sans", sans-serif' font-size="8.7" fill="#222"><tspan font-style="italic">P</tspan> = .019</text>
<path d="M44.3 417.5V578.3H253" stroke="#333" stroke-width="1.1" fill="none"/>
<text x="31.6" y="575.8" text-anchor="end" font-family='"Liberation Sans", sans-serif' font-weight="bold" font-size="7.2" fill="#222">0</text>
<text x="31.6" y="551.5" text-anchor="end" font-family='"Liberation Sans", sans-serif' font-weight="bold" font-size="7.2" fill="#222">5</text>
<text x="31.6" y="527.2" text-anchor="end" font-family='"Liberation Sans", sans-serif' font-weight="bold" font-size="7.2" fill="#222">10</text>
<text x="31.6" y="502.9" text-anchor="end" font-family='"Liberation Sans", sans-serif' font-weight="bold" font-size="7.2" fill="#222">15</text>
<text x="31.6" y="478.6" text-anchor="end" font-family='"Liberation Sans", sans-serif' font-weight="bold" font-size="7.2" fill="#222">20</text>
<text x="31.6" y="454.3" text-anchor="end" font-family='"Liberation Sans", sans-serif' font-weight="bold" font-size="7.2" fill="#222">25</text>
<text x="31.6" y="430" text-anchor="end" font-family='"Liberation Sans", sans-serif' font-weight="bold" font-size="7.2" fill="#222">30</text>
<path d="M40.8 570.7H44.3M40.8 546.6H44.3M40.8 522.5H44.3M40.8 498.4H44.3M40.8 474.3H44.3M40.8 450.2H44.3M40.8 426.1H44.3M70.4 578.3v3M101.4 578.3v3M132.9 578.3v3M164.4 578.3v3M195.9 578.3v3M226.9 578.3v3" stroke="#333" stroke-width="0.9" fill="none"/>
<path d="M70.38 451.25V486.25M70.38 530.5V557.5M69.17 451.25h2.4M69.17 557.5h2.4" stroke="#222" stroke-width="0.9" fill="none"/>
<rect x="66.25" y="486.25" width="8.25" height="44.25" fill="#fff" stroke="#222" stroke-width="0.9"/>
<path d="M66.25 518.75H74.5" stroke="#000" stroke-width="1.4"/>
<path d="M101.38 441.25V488.25M101.38 528V559.5M100.17 441.25h2.4M100.17 559.5h2.4" stroke="#222" stroke-width="0.9" fill="none"/>
<rect x="97" y="488.25" width="8.75" height="39.75" fill="#c8c8c8" stroke="#222" stroke-width="0.9"/>
<path d="M97 503.75H105.75" stroke="#000" stroke-width="1.4"/>
<path d="M132.88 435.75V492.5M132.88 537V558M131.68 435.75h2.4M131.68 558h2.4" stroke="#222" stroke-width="0.9" fill="none"/>
<rect x="128.75" y="492.5" width="8.25" height="44.5" fill="#a4a4a4" stroke="#222" stroke-width="0.9"/>
<path d="M128.75 508H137" stroke="#000" stroke-width="1.4"/>
<path d="M164.38 436.25V491.75M164.38 545.5V556.25M163.18 436.25h2.4M163.18 556.25h2.4" stroke="#222" stroke-width="0.9" fill="none"/>
<rect x="160.5" y="491.75" width="7.75" height="53.75" fill="#858585" stroke="#222" stroke-width="0.9"/>
<path d="M160.5 521.5H168.25" stroke="#000" stroke-width="1.4"/>
<path d="M195.88 513.25V529.5M195.88 555.5V556.25M194.68 513.25h2.4M194.68 556.25h2.4" stroke="#222" stroke-width="0.9" fill="none"/>
<rect x="191.75" y="529.5" width="8.25" height="26" fill="#5a5a5a" stroke="#222" stroke-width="0.9"/>
<path d="M191.75 546.75H200" stroke="#000" stroke-width="1.4"/>
<path d="M226.88 528.25V543.25M226.88 564V565.5M225.68 528.25h2.4M225.68 565.5h2.4" stroke="#222" stroke-width="0.9" fill="none"/>
<rect x="222.5" y="543.25" width="8.75" height="20.75" fill="#333" stroke="#222" stroke-width="0.9"/>
<path d="M222.5 561.25H231.25" stroke="#4a4a4a" stroke-width="1.4"/>
<text x="70.4" y="589.5" text-anchor="middle" font-family='"Liberation Sans", sans-serif' font-weight="bold" font-size="7.2" fill="#222">0</text>
<text x="101.4" y="589.5" text-anchor="middle" font-family='"Liberation Sans", sans-serif' font-weight="bold" font-size="7.2" fill="#222">1</text>
<text x="132.9" y="589.5" text-anchor="middle" font-family='"Liberation Sans", sans-serif' font-weight="bold" font-size="7.2" fill="#222">10</text>
<text x="164.4" y="589.5" text-anchor="middle" font-family='"Liberation Sans", sans-serif' font-weight="bold" font-size="7.2" fill="#222">100</text>
<text x="195.9" y="589.5" text-anchor="middle" font-family='"Liberation Sans", sans-serif' font-weight="bold" font-size="7.2" fill="#222">1000</text>
<text x="226.9" y="589.5" text-anchor="middle" font-family='"Liberation Sans", sans-serif' font-weight="bold" font-size="7.2" fill="#222">10000</text>
<text transform="translate(17 475.5) rotate(-90)" x="0" y="0" text-anchor="middle" font-family='"Liberation Sans", sans-serif' font-weight="bold" font-size="10.2" fill="#111">% CD25+IFN+ T cells</text>
<text x="72.5" y="606" font-family='"Liberation Serif", serif' font-size="10.5" fill="#222" textLength="127" lengthAdjust="spacingAndGlyphs">Concentration of 5-azaC (nM)</text>
<path d="M312.2 416V578.4H520" stroke="#333" stroke-width="1.1" fill="none"/>
<text x="297.4" y="575.8" text-anchor="end" font-family='"Liberation Sans", sans-serif' font-weight="bold" font-size="7.2" fill="#222">0</text>
<text x="297.4" y="551.5" text-anchor="end" font-family='"Liberation Sans", sans-serif' font-weight="bold" font-size="7.2" fill="#222">5</text>
<text x="297.4" y="527.2" text-anchor="end" font-family='"Liberation Sans", sans-serif' font-weight="bold" font-size="7.2" fill="#222">10</text>
<text x="297.4" y="502.9" text-anchor="end" font-family='"Liberation Sans", sans-serif' font-weight="bold" font-size="7.2" fill="#222">15</text>
<text x="297.4" y="478.6" text-anchor="end" font-family='"Liberation Sans", sans-serif' font-weight="bold" font-size="7.2" fill="#222">20</text>
<text x="297.4" y="454.3" text-anchor="end" font-family='"Liberation Sans", sans-serif' font-weight="bold" font-size="7.2" fill="#222">25</text>
<text x="297.4" y="430" text-anchor="end" font-family='"Liberation Sans", sans-serif' font-weight="bold" font-size="7.2" fill="#222">30</text>
<path d="M308.5 570.2H312.2M308.5 546.05H312.2M308.5 521.9H312.2M308.5 497.75H312.2M308.5 473.6H312.2M308.5 449.45H312.2M308.5 425.3H312.2M337.6 578.4v3M368.9 578.4v3M400 578.4v3M431.3 578.4v3M461.9 578.4v3M494 578.4v3" stroke="#333" stroke-width="0.9" fill="none"/>
<path d="M337.62 428.75V456.75M337.62 566.25V567M336.43 428.75h2.4M336.43 567h2.4" stroke="#222" stroke-width="0.9" fill="none"/>
<rect x="333.25" y="456.75" width="8.75" height="109.5" fill="#fff" stroke="#222" stroke-width="0.9"/>
<path d="M333.25 511.75H342" stroke="#000" stroke-width="1.4"/>
<path d="M368.88 435.75V465M368.88 560.5V563M367.68 435.75h2.4M367.68 563h2.4" stroke="#222" stroke-width="0.9" fill="none"/>
<rect x="364.5" y="465" width="8.75" height="95.5" fill="#c8c8c8" stroke="#222" stroke-width="0.9"/>
<path d="M364.5 545H373.25" stroke="#000" stroke-width="1.4"/>
<path d="M400 436.75V490M400 563V563M398.8 436.75h2.4M398.8 563h2.4" stroke="#222" stroke-width="0.9" fill="none"/>
<rect x="395.75" y="490" width="8.5" height="73" fill="#a4a4a4" stroke="#222" stroke-width="0.9"/>
<path d="M395.75 547H404.25" stroke="#000" stroke-width="1.4"/>
<path d="M431.12 450.75V483.75M431.12 565.5V568.75M429.93 450.75h2.4M429.93 568.75h2.4" stroke="#222" stroke-width="0.9" fill="none"/>
<rect x="426.75" y="483.75" width="8.75" height="81.75" fill="#858585" stroke="#222" stroke-width="0.9"/>
<path d="M426.75 536.25H435.5" stroke="#000" stroke-width="1.4"/>
<path d="M462.6 519.25V527M462.6 567V568M461.4 519.25h2.4M461.4 568h2.4" stroke="#222" stroke-width="0.9" fill="none"/>
<rect x="456.75" y="527" width="8.25" height="40" fill="#555" stroke="#222" stroke-width="0.9"/>
<path d="M456.75 541.75H467" stroke="#000" stroke-width="1.4"/>
<path d="M493.6 548.75V555.5M493.6 566.2V567M492.4 548.75h2.4M492.4 567h2.4" stroke="#222" stroke-width="0.9" fill="none"/>
<rect x="489.25" y="555.5" width="8.25" height="10.7" fill="#333" stroke="#222" stroke-width="0.9"/>
<path d="M489.25 564.6H499" stroke="#4a4a4a" stroke-width="1.4"/>
<text x="337.6" y="589.5" text-anchor="middle" font-family='"Liberation Sans", sans-serif' font-weight="bold" font-size="7.2" fill="#222">0</text>
<text x="368.9" y="589.5" text-anchor="middle" font-family='"Liberation Sans", sans-serif' font-weight="bold" font-size="7.2" fill="#222">1</text>
<text x="400" y="589.5" text-anchor="middle" font-family='"Liberation Sans", sans-serif' font-weight="bold" font-size="7.2" fill="#222">10</text>
<text x="431.3" y="589.5" text-anchor="middle" font-family='"Liberation Sans", sans-serif' font-weight="bold" font-size="7.2" fill="#222">100</text>
<text x="461.9" y="589.5" text-anchor="middle" font-family='"Liberation Sans", sans-serif' font-weight="bold" font-size="7.2" fill="#222">1000</text>
<text x="494" y="589.5" text-anchor="middle" font-family='"Liberation Sans", sans-serif' font-weight="bold" font-size="7.2" fill="#222">10000</text>
<text transform="translate(280 471.25) rotate(-90)" x="0" y="0" text-anchor="middle" font-family='"Liberation Sans", sans-serif' font-weight="bold" font-size="11.7" fill="#111">% CD40L+ T cells</text>
<text x="358.3" y="606.5" font-family='"Liberation Serif", serif' font-size="10.5" fill="#222" textLength="125.3" lengthAdjust="spacingAndGlyphs">Concentration of 5-azaC (nM)</text>
<text x="159.5" y="633.8" font-family='"Liberation Sans", sans-serif' font-weight="bold" font-size="12.5">C</text>
<path d="M187.5 623V770H333.8" stroke="#222" stroke-width="1.2" fill="none"/>
<path d="M184.5 770H187.5M185.8 758.94H187.5M185.8 752.47H187.5M185.8 747.87H187.5M185.8 744.31H187.5M185.8 741.4H187.5M185.8 738.94H187.5M185.8 736.81H187.5M185.8 734.93H187.5M184.5 733.25H187.5M185.8 722.19H187.5M185.8 715.72H187.5M185.8 711.12H187.5M185.8 707.56H187.5M185.8 704.65H187.5M185.8 702.19H187.5M185.8 700.06H187.5M185.8 698.18H187.5M184.5 696.5H187.5M185.8 685.44H187.5M185.8 678.97H187.5M185.8 674.37H187.5M185.8 670.81H187.5M185.8 667.9H187.5M185.8 665.44H187.5M185.8 663.31H187.5M185.8 661.43H187.5M184.5 659.75H187.5M185.8 648.69H187.5M185.8 642.22H187.5M185.8 637.62H187.5M185.8 634.06H187.5M185.8 631.15H187.5M185.8 628.69H187.5M185.8 626.56H187.5M185.8 624.68H187.5M184.5 623H187.5M187.5 770v-2.5M198.52 770v-1.4M204.96 770v-1.4M209.54 770v-1.4M213.08 770v-1.4M215.98 770v-1.4M218.43 770v-1.4M220.55 770v-1.4M222.43 770v-1.4M224.1 770v-2.5M235.12 770v-1.4M241.56 770v-1.4M246.14 770v-1.4M249.68 770v-1.4M252.58 770v-1.4M255.03 770v-1.4M257.15 770v-1.4M259.03 770v-1.4M260.7 770v-2.5M271.72 770v-1.4M278.16 770v-1.4M282.74 770v-1.4M286.28 770v-1.4M289.18 770v-1.4M291.63 770v-1.4M293.75 770v-1.4M295.63 770v-1.4M297.3 770v-2.5M308.32 770v-1.4M314.76 770v-1.4M319.34 770v-1.4M322.88 770v-1.4M325.78 770v-1.4M328.23 770v-1.4M330.35 770v-1.4M332.23 770v-1.4M333.9 770v-2.5" stroke="#444" stroke-width="0.7" fill="none"/>
<text transform="translate(182.5 764) rotate(-90)" font-family='"Liberation Sans", sans-serif' font-style="italic" font-size="8.5" fill="#8a8a8a" textLength="104" lengthAdjust="spacingAndGlyphs">FL3-Height:FL3-H Log</text>
<text x="192.2" y="784" font-family='"Liberation Sans", sans-serif' font-style="italic" font-size="8.5" fill="#7a7a7a" textLength="103.7" lengthAdjust="spacingAndGlyphs">FL2-Height:FL2-H Log</text>
<g filter="url(#bl)"><g shape-rendering="crispEdges" transform="translate(0 0.5)">
<path d="M192 631h1M192 634h1M192 635h1M193 634h1M194 634h1M194 635h1M195 633h1M195 634h1M195 635h1M195 636h1M195 637h1M196 635h1M196 636h1M197 636h1M198 633h1M198 634h1M198 635h1M198 636h1M199 635h1M199 636h1M200 633h1M200 634h1M200 635h1M200 636h1M201 634h1M201 635h1M202 633h1M202 634h1M202 635h1M203 634h1M203 635h1M203 637h1M204 632h1M204 633h1M204 636h1M204 637h1M205 633h1M205 634h1M206 632h1M206 633h1M206 634h1M206 635h1M206 637h1M207 634h1M207 635h1M208 633h1M208 634h1M208 635h1M208 637h1M209 632h1M209 634h1M209 635h1M209 638h1M210 633h1M210 634h1M210 635h1M210 636h1M211 631h1M211 633h1M211 634h1M211 635h1M211 637h1M212 633h1M212 635h1M212 636h1M213 634h1M213 635h1M213 636h1M214 633h1M214 634h1M214 635h1M215 632h1M215 633h1M215 634h1M215 635h1M216 632h1M216 633h1M216 635h1M217 631h1M217 634h1M217 635h1M217 636h1M218 634h1M218 635h1M219 634h1M220 632h1M221 633h1M221 634h1M221 635h1M222 632h1M222 633h1M222 634h1M223 633h1M223 634h1M223 636h1M224 632h1M224 633h1M225 632h1M225 633h1M226 633h1M226 634h1M228 634h1" stroke="#8a8a8a" stroke-width="1" fill="none"/><path d="M209 634h1M210 635h1M211 633h1M211 634h1M211 635h1M211 636h1M212 634h1M212 636h1M213 632h1M213 634h1M213 635h1M214 633h1M214 634h1M214 635h1M214 636h1M215 634h1M215 635h1M215 636h1M215 637h1M217 632h1M217 635h1M218 634h1M218 635h1M219 633h1M219 634h1M219 635h1M220 633h1M220 636h1M221 634h1M224 634h1" stroke="#111" stroke-width="1" fill="none"/>
<path d="M190 644h1M194 644h1M194 645h1M195 644h1M196 643h1M196 644h1M196 645h1M196 646h1M198 643h1M198 644h1M199 643h1M199 644h1M199 645h1M199 646h1M200 645h1M201 643h1M201 645h1M202 643h1M202 646h1M203 643h1M203 644h1M203 645h1M203 646h1M203 647h1M204 644h1M204 645h1M204 646h1M204 647h1M205 642h1M205 644h1M205 645h1M205 646h1M206 640h1M206 642h1M206 643h1M206 644h1M206 645h1M206 646h1M207 644h1M207 645h1M207 646h1M208 641h1M208 642h1M208 644h1M208 645h1M208 646h1M209 642h1M209 643h1M209 644h1M209 645h1M210 642h1M210 643h1M210 644h1M210 646h1M210 647h1M211 644h1M212 642h1M212 643h1M212 644h1M213 643h1M213 644h1M213 646h1M214 644h1M215 643h1M215 644h1M215 646h1M216 643h1M216 644h1M216 645h1M217 641h1M217 643h1M217 644h1M218 645h1M218 646h1M219 642h1M219 643h1M219 644h1M220 643h1M220 644h1M221 641h1M221 643h1M221 644h1M222 642h1M222 643h1M222 645h1M223 643h1M223 645h1M224 641h1M224 642h1M225 640h1M225 647h1M226 643h1M226 644h1M226 645h1M227 645h1M228 642h1M229 643h1M229 645h1" stroke="#8a8a8a" stroke-width="1" fill="none"/><path d="M201 643h1M206 644h1M207 643h1M207 644h1M208 642h1M208 645h1M210 643h1M211 641h1M211 642h1M211 643h1M212 645h1M213 643h1M213 644h1M214 643h1M214 644h1M214 645h1M215 642h1M215 643h1M215 645h1M216 642h1M217 644h1M218 643h1M218 645h1M218 646h1M219 643h1M221 643h1M222 642h1M222 643h1M223 643h1M223 646h1" stroke="#111" stroke-width="1" fill="none"/>
<path d="M273 655h1M274 655h1M275 652h1M275 653h1M275 654h1M276 654h1M276 655h1M276 657h1M277 655h1M278 653h1M279 651h1M279 653h1M279 654h1M280 652h1M280 654h1M280 655h1M281 652h1M281 653h1M281 654h1M282 652h1M282 653h1M282 654h1M283 651h1M283 652h1M283 653h1M283 654h1M283 655h1M284 650h1M284 652h1M284 653h1M285 651h1M285 655h1M286 652h1M286 653h1M286 654h1M287 652h1M287 653h1M288 651h1M288 652h1M289 650h1M289 651h1M289 652h1M289 653h1M289 654h1M290 650h1M290 651h1M290 652h1M290 653h1M291 649h1M291 650h1M291 652h1M292 650h1M292 651h1M292 653h1M293 649h1M293 651h1M294 650h1M294 651h1M294 652h1M295 649h1M295 650h1M296 648h1M297 649h1M297 651h1M298 648h1M298 649h1M298 650h1M298 651h1M299 652h1M301 648h1M301 650h1M301 651h1M302 650h1M302 651h1M303 649h1" stroke="#8a8a8a" stroke-width="1" fill="none"/><path d="M272 654h1M272 655h1M273 653h1M273 654h1M273 655h1M273 656h1M274 653h1M274 656h1M275 652h1M275 653h1M275 654h1M276 651h1M276 654h1M276 655h1M277 652h1M277 654h1M277 655h1M277 656h1M278 654h1M279 652h1M279 653h1M279 654h1M279 655h1M280 652h1M280 653h1M280 654h1M280 655h1M281 652h1M281 653h1M281 654h1M281 655h1M282 651h1M282 652h1M282 653h1M282 654h1M282 655h1M283 652h1M283 653h1M283 654h1M283 655h1M284 651h1M284 652h1M284 653h1M284 654h1M285 650h1M285 653h1M285 654h1M286 654h1M287 653h1M287 654h1M289 651h1M289 653h1" stroke="#111" stroke-width="1" fill="none"/>
<path d="M194 671h1M195 670h1M196 671h1M196 675h1M197 668h1M197 671h1M197 672h1M198 672h1M199 670h1M200 671h1M201 670h1M202 670h1M202 672h1M204 670h1M204 672h1M205 671h1M205 672h1M206 676h1M207 670h1M207 671h1M207 672h1M208 669h1M208 670h1M208 672h1M208 673h1M208 674h1M209 669h1M209 671h1M210 670h1M210 671h1M210 672h1M210 673h1M211 670h1M211 671h1M212 668h1M212 670h1M212 671h1M212 673h1M213 669h1M213 671h1M213 672h1M214 670h1M214 671h1M214 672h1M215 670h1M215 671h1M215 673h1M216 670h1M216 671h1M216 672h1M216 673h1M217 668h1M217 670h1M217 671h1M217 672h1M217 673h1M218 669h1M218 670h1M218 671h1M219 670h1M219 671h1M219 672h1M220 668h1M220 669h1M220 670h1M220 671h1M220 672h1M221 670h1M221 671h1M221 673h1M222 669h1M222 670h1M222 671h1M223 668h1M223 669h1M223 670h1M223 671h1M223 672h1M224 670h1M224 671h1M224 672h1M225 668h1M225 669h1M225 671h1M225 672h1M226 669h1M226 670h1M227 668h1M227 670h1M227 671h1M227 672h1M228 670h1M228 671h1M229 669h1M229 670h1M229 672h1M230 668h1M230 669h1M230 670h1M230 672h1M231 669h1M231 672h1M232 668h1M232 669h1M232 671h1M233 672h1M233 673h1M234 669h1M234 670h1M234 671h1M235 668h1M235 670h1M235 671h1M236 671h1M237 668h1M238 671h1M239 670h1M239 672h1M240 668h1M240 669h1M241 669h1M241 671h1M242 671h1M243 668h1M243 670h1" stroke="#8a8a8a" stroke-width="1" fill="none"/><path d="M206 671h1M208 668h1M208 671h1M209 671h1M211 670h1M211 671h1M211 672h1M211 673h1M212 668h1M212 669h1M212 671h1M213 669h1M213 671h1M213 672h1M214 671h1M215 672h1M216 670h1M216 672h1M217 669h1M217 670h1M217 671h1M217 672h1M218 669h1M218 670h1M218 671h1M218 672h1M219 669h1M219 670h1M219 671h1M219 672h1M220 668h1M220 670h1M220 671h1M221 669h1M221 670h1M221 671h1M221 672h1M222 670h1M222 671h1M222 672h1M223 670h1M223 671h1M224 669h1M224 670h1M224 671h1M224 672h1M225 669h1M225 670h1M226 669h1M226 670h1M226 672h1M227 669h1M227 670h1M227 672h1M227 673h1M227 674h1M228 668h1M228 669h1M228 670h1M228 672h1M229 669h1M229 671h1M230 670h1M230 672h1M232 668h1M232 671h1M233 669h1M233 670h1M234 672h1M236 670h1" stroke="#111" stroke-width="1" fill="none"/>
<path d="M192 684h1M192 685h1M193 685h1M195 682h1M195 683h1M195 684h1M195 685h1M196 686h1M197 686h1M198 684h1M198 687h1M199 682h1M199 683h1M199 684h1M200 682h1M200 683h1M200 684h1M200 687h1M201 681h1M201 684h1M201 685h1M201 686h1M202 681h1M202 684h1M202 686h1M204 682h1M204 683h1M204 684h1M204 686h1M205 683h1M205 684h1M205 685h1M206 682h1M206 683h1M207 683h1M207 684h1M207 685h1M208 682h1M208 683h1M208 684h1M208 686h1M209 684h1M209 686h1M210 683h1M210 684h1M210 685h1M210 686h1M211 683h1M211 684h1M212 683h1M212 685h1M212 686h1M213 684h1M213 685h1M213 686h1M214 686h1M215 681h1M215 683h1M215 684h1M215 685h1M215 687h1M216 683h1M216 684h1M216 686h1M217 679h1M217 684h1M217 685h1M218 681h1M218 682h1M218 684h1M219 681h1M220 681h1M220 682h1M220 683h1M220 684h1M220 685h1M220 686h1M221 683h1M221 686h1M221 687h1M222 683h1M222 684h1M222 685h1M223 681h1M223 683h1M223 685h1M224 680h1M224 681h1M224 682h1M224 683h1M224 684h1M225 683h1M225 684h1M225 685h1M225 686h1M226 682h1M226 683h1M226 684h1M227 682h1M227 683h1M227 684h1M227 686h1M228 682h1M228 683h1M228 684h1M229 681h1M229 682h1M229 685h1M230 680h1M230 681h1M230 683h1M230 684h1M231 682h1M231 683h1M232 682h1M232 683h1M232 684h1M233 682h1M233 684h1M233 685h1M234 684h1M235 684h1M237 683h1M237 685h1M238 682h1M238 684h1M240 681h1M241 683h1" stroke="#8a8a8a" stroke-width="1" fill="none"/><path d="M210 684h1M210 685h1M211 685h1M213 684h1M214 683h1M214 684h1M215 681h1M215 683h1M215 685h1M216 682h1M216 684h1M216 685h1M217 681h1M217 683h1M217 684h1M217 685h1M218 683h1M218 686h1M219 682h1M219 684h1M219 685h1M219 686h1M220 684h1M221 682h1M221 683h1M221 684h1M221 685h1M222 681h1M222 682h1M222 683h1M222 684h1M222 686h1M222 687h1M223 684h1M223 685h1M224 680h1M224 683h1M224 684h1M224 685h1M224 686h1M225 682h1M225 683h1M225 684h1M225 685h1M225 686h1M226 680h1M226 681h1M226 683h1M226 684h1M226 685h1M227 680h1M227 682h1M227 683h1M227 684h1M227 685h1M228 681h1M228 683h1M228 684h1M229 680h1M229 681h1M229 682h1M229 683h1M229 684h1M230 682h1M230 683h1M230 684h1M230 685h1M230 686h1M231 682h1M231 683h1M231 684h1M231 685h1M232 683h1M232 684h1M232 685h1M233 682h1M233 683h1M233 684h1M233 685h1M234 682h1M234 683h1M234 684h1M234 685h1M235 682h1M235 683h1M235 685h1M236 682h1M236 683h1M237 681h1M237 682h1M237 683h1M238 682h1M238 683h1M238 684h1M238 685h1M239 682h1M239 683h1M239 684h1M239 685h1M240 682h1M240 683h1M240 684h1M241 682h1M242 682h1" stroke="#111" stroke-width="1" fill="none"/><path d="M244 683h1M244 686h1M245 683h1M245 685h1M247 681h1M247 682h1M247 683h1M248 681h1M248 682h1M248 683h1M248 686h1M248 687h1M249 681h1M249 682h1M249 683h1M249 686h1M250 680h1M250 684h1M251 683h1M251 684h1M252 682h1M252 683h1M253 680h1M253 681h1M253 682h1M253 683h1M253 684h1M254 681h1M254 682h1M254 683h1M254 684h1M255 680h1M255 681h1M255 683h1M255 684h1M255 685h1M256 680h1M256 682h1M256 684h1M257 680h1M257 681h1M257 682h1M257 686h1M258 678h1M258 680h1M258 681h1M258 683h1M258 684h1M259 682h1M260 680h1M260 681h1M260 682h1M260 683h1M260 684h1M261 681h1M261 682h1M262 685h1M262 686h1M263 681h1M264 683h1" stroke="#9a9a9a" stroke-width="1" fill="none"/>
<path d="M253 693h1M253 696h1M253 697h1M254 694h1M255 694h1M256 696h1M257 692h1M257 695h1M257 696h1M258 694h1M258 695h1M258 696h1M259 693h1M259 694h1M261 693h1M261 694h1M261 695h1M262 694h1M262 695h1M262 696h1M263 692h1M264 691h1M264 694h1M264 695h1M264 697h1M265 693h1M265 694h1M265 695h1M266 692h1M266 694h1M266 695h1M266 696h1M266 698h1M267 692h1M267 694h1M267 695h1M267 696h1M268 694h1M268 695h1M268 696h1M269 693h1M269 695h1M269 697h1M270 693h1M270 694h1M270 695h1M270 696h1M271 692h1M271 693h1M271 695h1M271 696h1M273 693h1M273 694h1M273 695h1M273 696h1M274 693h1M274 694h1M274 696h1M274 697h1M275 692h1M275 693h1M275 694h1M275 695h1M276 693h1M276 694h1M277 695h1M277 696h1M278 690h1M278 692h1M278 693h1M278 695h1M278 697h1M279 693h1M279 694h1M279 695h1M280 693h1M280 694h1M280 695h1M281 693h1M281 694h1M282 692h1M282 693h1M282 694h1M283 692h1M283 693h1M283 694h1M283 695h1M284 693h1M284 697h1M285 691h1M285 692h1M285 693h1M285 694h1M285 695h1M286 692h1M286 694h1M286 696h1M287 691h1M287 692h1M287 693h1M287 695h1M288 692h1M288 695h1M289 693h1M289 694h1M289 696h1M290 692h1M290 693h1M290 694h1M290 695h1M291 691h1M291 692h1M291 694h1M291 695h1M291 696h1M292 693h1M292 698h1M293 692h1M293 693h1M293 695h1M294 692h1M294 693h1M294 694h1M294 695h1M295 691h1M295 692h1M295 693h1M295 694h1M295 695h1M296 695h1M297 691h1M297 692h1M297 693h1M297 694h1M298 692h1M298 694h1M299 693h1M299 696h1M300 693h1M300 694h1M300 695h1M301 691h1M302 693h1M302 695h1M303 692h1M305 692h1M307 696h1" stroke="#8a8a8a" stroke-width="1" fill="none"/><path d="M261 696h1M262 694h1M262 695h1M263 694h1M263 695h1M264 693h1M264 696h1M265 695h1M266 694h1M266 695h1M266 696h1M267 693h1M267 694h1M267 695h1M268 692h1M268 693h1M268 694h1M268 695h1M269 693h1M269 694h1M269 695h1M269 696h1M269 698h1M270 694h1M270 695h1M270 696h1M271 692h1M271 693h1M271 694h1M271 695h1M272 691h1M272 693h1M272 694h1M272 695h1M272 696h1M272 697h1M273 693h1M273 695h1M273 696h1M273 697h1M274 692h1M274 693h1M274 694h1M274 695h1M274 696h1M275 692h1M275 693h1M275 694h1M275 695h1M275 696h1M276 692h1M276 693h1M276 694h1M277 692h1M277 693h1M277 694h1M277 695h1M277 696h1M278 693h1M278 694h1M279 693h1M279 694h1M279 695h1M280 692h1M280 693h1M280 694h1M280 695h1M280 696h1M282 693h1M282 694h1M282 695h1M283 694h1M283 695h1M284 693h1M285 692h1M285 694h1M285 696h1M286 693h1M286 694h1M286 695h1M287 693h1M287 695h1M287 696h1M288 694h1" stroke="#111" stroke-width="1" fill="none"/>
</g></g>
<path d="M233.75 633.3H354M234.5 643.9H354M312 654.3H354M248.75 668.4H354M276.25 682.4H354M315 696.6H354" stroke="#3a3a3a" stroke-width="1" stroke-dasharray="6 1" fill="none"/>
<path d="M353.5 631.5999999999999L357.8 633.3L353.5 635.0ZM353.5 642.1999999999999L357.8 643.9L353.5 645.6ZM353.5 652.5999999999999L357.8 654.3L353.5 656.0ZM353.5 666.6999999999999L357.8 668.4L353.5 670.1ZM353.5 680.6999999999999L357.8 682.4L353.5 684.1ZM353.5 694.9L357.8 696.6L353.5 698.3000000000001Z" fill="#111"/>
<g font-family='"Liberation Serif", serif' font-size="8.6" fill="#111" stroke="#111" stroke-width="0.15">
<text x="363.2" y="634.3">IL-2</text>
<text x="363.2" y="648">IL-4</text>
<text x="363.2" y="658.5">IL-6</text>
<text x="363.2" y="672.7">IL-10</text>
<text x="363.2" y="686.5">TNF-α</text>
<text x="363.2" y="701.5">IFN-γ</text>
</g>
<path d="M216.5 689.5C216.5 695.5 216.5 695.5 221.5 695.5H228.2C231.7 695.5 233.2 695.5 233.2 700.5C233.2 695.5 234.7 695.5 238.2 695.5H245C250 695.5 250 695.5 250 689.5" stroke="#111" stroke-width="1.8" fill="none"/>
<path d="M266 700C266 706 266 706 271 706H277C280.5 706 282 706 282 711.5C282 706 283.5 706 287 706H293.7C298.7 706 298.7 706 298.7 700" stroke="#111" stroke-width="1.8" fill="none"/>
<text x="218.7" y="713" font-family='"Liberation Serif", serif' font-size="7.5" fill="#333"><tspan font-style="italic">P</tspan> = .003</text>
<text x="268" y="723" font-family='"Liberation Serif", serif' font-size="7.5" fill="#333"><tspan font-style="italic">P</tspan> = .03</text>
<rect x="315.6" y="726" width="20.8" height="6.6" fill="#a8a8a8" stroke="#333" stroke-width="0.8"/>
<rect x="315.6" y="736.5" width="20.8" height="6.8" fill="#1a1a1a" stroke="#111" stroke-width="0.8"/>
<text x="339" y="732.3" font-family='"Liberation Sans", sans-serif' font-size="8.5" fill="#222">5-azaC 0nM</text>
<text x="339" y="742.9" font-family='"Liberation Sans", sans-serif' font-size="8.5" fill="#222">5-azaC 1 µM</text>
</svg></body></html>
